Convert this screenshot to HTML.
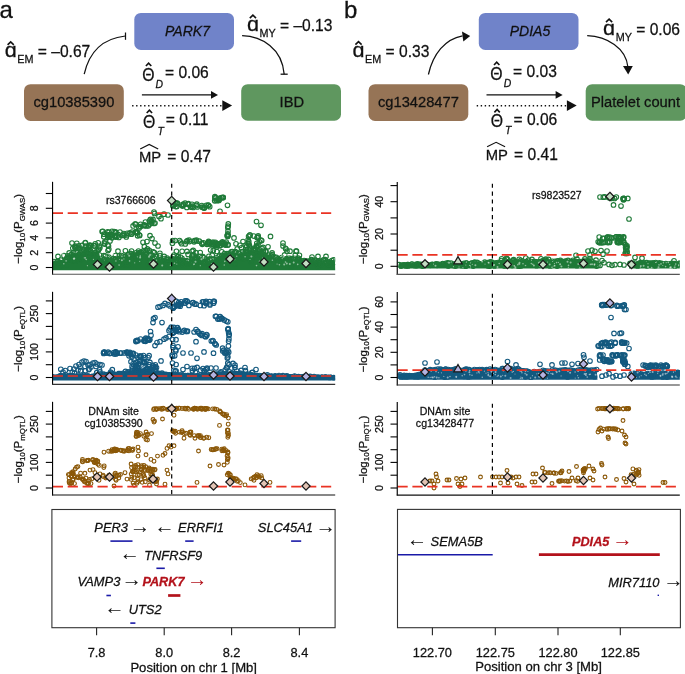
<!DOCTYPE html>
<html><head><meta charset="utf-8"><title>Figure</title>
<style>html,body{margin:0;padding:0;background:#fff}svg{display:block}</style></head>
<body>
<svg width="685" height="674" viewBox="0 0 685 674" font-family='"Liberation Sans", sans-serif' fill="#111">
<rect width="685" height="674" fill="#fff"/><g opacity="0.999">
<rect x="134.3" y="12.9" width="99.7" height="37.1" rx="6.5" fill="#7083c9" stroke="none"/><rect x="24" y="84.2" width="99.8" height="36.8" rx="6.5" fill="#967456" stroke="none"/><rect x="241.2" y="84.2" width="99.8" height="36.5" rx="6.5" fill="#5f975f" stroke="none"/><text x="187.5" y="35.9" font-size="14" font-style="italic" text-anchor="middle">PARK7</text><text x="73.9" y="107.4" font-size="14.7" text-anchor="middle">cg10385390</text><text x="291.8" y="107.2" font-size="14.7" text-anchor="middle">IBD</text>
<rect x="478.8" y="12.9" width="99.7" height="37.1" rx="6.5" fill="#7083c9" stroke="none"/><rect x="368.5" y="84.2" width="99.8" height="36.8" rx="6.5" fill="#967456" stroke="none"/><rect x="585.7" y="84.2" width="101" height="36.5" rx="6.5" fill="#5f975f" stroke="none"/><text x="530" y="35.9" font-size="14" font-style="italic" text-anchor="middle">PDIA5</text><text x="418.4" y="107.4" font-size="14.7" text-anchor="middle">cg13428477</text><text x="635.5" y="107.2" font-size="14.7" text-anchor="middle">Platelet count</text>
<text x="-0.5" y="18" font-size="24">a</text>
<text x="344" y="17.8" font-size="24">b</text>
<text transform="translate(4.7 57.3) scale(1.08 1)" font-size="20">ɑ</text><path d="M7.6 44.8L10.7 41.9L13.8 44.8" stroke="#111" stroke-width="1.6" fill="none" stroke-linejoin="miter"/><text x="17.3" y="63.4" font-size="10.8">EM</text><text x="37.8" y="57.3" font-size="15.6">= –0.67</text>
<text transform="translate(246.9 30.6) scale(1.08 1)" font-size="20">ɑ</text><path d="M249.8 18.1L252.9 15.2L256.0 18.1" stroke="#111" stroke-width="1.6" fill="none" stroke-linejoin="miter"/><text x="259.5" y="36.7" font-size="10.8">MY</text><text x="280.0" y="30.6" font-size="15.6">= –0.13</text>
<text transform="translate(352.5 57.1) scale(1.08 1)" font-size="20">ɑ</text><path d="M355.4 44.6L358.5 41.7L361.6 44.6" stroke="#111" stroke-width="1.6" fill="none" stroke-linejoin="miter"/><text x="365.09999999999997" y="63.2" font-size="10.8">EM</text><text x="385.59999999999997" y="57.1" font-size="15.6">= 0.33</text>
<text transform="translate(603.0999999999999 34.6) scale(1.08 1)" font-size="20">ɑ</text><path d="M606.0 22.1L609.1 19.2L612.2 22.1" stroke="#111" stroke-width="1.6" fill="none" stroke-linejoin="miter"/><text x="615.6999999999999" y="40.7" font-size="10.8">MY</text><text x="636.1999999999999" y="34.6" font-size="15.6">= 0.06</text>
<text transform="translate(142.20000000000002 81.0) scale(0.86 1)" font-size="18.4">Θ</text><path d="M145.9 66.0L148.6 63.1L151.3 66.0" stroke="#111" stroke-width="1.6" fill="none" stroke-linejoin="miter"/><text x="155.6" y="87.80000000000001" font-size="10.4" font-style="italic">D</text><text x="165.0" y="78.4" font-size="15.6">= 0.06</text>
<text transform="translate(143.0 128.0) scale(0.86 1)" font-size="18.4">Θ</text><path d="M146.7 113.0L149.4 110.1L152.1 113.0" stroke="#111" stroke-width="1.6" fill="none" stroke-linejoin="miter"/><text x="157.39999999999998" y="134.8" font-size="10.4" font-style="italic">T</text><text x="165.79999999999998" y="125.4" font-size="15.6">= 0.11</text>
<text transform="translate(490.3 80.0) scale(0.86 1)" font-size="18.4">Θ</text><path d="M494.0 65.0L496.7 62.1L499.4 65.0" stroke="#111" stroke-width="1.6" fill="none" stroke-linejoin="miter"/><text x="503.7" y="86.80000000000001" font-size="10.4" font-style="italic">D</text><text x="513.1" y="77.4" font-size="15.6">= 0.03</text>
<text transform="translate(490.7 127.39999999999999) scale(0.86 1)" font-size="18.4">Θ</text><path d="M494.4 112.4L497.1 109.5L499.8 112.4" stroke="#111" stroke-width="1.6" fill="none" stroke-linejoin="miter"/><text x="505.09999999999997" y="134.2" font-size="10.4" font-style="italic">T</text><text x="513.5" y="124.8" font-size="15.6">= 0.06</text>
<text x="138.9" y="162.0" font-size="14.8">MP</text><text x="167.20000000000002" y="162.0" font-size="15.6">= 0.47</text><path d="M140.20000000000002 148.9Q145.20000000000002 146.4 149.20000000000002 144.4Q153.20000000000002 146.4 158.20000000000002 148.9" stroke="#111" stroke-width="1.15" fill="none"/>
<text x="485.8" y="159.9" font-size="14.8">MP</text><text x="514.1" y="159.9" font-size="15.6">= 0.41</text><path d="M487.1 146.8Q492.1 144.3 496.1 142.3Q500.1 144.3 505.1 146.8" stroke="#111" stroke-width="1.15" fill="none"/>
<path d="M141.9 94.9H212" stroke="#111" stroke-width="1.25" fill="none"/><path d="M218 94.9l-7 -3.8v7.6z" fill="#111"/><path d="M132.1 105.7H223" stroke="#111" stroke-width="1.4" stroke-dasharray="1.4 2.6" fill="none"/><path d="M232.1 105.6l-9.8 -5.4v10.8z" fill="#111"/>
<path d="M486.5 94.9H556.6" stroke="#111" stroke-width="1.25" fill="none"/><path d="M562.6 94.9l-7 -3.8v7.6z" fill="#111"/><path d="M476.70000000000005 105.7H567.6" stroke="#111" stroke-width="1.4" stroke-dasharray="1.4 2.6" fill="none"/><path d="M576.7 105.6l-9.8 -5.4v10.8z" fill="#111"/>
<path d="M84.2 74.2C88.8 53.7 100.8 38.7 125.3 36" stroke="#111" stroke-width="1.25" fill="none"/>
<path d="M125.5 32.5V39.8" stroke="#111" stroke-width="1.25" fill="none"/>
<path d="M242.1 35.7C262 36.5 282 48 284.2 74.2" stroke="#111" stroke-width="1.3" fill="none"/>
<path d="M280.6 74.2H287.7" stroke="#111" stroke-width="1.3" fill="none"/>
<path d="M428.4 74.5C433 54 445 39 462.5 35.8" stroke="#111" stroke-width="1.25" fill="none"/>
<path d="M470.2 36.1L462 31.5L463.3 41.5Z" fill="#111"/>
<path d="M587.2 35.7C607 36.5 626 48 627.9 67" stroke="#111" stroke-width="1.25" fill="none"/>
<path d="M628.2 74.5L623 66.1H632.8Z" fill="#111"/>
<defs><style>text{stroke:#111;stroke-width:.26px}text.r{stroke:#b3121b}text.ar{stroke:none}.pg,.pb,.pm{fill:none}.pg{stroke:#1f7a38;stroke-width:1.1}.pb{stroke:#13597f;stroke-width:1.1}.pm{stroke:#8b5808;stroke-width:1.12}</style>
<clipPath id="ca0"><rect x="52.8" y="177.8" width="282.4" height="96.0"/></clipPath>
<clipPath id="ca1"><rect x="52.8" y="287.8" width="282.4" height="96.59999999999997"/></clipPath>
<clipPath id="ca2"><rect x="52.8" y="397.8" width="282.4" height="97.39999999999998"/></clipPath>
<clipPath id="cb0"><rect x="397.5" y="178" width="282.29999999999995" height="96.39999999999998"/></clipPath>
<clipPath id="cb1"><rect x="397.5" y="288" width="282.29999999999995" height="97"/></clipPath>
<clipPath id="cb2"><rect x="397.5" y="398" width="282.29999999999995" height="97.5"/></clipPath>
</defs>
<path d="M52.8 270.2L52.8 262.7L54.1 262.3L55.4 263.1L56.7 262.0L58.0 262.7L59.3 262.3L60.6 261.6L61.9 262.3L63.2 260.9L64.5 261.0L65.8 259.7L67.1 259.1L68.4 258.7L69.7 257.7L71.0 254.8L72.3 253.6L73.6 254.0L74.9 254.2L76.2 253.2L77.5 252.5L78.8 253.2L80.1 251.1L81.4 252.5L82.7 251.4L84.0 251.0L85.3 250.9L86.6 251.1L87.9 251.9L89.2 250.7L90.5 251.5L91.8 251.8L93.1 251.6L94.4 252.1L95.7 251.5L97.0 251.7L98.3 252.7L99.6 255.8L100.9 257.6L102.2 258.8L103.5 260.6L104.8 261.7L106.1 262.7L107.4 263.3L108.7 262.9L110.0 261.9L111.3 262.0L112.6 261.4L113.9 261.6L115.2 261.1L116.5 260.2L117.8 261.4L119.1 259.7L120.4 260.1L121.7 260.6L123.0 258.5L124.3 258.0L125.6 255.9L126.9 256.1L128.2 255.5L129.5 254.4L130.8 254.1L132.1 252.4L133.4 253.1L134.7 252.9L136.0 252.8L137.3 252.6L138.6 253.3L139.9 253.5L141.2 252.7L142.5 253.0L143.8 251.9L145.1 253.1L146.4 253.8L147.7 255.2L149.0 255.6L150.3 255.4L151.6 256.4L152.9 257.7L154.2 257.3L155.5 258.6L156.8 258.0L158.1 257.9L159.4 257.8L160.7 259.1L162.0 258.0L163.3 258.2L164.6 258.4L165.9 259.6L167.2 258.6L168.5 259.6L169.8 260.2L171.1 261.2L172.4 261.5L173.7 261.9L175.0 261.1L176.3 261.7L177.6 261.9L178.9 263.1L180.2 263.5L181.5 262.1L182.8 262.1L184.1 262.2L185.4 262.2L186.7 262.7L188.0 262.9L189.3 262.3L190.6 261.8L191.9 262.5L193.2 262.5L194.5 262.8L195.8 263.5L197.1 263.0L198.4 262.7L199.7 262.9L201.0 262.9L202.3 261.7L203.6 263.1L204.9 262.7L206.2 262.8L207.5 262.5L208.8 261.7L210.1 261.6L211.4 260.9L212.7 261.3L214.0 259.3L215.3 258.4L216.6 257.7L217.9 256.6L219.2 256.2L220.5 255.0L221.8 254.2L223.1 253.8L224.4 253.0L225.7 253.1L227.0 252.4L228.3 253.8L229.6 253.2L230.9 252.2L232.2 252.3L233.5 252.5L234.8 252.6L236.1 252.3L237.4 253.6L238.7 254.0L240.0 253.1L241.3 253.2L242.6 252.6L243.9 252.7L245.2 253.0L246.5 252.1L247.8 252.4L249.1 250.4L250.4 249.6L251.7 251.3L253.0 250.5L254.3 249.8L255.6 250.6L256.9 249.6L258.2 250.5L259.5 251.3L260.8 251.1L262.1 250.9L263.4 250.9L264.7 251.9L266.0 252.3L267.3 254.2L268.6 254.6L269.9 255.7L271.2 255.6L272.5 256.1L273.8 257.8L275.1 258.8L276.4 258.7L277.7 258.8L279.0 259.0L280.3 259.1L281.6 258.4L282.9 259.1L284.2 259.0L285.5 258.6L286.8 258.8L288.1 259.5L289.4 259.6L290.7 260.6L292.0 261.3L293.3 260.6L294.6 261.6L295.9 261.9L297.2 262.0L298.5 261.1L299.8 261.0L301.1 261.1L302.4 261.1L303.7 261.1L305.0 261.9L306.3 262.4L307.6 262.3L308.9 261.6L310.2 262.0L311.5 262.2L312.8 261.0L314.1 262.0L315.4 262.5L316.7 262.3L318.0 262.2L319.3 261.7L320.6 261.2L321.9 262.3L323.2 261.5L324.5 262.4L325.8 262.7L327.1 261.7L328.4 261.7L329.7 262.7L331.0 262.3L332.3 261.3L333.6 261.3L334.9 261.3L336.0 270.2Z" fill="#1f7a38" clip-path="url(#ca0)"/>
<g class="pg" clip-path="url(#ca0)"><circle cx="52.8" cy="264.0" r="2.3"/><circle cx="55.4" cy="264.0" r="2.3"/><circle cx="58.0" cy="261.6" r="2.3"/><circle cx="60.6" cy="262.6" r="2.3"/><circle cx="63.2" cy="262.3" r="2.3"/><circle cx="65.8" cy="260.1" r="2.3"/><circle cx="68.4" cy="258.3" r="2.3"/><circle cx="71.0" cy="254.9" r="2.3"/><circle cx="73.6" cy="252.9" r="2.3"/><circle cx="76.2" cy="251.7" r="2.3"/><circle cx="78.8" cy="254.6" r="2.3"/><circle cx="81.4" cy="253.0" r="2.3"/><circle cx="84.0" cy="251.1" r="2.3"/><circle cx="86.6" cy="252.4" r="2.3"/><circle cx="89.2" cy="250.5" r="2.3"/><circle cx="91.8" cy="252.9" r="2.3"/><circle cx="94.4" cy="253.1" r="2.3"/><circle cx="97.0" cy="250.9" r="2.3"/><circle cx="99.6" cy="255.0" r="2.3"/><circle cx="102.2" cy="258.2" r="2.3"/><circle cx="104.8" cy="261.0" r="2.3"/><circle cx="107.4" cy="263.6" r="2.3"/><circle cx="110.0" cy="261.1" r="2.3"/><circle cx="112.6" cy="261.2" r="2.3"/><circle cx="115.2" cy="260.0" r="2.3"/><circle cx="117.8" cy="262.6" r="2.3"/><circle cx="120.4" cy="259.7" r="2.3"/><circle cx="123.0" cy="258.4" r="2.3"/><circle cx="125.6" cy="256.2" r="2.3"/><circle cx="128.2" cy="256.7" r="2.3"/><circle cx="130.8" cy="253.9" r="2.3"/><circle cx="133.4" cy="254.3" r="2.3"/><circle cx="136.0" cy="252.8" r="2.3"/><circle cx="138.6" cy="253.4" r="2.3"/><circle cx="141.2" cy="252.7" r="2.3"/><circle cx="143.8" cy="250.5" r="2.3"/><circle cx="146.4" cy="253.6" r="2.3"/><circle cx="149.0" cy="254.7" r="2.3"/><circle cx="151.6" cy="254.9" r="2.3"/><circle cx="154.2" cy="258.2" r="2.3"/><circle cx="156.8" cy="257.0" r="2.3"/><circle cx="159.4" cy="257.7" r="2.3"/><circle cx="162.0" cy="258.6" r="2.3"/><circle cx="164.6" cy="258.6" r="2.3"/><circle cx="167.2" cy="258.0" r="2.3"/><circle cx="169.8" cy="260.3" r="2.3"/><circle cx="172.4" cy="261.7" r="2.3"/><circle cx="175.0" cy="262.0" r="2.3"/><circle cx="177.6" cy="260.7" r="2.3"/><circle cx="180.2" cy="263.7" r="2.3"/><circle cx="182.8" cy="261.4" r="2.3"/><circle cx="185.4" cy="261.5" r="2.3"/><circle cx="188.0" cy="263.7" r="2.3"/><circle cx="190.6" cy="261.8" r="2.3"/><circle cx="193.2" cy="262.6" r="2.3"/><circle cx="195.8" cy="264.3" r="2.3"/><circle cx="198.4" cy="264.0" r="2.3"/><circle cx="201.0" cy="262.7" r="2.3"/><circle cx="203.6" cy="263.4" r="2.3"/><circle cx="206.2" cy="262.8" r="2.3"/><circle cx="208.8" cy="261.7" r="2.3"/><circle cx="211.4" cy="261.5" r="2.3"/><circle cx="214.0" cy="259.2" r="2.3"/><circle cx="216.6" cy="257.8" r="2.3"/><circle cx="219.2" cy="256.2" r="2.3"/><circle cx="221.8" cy="255.6" r="2.3"/><circle cx="224.4" cy="253.6" r="2.3"/><circle cx="227.0" cy="253.5" r="2.3"/><circle cx="229.6" cy="254.5" r="2.3"/><circle cx="232.2" cy="251.5" r="2.3"/><circle cx="234.8" cy="252.8" r="2.3"/><circle cx="237.4" cy="255.0" r="2.3"/><circle cx="240.0" cy="254.1" r="2.3"/><circle cx="242.6" cy="251.5" r="2.3"/><circle cx="245.2" cy="251.9" r="2.3"/><circle cx="247.8" cy="252.2" r="2.3"/><circle cx="250.4" cy="248.3" r="2.3"/><circle cx="253.0" cy="249.8" r="2.3"/><circle cx="255.6" cy="249.3" r="2.3"/><circle cx="258.2" cy="251.0" r="2.3"/><circle cx="260.8" cy="252.0" r="2.3"/><circle cx="263.4" cy="252.1" r="2.3"/><circle cx="266.0" cy="251.3" r="2.3"/><circle cx="268.6" cy="255.2" r="2.3"/><circle cx="271.2" cy="256.0" r="2.3"/><circle cx="273.8" cy="256.7" r="2.3"/><circle cx="276.4" cy="259.9" r="2.3"/><circle cx="279.0" cy="260.4" r="2.3"/><circle cx="281.6" cy="257.5" r="2.3"/><circle cx="284.2" cy="260.3" r="2.3"/><circle cx="286.8" cy="258.5" r="2.3"/><circle cx="289.4" cy="259.6" r="2.3"/><circle cx="292.0" cy="262.8" r="2.3"/><circle cx="294.6" cy="262.6" r="2.3"/><circle cx="297.2" cy="261.0" r="2.3"/><circle cx="299.8" cy="260.8" r="2.3"/><circle cx="302.4" cy="261.1" r="2.3"/><circle cx="305.0" cy="261.4" r="2.3"/><circle cx="307.6" cy="261.4" r="2.3"/><circle cx="310.2" cy="261.4" r="2.3"/><circle cx="312.8" cy="261.6" r="2.3"/><circle cx="315.4" cy="261.0" r="2.3"/><circle cx="318.0" cy="262.4" r="2.3"/><circle cx="320.6" cy="261.0" r="2.3"/><circle cx="323.2" cy="260.1" r="2.3"/><circle cx="325.8" cy="262.2" r="2.3"/><circle cx="328.4" cy="262.1" r="2.3"/><circle cx="331.0" cy="262.3" r="2.3"/><circle cx="333.6" cy="259.9" r="2.3"/><circle cx="331.8" cy="260.6" r="2.3"/><circle cx="328.0" cy="265.0" r="2.3"/><circle cx="128.2" cy="264.6" r="2.3"/><circle cx="273.5" cy="260.9" r="2.3"/><circle cx="89.7" cy="255.5" r="2.3"/><circle cx="310.9" cy="260.2" r="2.3"/><circle cx="126.2" cy="262.3" r="2.3"/><circle cx="313.1" cy="261.5" r="2.3"/><circle cx="251.2" cy="261.7" r="2.3"/><circle cx="69.3" cy="257.5" r="2.3"/><circle cx="173.4" cy="265.2" r="2.3"/><circle cx="318.6" cy="261.2" r="2.3"/><circle cx="279.9" cy="264.3" r="2.3"/><circle cx="295.3" cy="265.2" r="2.3"/><circle cx="297.2" cy="261.8" r="2.3"/><circle cx="149.0" cy="256.6" r="2.3"/><circle cx="315.2" cy="263.4" r="2.3"/><circle cx="89.6" cy="254.1" r="2.3"/><circle cx="120.5" cy="264.4" r="2.3"/><circle cx="98.7" cy="263.9" r="2.3"/><circle cx="110.1" cy="263.3" r="2.3"/><circle cx="139.3" cy="252.7" r="2.3"/><circle cx="135.1" cy="255.5" r="2.3"/><circle cx="103.3" cy="262.0" r="2.3"/><circle cx="58.1" cy="264.0" r="2.3"/><circle cx="57.3" cy="261.5" r="2.3"/><circle cx="208.9" cy="264.1" r="2.3"/><circle cx="187.4" cy="260.7" r="2.3"/><circle cx="83.1" cy="251.2" r="2.3"/><circle cx="175.3" cy="261.8" r="2.3"/><circle cx="289.2" cy="261.4" r="2.3"/><circle cx="196.4" cy="261.7" r="2.3"/><circle cx="331.0" cy="262.9" r="2.3"/><circle cx="288.5" cy="259.3" r="2.3"/><circle cx="233.0" cy="256.7" r="2.3"/><circle cx="151.4" cy="264.4" r="2.3"/><circle cx="89.7" cy="262.6" r="2.3"/><circle cx="262.7" cy="258.0" r="2.3"/><circle cx="99.2" cy="263.2" r="2.3"/><circle cx="291.1" cy="258.7" r="2.3"/><circle cx="242.8" cy="258.8" r="2.3"/><circle cx="121.5" cy="262.3" r="2.3"/><circle cx="183.0" cy="264.7" r="2.3"/><circle cx="179.2" cy="263.8" r="2.3"/><circle cx="325.2" cy="259.7" r="2.3"/><circle cx="207.8" cy="263.7" r="2.3"/><circle cx="326.3" cy="263.1" r="2.3"/><circle cx="153.9" cy="267.1" r="2.3"/><circle cx="161.0" cy="259.9" r="2.3"/><circle cx="195.3" cy="264.3" r="2.3"/><circle cx="195.8" cy="267.0" r="2.3"/><circle cx="127.8" cy="263.2" r="2.3"/><circle cx="166.1" cy="265.3" r="2.3"/><circle cx="59.4" cy="263.5" r="2.3"/><circle cx="118.9" cy="260.4" r="2.3"/><circle cx="202.8" cy="261.2" r="2.3"/><circle cx="239.1" cy="253.4" r="2.3"/><circle cx="301.8" cy="262.4" r="2.3"/><circle cx="145.3" cy="250.8" r="2.3"/><circle cx="95.3" cy="252.6" r="2.3"/><circle cx="235.0" cy="264.0" r="2.3"/><circle cx="289.4" cy="258.4" r="2.3"/><circle cx="230.5" cy="253.1" r="2.3"/><circle cx="282.9" cy="263.5" r="2.3"/><circle cx="201.2" cy="262.4" r="2.3"/><circle cx="289.3" cy="258.8" r="2.3"/><circle cx="286.9" cy="259.8" r="2.3"/><circle cx="305.7" cy="260.8" r="2.3"/><circle cx="249.2" cy="258.5" r="2.3"/><circle cx="61.8" cy="264.8" r="2.3"/><circle cx="155.1" cy="263.9" r="2.3"/><circle cx="289.5" cy="260.3" r="2.3"/><circle cx="230.7" cy="254.1" r="2.3"/><circle cx="245.6" cy="255.9" r="2.3"/><circle cx="53.9" cy="261.5" r="2.3"/><circle cx="264.8" cy="255.1" r="2.3"/><circle cx="204.5" cy="261.5" r="2.3"/><circle cx="71.7" cy="254.5" r="2.3"/><circle cx="124.4" cy="264.3" r="2.3"/><circle cx="128.2" cy="255.0" r="2.3"/><circle cx="111.1" cy="260.8" r="2.3"/><circle cx="329.1" cy="262.0" r="2.3"/><circle cx="161.3" cy="259.8" r="2.3"/><circle cx="246.5" cy="252.5" r="2.3"/><circle cx="227.6" cy="254.2" r="2.3"/><circle cx="74.9" cy="261.2" r="2.3"/><circle cx="124.9" cy="256.9" r="2.3"/><circle cx="139.2" cy="254.7" r="2.3"/><circle cx="56.5" cy="265.8" r="2.3"/><circle cx="129.1" cy="255.0" r="2.3"/><circle cx="248.9" cy="252.2" r="2.3"/><circle cx="135.3" cy="255.3" r="2.3"/><circle cx="184.5" cy="262.7" r="2.3"/><circle cx="86.5" cy="250.3" r="2.3"/><circle cx="109.4" cy="260.3" r="2.3"/><circle cx="318.0" cy="266.4" r="2.3"/><circle cx="182.9" cy="261.1" r="2.3"/><circle cx="327.0" cy="262.2" r="2.3"/><circle cx="129.0" cy="260.5" r="2.3"/><circle cx="320.6" cy="263.9" r="2.3"/><circle cx="217.6" cy="262.9" r="2.3"/><circle cx="201.3" cy="260.5" r="2.3"/><circle cx="90.5" cy="250.8" r="2.3"/><circle cx="197.0" cy="260.9" r="2.3"/><circle cx="252.0" cy="258.2" r="2.3"/><circle cx="307.1" cy="261.9" r="2.3"/><circle cx="60.0" cy="267.1" r="2.3"/><circle cx="192.1" cy="262.8" r="2.3"/><circle cx="138.5" cy="261.1" r="2.3"/><circle cx="150.3" cy="259.7" r="2.3"/><circle cx="290.8" cy="267.1" r="2.3"/><circle cx="265.5" cy="251.8" r="2.3"/><circle cx="87.0" cy="249.9" r="2.3"/><circle cx="254.8" cy="249.2" r="2.3"/><circle cx="135.0" cy="257.1" r="2.3"/><circle cx="164.2" cy="256.4" r="2.3"/><circle cx="219.7" cy="259.4" r="2.3"/><circle cx="174.1" cy="263.1" r="2.3"/><circle cx="66.7" cy="264.4" r="2.3"/><circle cx="289.2" cy="262.3" r="2.3"/><circle cx="317.8" cy="263.5" r="2.3"/><circle cx="128.2" cy="257.0" r="2.3"/><circle cx="106.7" cy="263.3" r="2.3"/><circle cx="323.6" cy="260.1" r="2.3"/><circle cx="282.8" cy="259.0" r="2.3"/><circle cx="311.5" cy="259.7" r="2.3"/><circle cx="208.4" cy="260.9" r="2.3"/><circle cx="67.0" cy="259.1" r="2.3"/><circle cx="180.6" cy="261.4" r="2.3"/><circle cx="235.4" cy="258.5" r="2.3"/><circle cx="66.9" cy="258.1" r="2.3"/><circle cx="89.0" cy="254.8" r="2.3"/><circle cx="150.3" cy="259.9" r="2.3"/><circle cx="262.1" cy="248.6" r="2.3"/><circle cx="126.6" cy="256.4" r="2.3"/><circle cx="138.1" cy="254.8" r="2.3"/><circle cx="164.6" cy="263.0" r="2.3"/><circle cx="98.7" cy="260.3" r="2.3"/><circle cx="309.4" cy="261.8" r="2.3"/><circle cx="115.3" cy="258.9" r="2.3"/><circle cx="335.0" cy="262.3" r="2.3"/><circle cx="92.5" cy="259.6" r="2.3"/><circle cx="78.7" cy="257.3" r="2.3"/><circle cx="78.8" cy="259.0" r="2.3"/><circle cx="126.1" cy="257.4" r="2.3"/><circle cx="304.1" cy="260.5" r="2.3"/><circle cx="169.8" cy="261.3" r="2.3"/><circle cx="201.3" cy="263.1" r="2.3"/><circle cx="148.7" cy="263.8" r="2.3"/><circle cx="131.5" cy="251.0" r="2.3"/><circle cx="88.6" cy="254.4" r="2.3"/><circle cx="231.2" cy="251.8" r="2.3"/><circle cx="114.1" cy="262.9" r="2.3"/><circle cx="123.3" cy="260.7" r="2.3"/><circle cx="179.2" cy="260.4" r="2.3"/><circle cx="293.2" cy="259.0" r="2.3"/><circle cx="59.2" cy="266.2" r="2.3"/><circle cx="253.8" cy="249.3" r="2.3"/><circle cx="186.9" cy="262.1" r="2.3"/><circle cx="53.1" cy="263.3" r="2.3"/><circle cx="315.3" cy="260.2" r="2.3"/><circle cx="295.1" cy="258.8" r="2.3"/><circle cx="123.3" cy="263.9" r="2.3"/><circle cx="96.7" cy="255.0" r="2.3"/><circle cx="246.0" cy="251.1" r="2.3"/><circle cx="257.3" cy="252.0" r="2.3"/><circle cx="269.4" cy="257.5" r="2.3"/><circle cx="209.1" cy="265.9" r="2.3"/><circle cx="274.4" cy="261.6" r="2.3"/><circle cx="313.3" cy="261.1" r="2.3"/><circle cx="139.0" cy="261.4" r="2.3"/><circle cx="124.3" cy="258.2" r="2.3"/><circle cx="250.7" cy="261.1" r="2.3"/><circle cx="72.9" cy="256.1" r="2.3"/><circle cx="218.0" cy="259.7" r="2.3"/><circle cx="116.3" cy="260.5" r="2.3"/><circle cx="56.0" cy="263.7" r="2.3"/><circle cx="183.4" cy="260.6" r="2.3"/><circle cx="235.4" cy="251.7" r="2.3"/><circle cx="187.5" cy="264.1" r="2.3"/><circle cx="122.9" cy="257.2" r="2.3"/><circle cx="252.4" cy="256.8" r="2.3"/><circle cx="59.2" cy="262.4" r="2.3"/><circle cx="243.9" cy="256.9" r="2.3"/><circle cx="125.8" cy="256.8" r="2.3"/><circle cx="314.8" cy="263.7" r="2.3"/><circle cx="62.6" cy="263.0" r="2.3"/><circle cx="172.0" cy="260.2" r="2.3"/><circle cx="109.1" cy="261.0" r="2.3"/><circle cx="262.2" cy="253.9" r="2.3"/><circle cx="111.1" cy="259.8" r="2.3"/><circle cx="141.2" cy="252.1" r="2.3"/><circle cx="118.3" cy="263.1" r="2.3"/><circle cx="268.2" cy="259.1" r="2.3"/><circle cx="322.4" cy="261.9" r="2.3"/><circle cx="106.0" cy="264.4" r="2.3"/><circle cx="171.0" cy="260.0" r="2.3"/><circle cx="321.5" cy="264.5" r="2.3"/><circle cx="164.3" cy="262.4" r="2.3"/><circle cx="328.7" cy="264.5" r="2.3"/><circle cx="72.4" cy="260.7" r="2.3"/><circle cx="154.4" cy="252.6" r="2.3"/><circle cx="272.1" cy="252.9" r="2.3"/><circle cx="299.4" cy="255.3" r="2.3"/><circle cx="139.0" cy="258.7" r="2.3"/><circle cx="284.6" cy="254.9" r="2.3"/><circle cx="67.7" cy="255.8" r="2.3"/><circle cx="150.9" cy="257.1" r="2.3"/><circle cx="139.6" cy="258.9" r="2.3"/><circle cx="60.7" cy="260.0" r="2.3"/><circle cx="144.4" cy="246.7" r="2.3"/><circle cx="89.7" cy="245.2" r="2.3"/><circle cx="109.8" cy="259.5" r="2.3"/><circle cx="257.2" cy="247.0" r="2.3"/><circle cx="163.8" cy="261.1" r="2.3"/><circle cx="173.6" cy="259.0" r="2.3"/><circle cx="280.7" cy="259.7" r="2.3"/><circle cx="147.4" cy="248.9" r="2.3"/><circle cx="67.3" cy="258.1" r="2.3"/><circle cx="254.8" cy="248.0" r="2.3"/><circle cx="69.8" cy="261.2" r="2.3"/><circle cx="75.0" cy="247.9" r="2.3"/><circle cx="121.7" cy="255.5" r="2.3"/><circle cx="275.7" cy="258.1" r="2.3"/><circle cx="125.4" cy="250.8" r="2.3"/><circle cx="208.1" cy="259.9" r="2.3"/><circle cx="232.0" cy="256.7" r="2.3"/><circle cx="126.2" cy="261.5" r="2.3"/><circle cx="241.4" cy="247.8" r="2.3"/><circle cx="212.2" cy="255.2" r="2.3"/><circle cx="65.8" cy="259.8" r="2.3"/><circle cx="174.0" cy="255.0" r="2.3"/><circle cx="288.9" cy="258.4" r="2.3"/><circle cx="120.3" cy="258.1" r="2.3"/><circle cx="178.4" cy="256.1" r="2.3"/><circle cx="103.9" cy="255.7" r="2.3"/><circle cx="237.2" cy="249.0" r="2.3"/><circle cx="245.5" cy="252.4" r="2.3"/><circle cx="138.7" cy="256.6" r="2.3"/><circle cx="146.8" cy="250.3" r="2.3"/><circle cx="79.0" cy="258.4" r="2.3"/><circle cx="240.7" cy="257.9" r="2.3"/><circle cx="75.5" cy="261.1" r="2.3"/><circle cx="192.6" cy="259.8" r="2.3"/><circle cx="295.3" cy="255.1" r="2.3"/><circle cx="297.1" cy="259.7" r="2.3"/><circle cx="80.2" cy="260.0" r="2.3"/><circle cx="179.6" cy="257.6" r="2.3"/><circle cx="167.3" cy="259.5" r="2.3"/><circle cx="160.0" cy="255.6" r="2.3"/><circle cx="221.8" cy="251.8" r="2.3"/><circle cx="263.3" cy="250.3" r="2.3"/><circle cx="89.1" cy="247.3" r="2.3"/><circle cx="130.5" cy="253.3" r="2.3"/><circle cx="149.5" cy="252.1" r="2.3"/><circle cx="107.8" cy="260.2" r="2.3"/><circle cx="118.9" cy="260.4" r="2.3"/><circle cx="272.2" cy="254.7" r="2.3"/><circle cx="138.3" cy="255.4" r="2.3"/><circle cx="298.2" cy="258.1" r="2.3"/><circle cx="115.5" cy="255.5" r="2.3"/><circle cx="216.8" cy="251.5" r="2.3"/><circle cx="84.6" cy="253.7" r="2.3"/><circle cx="256.6" cy="246.7" r="2.3"/><circle cx="279.5" cy="261.2" r="2.3"/><circle cx="130.5" cy="259.8" r="2.3"/><circle cx="105.5" cy="256.0" r="2.3"/><circle cx="200.0" cy="256.4" r="2.3"/><circle cx="149.3" cy="250.3" r="2.3"/><circle cx="167.8" cy="259.3" r="2.3"/><circle cx="246.7" cy="246.7" r="2.3"/><circle cx="85.4" cy="251.6" r="2.3"/><circle cx="208.8" cy="260.2" r="2.3"/><circle cx="148.5" cy="259.7" r="2.3"/><circle cx="109.0" cy="260.1" r="2.3"/><circle cx="203.9" cy="257.7" r="2.3"/><circle cx="108.8" cy="261.5" r="2.3"/><circle cx="138.5" cy="251.0" r="2.3"/><circle cx="104.4" cy="259.5" r="2.3"/><circle cx="108.8" cy="257.0" r="2.3"/><circle cx="191.5" cy="261.2" r="2.3"/><circle cx="84.3" cy="255.0" r="2.3"/><circle cx="192.0" cy="258.0" r="2.3"/><circle cx="81.9" cy="258.9" r="2.3"/><circle cx="226.9" cy="255.4" r="2.3"/><circle cx="128.0" cy="257.6" r="2.3"/><circle cx="288.8" cy="259.0" r="2.3"/><circle cx="196.0" cy="259.6" r="2.3"/><circle cx="159.9" cy="253.3" r="2.3"/><circle cx="299.2" cy="259.1" r="2.3"/><circle cx="107.3" cy="257.6" r="2.3"/><circle cx="108.9" cy="261.5" r="2.3"/><circle cx="276.4" cy="257.3" r="2.3"/><circle cx="256.9" cy="254.4" r="2.3"/><circle cx="271.9" cy="256.0" r="2.3"/><circle cx="99.0" cy="261.4" r="2.3"/><circle cx="192.4" cy="258.0" r="2.3"/><circle cx="278.4" cy="260.7" r="2.3"/><circle cx="209.3" cy="259.2" r="2.3"/><circle cx="181.1" cy="260.8" r="2.3"/><circle cx="128.0" cy="254.8" r="2.3"/><circle cx="282.1" cy="260.6" r="2.3"/><circle cx="177.7" cy="256.7" r="2.3"/><circle cx="292.1" cy="260.0" r="2.3"/><circle cx="90.4" cy="245.6" r="2.3"/><circle cx="294.1" cy="258.0" r="2.3"/><circle cx="72.8" cy="248.3" r="2.3"/><circle cx="153.1" cy="251.9" r="2.3"/><circle cx="208.9" cy="256.3" r="2.3"/><circle cx="98.5" cy="250.0" r="2.3"/><circle cx="113.3" cy="258.7" r="2.3"/><circle cx="263.1" cy="247.4" r="2.3"/><circle cx="103.9" cy="260.0" r="2.3"/><circle cx="155.9" cy="256.6" r="2.3"/><circle cx="152.1" cy="260.2" r="2.3"/><circle cx="119.3" cy="255.9" r="2.3"/><circle cx="275.4" cy="261.2" r="2.3"/><circle cx="195.0" cy="257.4" r="2.3"/><circle cx="69.2" cy="252.9" r="2.3"/><circle cx="88.3" cy="251.5" r="2.3"/><circle cx="88.3" cy="247.0" r="2.3"/><circle cx="82.0" cy="245.4" r="2.3"/><circle cx="89.1" cy="245.5" r="2.3"/><circle cx="91.1" cy="245.6" r="2.3"/><circle cx="85.4" cy="242.5" r="2.3"/><circle cx="90.1" cy="246.0" r="2.3"/><circle cx="80.1" cy="248.0" r="2.3"/><circle cx="94.3" cy="245.7" r="2.3"/><circle cx="78.7" cy="245.8" r="2.3"/><circle cx="76.8" cy="243.3" r="2.3"/><circle cx="85.2" cy="243.0" r="2.3"/><circle cx="85.5" cy="246.1" r="2.3"/><circle cx="75.1" cy="247.0" r="2.3"/><circle cx="76.1" cy="247.8" r="2.3"/><circle cx="94.2" cy="246.1" r="2.3"/><circle cx="75.4" cy="246.1" r="2.3"/><circle cx="83.8" cy="249.4" r="2.3"/><circle cx="77.5" cy="248.7" r="2.3"/><circle cx="99.9" cy="247.8" r="2.3"/><circle cx="95.2" cy="243.8" r="2.3"/><circle cx="99.5" cy="246.0" r="2.3"/><circle cx="98.9" cy="249.1" r="2.3"/><circle cx="78.3" cy="248.2" r="2.3"/><circle cx="98.2" cy="242.8" r="2.3"/><circle cx="72.0" cy="243.1" r="2.3"/><circle cx="58.0" cy="256.4" r="2.3"/><circle cx="64.0" cy="255.7" r="2.3"/><circle cx="290.0" cy="251.2" r="2.3"/><circle cx="283.0" cy="246.0" r="2.3"/><circle cx="286.0" cy="249.0" r="2.3"/><circle cx="296.5" cy="251.2" r="2.3"/><circle cx="312.0" cy="257.1" r="2.3"/><circle cx="318.0" cy="256.4" r="2.3"/><circle cx="326.0" cy="256.4" r="2.3"/><circle cx="115.3" cy="236.3" r="2.3"/><circle cx="108.0" cy="237.2" r="2.3"/><circle cx="112.4" cy="236.7" r="2.3"/><circle cx="107.5" cy="234.6" r="2.3"/><circle cx="137.0" cy="232.6" r="2.3"/><circle cx="112.0" cy="234.6" r="2.3"/><circle cx="114.1" cy="231.5" r="2.3"/><circle cx="108.9" cy="232.3" r="2.3"/><circle cx="137.6" cy="235.8" r="2.3"/><circle cx="136.0" cy="232.4" r="2.3"/><circle cx="131.8" cy="232.0" r="2.3"/><circle cx="122.2" cy="235.5" r="2.3"/><circle cx="115.7" cy="237.1" r="2.3"/><circle cx="123.1" cy="235.1" r="2.3"/><circle cx="135.5" cy="231.9" r="2.3"/><circle cx="139.7" cy="235.4" r="2.3"/><circle cx="117.0" cy="236.6" r="2.3"/><circle cx="112.1" cy="237.8" r="2.3"/><circle cx="123.9" cy="233.6" r="2.3"/><circle cx="131.1" cy="234.2" r="2.3"/><circle cx="108.7" cy="236.2" r="2.3"/><circle cx="103.8" cy="236.7" r="2.3"/><circle cx="111.6" cy="235.5" r="2.3"/><circle cx="139.4" cy="235.1" r="2.3"/><circle cx="127.2" cy="233.3" r="2.3"/><circle cx="102.1" cy="231.5" r="2.3"/><circle cx="107.7" cy="235.3" r="2.3"/><circle cx="118.4" cy="234.7" r="2.3"/><circle cx="136.0" cy="232.1" r="2.3"/><circle cx="110.6" cy="235.6" r="2.3"/><circle cx="102.8" cy="231.3" r="2.3"/><circle cx="115.5" cy="231.9" r="2.3"/><circle cx="115.6" cy="232.7" r="2.3"/><circle cx="124.2" cy="235.2" r="2.3"/><circle cx="109.8" cy="235.4" r="2.3"/><circle cx="120.0" cy="232.1" r="2.3"/><circle cx="137.6" cy="232.9" r="2.3"/><circle cx="107.7" cy="231.9" r="2.3"/><circle cx="126.3" cy="237.0" r="2.3"/><circle cx="131.7" cy="233.9" r="2.3"/><circle cx="112.0" cy="231.3" r="2.3"/><circle cx="126.5" cy="235.0" r="2.3"/><circle cx="115.3" cy="235.5" r="2.3"/><circle cx="118.9" cy="237.5" r="2.3"/><circle cx="129.9" cy="232.9" r="2.3"/><circle cx="136.3" cy="231.5" r="2.3"/><circle cx="107.8" cy="245.1" r="2.3"/><circle cx="105.1" cy="241.5" r="2.3"/><circle cx="110.0" cy="241.0" r="2.3"/><circle cx="108.0" cy="250.6" r="2.3"/><circle cx="104.3" cy="242.9" r="2.3"/><circle cx="108.5" cy="246.1" r="2.3"/><circle cx="108.8" cy="249.3" r="2.3"/><circle cx="104.6" cy="244.1" r="2.3"/><circle cx="104.0" cy="234.2" r="2.3"/><circle cx="118.0" cy="251.2" r="2.3"/><circle cx="150.0" cy="235.7" r="2.3"/><circle cx="152.0" cy="238.6" r="2.3"/><circle cx="155.0" cy="243.1" r="2.3"/><circle cx="147.0" cy="241.6" r="2.3"/><circle cx="143.0" cy="242.3" r="2.3"/><circle cx="158.0" cy="246.0" r="2.3"/><circle cx="139.2" cy="227.9" r="2.3"/><circle cx="150.4" cy="219.4" r="2.3"/><circle cx="151.8" cy="221.7" r="2.3"/><circle cx="149.3" cy="221.0" r="2.3"/><circle cx="135.0" cy="224.1" r="2.3"/><circle cx="140.6" cy="226.5" r="2.3"/><circle cx="151.8" cy="220.5" r="2.3"/><circle cx="145.1" cy="225.6" r="2.3"/><circle cx="144.3" cy="224.9" r="2.3"/><circle cx="154.0" cy="223.4" r="2.3"/><circle cx="133.1" cy="225.9" r="2.3"/><circle cx="149.8" cy="224.1" r="2.3"/><circle cx="140.6" cy="224.3" r="2.3"/><circle cx="138.7" cy="226.7" r="2.3"/><circle cx="148.4" cy="225.8" r="2.3"/><circle cx="143.7" cy="225.6" r="2.3"/><circle cx="151.8" cy="223.2" r="2.3"/><circle cx="145.4" cy="222.0" r="2.3"/><circle cx="146.3" cy="225.9" r="2.3"/><circle cx="135.7" cy="224.2" r="2.3"/><circle cx="154.0" cy="212.0" r="2.3"/><circle cx="154.5" cy="213.5" r="2.3"/><circle cx="159.0" cy="216.4" r="2.3"/><circle cx="161.0" cy="218.7" r="2.3"/><circle cx="164.0" cy="214.2" r="2.3"/><circle cx="168.0" cy="215.0" r="2.3"/><circle cx="155.0" cy="223.1" r="2.3"/><circle cx="153.0" cy="219.4" r="2.3"/><circle cx="208.1" cy="205.1" r="2.3"/><circle cx="173.6" cy="205.5" r="2.3"/><circle cx="197.3" cy="207.0" r="2.3"/><circle cx="175.6" cy="204.1" r="2.3"/><circle cx="204.4" cy="208.1" r="2.3"/><circle cx="175.9" cy="206.6" r="2.3"/><circle cx="208.5" cy="205.4" r="2.3"/><circle cx="176.8" cy="206.4" r="2.3"/><circle cx="204.0" cy="207.8" r="2.3"/><circle cx="196.8" cy="204.2" r="2.3"/><circle cx="177.0" cy="203.5" r="2.3"/><circle cx="185.1" cy="203.2" r="2.3"/><circle cx="182.5" cy="206.1" r="2.3"/><circle cx="186.8" cy="207.5" r="2.3"/><circle cx="192.5" cy="206.2" r="2.3"/><circle cx="174.1" cy="204.4" r="2.3"/><circle cx="202.2" cy="207.2" r="2.3"/><circle cx="193.2" cy="207.4" r="2.3"/><circle cx="176.8" cy="203.4" r="2.3"/><circle cx="172.8" cy="205.8" r="2.3"/><circle cx="209.7" cy="206.7" r="2.3"/><circle cx="192.0" cy="204.3" r="2.3"/><circle cx="191.6" cy="207.2" r="2.3"/><circle cx="183.3" cy="204.2" r="2.3"/><circle cx="181.4" cy="205.1" r="2.3"/><circle cx="177.3" cy="203.0" r="2.3"/><circle cx="203.1" cy="207.6" r="2.3"/><circle cx="196.7" cy="205.6" r="2.3"/><circle cx="188.4" cy="203.7" r="2.3"/><circle cx="206.3" cy="205.3" r="2.3"/><circle cx="183.4" cy="205.2" r="2.3"/><circle cx="187.8" cy="204.3" r="2.3"/><circle cx="190.5" cy="206.7" r="2.3"/><circle cx="201.8" cy="205.6" r="2.3"/><circle cx="217.2" cy="200.7" r="2.3"/><circle cx="222.5" cy="197.5" r="2.3"/><circle cx="219.4" cy="199.4" r="2.3"/><circle cx="214.7" cy="200.8" r="2.3"/><circle cx="216.0" cy="197.8" r="2.3"/><circle cx="223.2" cy="197.4" r="2.3"/><circle cx="214.9" cy="197.9" r="2.3"/><circle cx="220.0" cy="198.2" r="2.3"/><circle cx="216.1" cy="200.0" r="2.3"/><circle cx="214.9" cy="196.7" r="2.3"/><circle cx="218.9" cy="200.5" r="2.3"/><circle cx="223.2" cy="197.6" r="2.3"/><circle cx="221.5" cy="197.6" r="2.3"/><circle cx="227.5" cy="205.3" r="2.3"/><circle cx="220.0" cy="211.3" r="2.3"/><circle cx="194.1" cy="241.8" r="2.3"/><circle cx="218.1" cy="243.8" r="2.3"/><circle cx="208.6" cy="241.4" r="2.3"/><circle cx="206.9" cy="244.3" r="2.3"/><circle cx="224.6" cy="244.6" r="2.3"/><circle cx="215.4" cy="242.3" r="2.3"/><circle cx="214.3" cy="244.9" r="2.3"/><circle cx="213.0" cy="244.3" r="2.3"/><circle cx="209.2" cy="242.3" r="2.3"/><circle cx="208.0" cy="242.8" r="2.3"/><circle cx="217.6" cy="244.4" r="2.3"/><circle cx="186.4" cy="241.6" r="2.3"/><circle cx="208.0" cy="244.0" r="2.3"/><circle cx="225.6" cy="245.1" r="2.3"/><circle cx="217.0" cy="243.7" r="2.3"/><circle cx="228.1" cy="244.7" r="2.3"/><circle cx="181.6" cy="243.7" r="2.3"/><circle cx="201.7" cy="243.2" r="2.3"/><circle cx="203.6" cy="242.9" r="2.3"/><circle cx="209.4" cy="243.3" r="2.3"/><circle cx="196.2" cy="240.9" r="2.3"/><circle cx="211.6" cy="244.7" r="2.3"/><circle cx="179.6" cy="240.6" r="2.3"/><circle cx="175.1" cy="240.6" r="2.3"/><circle cx="172.7" cy="240.5" r="2.3"/><circle cx="212.4" cy="242.3" r="2.3"/><circle cx="185.3" cy="243.9" r="2.3"/><circle cx="202.3" cy="244.3" r="2.3"/><circle cx="194.4" cy="240.5" r="2.3"/><circle cx="217.4" cy="244.4" r="2.3"/><circle cx="199.3" cy="241.2" r="2.3"/><circle cx="227.8" cy="245.1" r="2.3"/><circle cx="219.8" cy="243.7" r="2.3"/><circle cx="189.1" cy="240.1" r="2.3"/><circle cx="220.2" cy="245.7" r="2.3"/><circle cx="187.4" cy="240.6" r="2.3"/><circle cx="196.4" cy="240.0" r="2.3"/><circle cx="213.6" cy="242.3" r="2.3"/><circle cx="189.5" cy="241.6" r="2.3"/><circle cx="209.1" cy="242.5" r="2.3"/><circle cx="226.2" cy="242.1" r="2.3"/><circle cx="220.4" cy="245.3" r="2.3"/><circle cx="180.5" cy="242.0" r="2.3"/><circle cx="172.4" cy="243.2" r="2.3"/><circle cx="200.2" cy="252.5" r="2.3"/><circle cx="176.4" cy="251.3" r="2.3"/><circle cx="182.0" cy="258.4" r="2.3"/><circle cx="186.9" cy="251.4" r="2.3"/><circle cx="210.9" cy="258.5" r="2.3"/><circle cx="179.2" cy="259.6" r="2.3"/><circle cx="198.2" cy="258.4" r="2.3"/><circle cx="200.7" cy="259.7" r="2.3"/><circle cx="205.9" cy="259.1" r="2.3"/><circle cx="180.5" cy="257.4" r="2.3"/><circle cx="194.8" cy="258.0" r="2.3"/><circle cx="190.9" cy="259.5" r="2.3"/><circle cx="195.9" cy="252.7" r="2.3"/><circle cx="182.1" cy="251.3" r="2.3"/><circle cx="193.2" cy="250.4" r="2.3"/><circle cx="192.1" cy="251.3" r="2.3"/><circle cx="193.1" cy="255.3" r="2.3"/><circle cx="195.2" cy="259.3" r="2.3"/><circle cx="172.3" cy="259.1" r="2.3"/><circle cx="192.1" cy="256.0" r="2.3"/><circle cx="200.6" cy="259.1" r="2.3"/><circle cx="188.1" cy="254.4" r="2.3"/><circle cx="213.3" cy="250.6" r="2.3"/><circle cx="199.4" cy="256.8" r="2.3"/><circle cx="173.2" cy="256.5" r="2.3"/><circle cx="201.4" cy="260.1" r="2.3"/><circle cx="186.2" cy="260.6" r="2.3"/><circle cx="194.0" cy="255.1" r="2.3"/><circle cx="210.6" cy="250.1" r="2.3"/><circle cx="202.9" cy="256.7" r="2.3"/><circle cx="217.8" cy="244.3" r="2.3"/><circle cx="219.6" cy="245.4" r="2.3"/><circle cx="215.3" cy="244.9" r="2.3"/><circle cx="221.2" cy="243.2" r="2.3"/><circle cx="225.1" cy="243.0" r="2.3"/><circle cx="216.4" cy="246.9" r="2.3"/><circle cx="222.8" cy="242.9" r="2.3"/><circle cx="216.9" cy="245.2" r="2.3"/><circle cx="222.4" cy="241.9" r="2.3"/><circle cx="223.9" cy="243.5" r="2.3"/><circle cx="212.6" cy="243.9" r="2.3"/><circle cx="215.5" cy="245.8" r="2.3"/><circle cx="228.0" cy="235.4" r="2.3"/><circle cx="227.8" cy="233.9" r="2.3"/><circle cx="227.8" cy="235.6" r="2.3"/><circle cx="228.1" cy="226.2" r="2.3"/><circle cx="227.1" cy="235.8" r="2.3"/><circle cx="228.3" cy="223.9" r="2.3"/><circle cx="227.5" cy="235.1" r="2.3"/><circle cx="227.7" cy="236.4" r="2.3"/><circle cx="227.8" cy="227.6" r="2.3"/><circle cx="228.0" cy="231.2" r="2.3"/><circle cx="234.0" cy="237.9" r="2.3"/><circle cx="236.0" cy="243.8" r="2.3"/><circle cx="240.0" cy="245.3" r="2.3"/><circle cx="243.0" cy="241.6" r="2.3"/><circle cx="246.0" cy="245.3" r="2.3"/><circle cx="248.8" cy="241.7" r="2.3"/><circle cx="248.6" cy="236.3" r="2.3"/><circle cx="259.3" cy="241.8" r="2.3"/><circle cx="260.9" cy="240.2" r="2.3"/><circle cx="248.2" cy="239.5" r="2.3"/><circle cx="256.3" cy="246.0" r="2.3"/><circle cx="261.7" cy="240.6" r="2.3"/><circle cx="253.8" cy="236.1" r="2.3"/><circle cx="257.0" cy="237.5" r="2.3"/><circle cx="250.1" cy="235.1" r="2.3"/><circle cx="248.1" cy="243.0" r="2.3"/><circle cx="249.7" cy="246.4" r="2.3"/><circle cx="249.2" cy="245.2" r="2.3"/><circle cx="249.8" cy="235.2" r="2.3"/><circle cx="258.1" cy="237.8" r="2.3"/><circle cx="258.3" cy="237.2" r="2.3"/><circle cx="248.7" cy="244.1" r="2.3"/><circle cx="258.0" cy="245.1" r="2.3"/><circle cx="258.2" cy="235.9" r="2.3"/><circle cx="256.8" cy="243.3" r="2.3"/><circle cx="256.5" cy="221.6" r="2.3"/><circle cx="261.0" cy="225.3" r="2.3"/><circle cx="270.5" cy="236.4" r="2.3"/><circle cx="268.0" cy="246.8" r="2.3"/><circle cx="283.0" cy="243.1" r="2.3"/><circle cx="285.5" cy="248.3" r="2.3"/><circle cx="287.0" cy="251.2" r="2.3"/><circle cx="296.0" cy="251.2" r="2.3"/></g>
<g fill="#fff" fill-opacity="0.5" clip-path="url(#ca0)"><circle cx="170.5" cy="265.2" r="0.8"/><circle cx="279.2" cy="254.6" r="0.6"/><circle cx="62.7" cy="254.2" r="1.0"/><circle cx="224.8" cy="261.4" r="0.8"/><circle cx="134.7" cy="262.8" r="0.6"/><circle cx="289.8" cy="264.0" r="1.0"/><circle cx="74.3" cy="258.4" r="1.0"/><circle cx="234.7" cy="259.6" r="0.6"/><circle cx="94.8" cy="263.6" r="0.8"/><circle cx="288.9" cy="256.0" r="0.8"/><circle cx="174.5" cy="263.3" r="0.8"/><circle cx="286.8" cy="263.4" r="1.0"/><circle cx="140.1" cy="257.4" r="1.0"/><circle cx="293.7" cy="262.4" r="1.0"/><circle cx="139.7" cy="261.3" r="0.6"/><circle cx="259.5" cy="261.2" r="0.8"/><circle cx="200.3" cy="265.7" r="0.6"/><circle cx="150.4" cy="262.2" r="1.0"/><circle cx="245.1" cy="256.8" r="0.8"/><circle cx="128.0" cy="254.0" r="0.8"/><circle cx="124.3" cy="255.9" r="0.6"/><circle cx="129.2" cy="255.7" r="1.0"/><circle cx="95.3" cy="265.7" r="1.0"/><circle cx="224.3" cy="265.0" r="0.8"/><circle cx="188.3" cy="260.5" r="0.8"/><circle cx="251.4" cy="256.4" r="1.0"/><circle cx="283.6" cy="256.8" r="1.0"/><circle cx="73.8" cy="258.7" r="1.0"/><circle cx="109.6" cy="257.1" r="0.6"/><circle cx="250.0" cy="259.5" r="0.6"/><circle cx="188.7" cy="258.3" r="0.6"/><circle cx="115.9" cy="261.0" r="0.8"/><circle cx="272.4" cy="260.3" r="0.8"/><circle cx="181.5" cy="256.4" r="0.6"/><circle cx="106.2" cy="256.2" r="1.0"/><circle cx="129.6" cy="260.9" r="0.8"/><circle cx="156.6" cy="260.2" r="0.6"/><circle cx="119.1" cy="265.1" r="0.8"/><circle cx="149.8" cy="255.3" r="1.0"/><circle cx="171.2" cy="255.0" r="0.8"/><circle cx="203.3" cy="258.1" r="1.0"/><circle cx="205.7" cy="255.1" r="0.6"/><circle cx="297.7" cy="264.4" r="0.8"/><circle cx="200.8" cy="256.6" r="0.8"/><circle cx="162.2" cy="265.4" r="1.0"/><circle cx="256.5" cy="265.6" r="0.8"/><circle cx="262.5" cy="258.1" r="0.6"/><circle cx="150.8" cy="254.3" r="0.6"/><circle cx="193.8" cy="264.4" r="0.8"/><circle cx="176.8" cy="264.1" r="0.6"/><circle cx="267.1" cy="261.7" r="0.6"/><circle cx="229.5" cy="255.1" r="0.8"/><circle cx="195.5" cy="261.7" r="1.0"/><circle cx="181.6" cy="256.2" r="0.6"/><circle cx="149.0" cy="256.8" r="1.0"/><circle cx="113.2" cy="254.5" r="0.8"/><circle cx="285.9" cy="254.7" r="1.0"/><circle cx="277.1" cy="264.0" r="0.6"/><circle cx="121.9" cy="260.2" r="1.0"/><circle cx="215.2" cy="265.8" r="0.6"/><circle cx="84.3" cy="257.8" r="0.6"/><circle cx="285.5" cy="262.1" r="0.8"/><circle cx="201.5" cy="259.3" r="1.0"/><circle cx="85.3" cy="257.9" r="0.8"/><circle cx="153.6" cy="258.5" r="0.8"/><circle cx="100.5" cy="256.9" r="0.6"/><circle cx="279.4" cy="264.7" r="0.8"/><circle cx="232.1" cy="256.3" r="0.6"/><circle cx="97.7" cy="264.0" r="0.6"/><circle cx="284.2" cy="264.4" r="1.0"/><circle cx="93.5" cy="259.4" r="0.6"/><circle cx="282.2" cy="258.6" r="0.6"/><circle cx="210.8" cy="259.4" r="0.8"/><circle cx="137.4" cy="256.8" r="0.6"/><circle cx="210.8" cy="255.7" r="0.6"/><circle cx="236.7" cy="256.2" r="0.8"/><circle cx="192.8" cy="255.7" r="0.6"/><circle cx="123.9" cy="258.9" r="0.6"/><circle cx="66.1" cy="260.9" r="0.8"/><circle cx="140.3" cy="256.0" r="0.8"/><circle cx="86.2" cy="259.5" r="0.8"/><circle cx="87.4" cy="265.7" r="0.6"/><circle cx="211.4" cy="263.5" r="0.6"/><circle cx="194.4" cy="264.0" r="0.6"/><circle cx="121.9" cy="256.4" r="0.8"/><circle cx="163.7" cy="257.1" r="0.6"/><circle cx="282.0" cy="255.2" r="0.8"/><circle cx="159.8" cy="255.9" r="1.0"/><circle cx="294.8" cy="255.7" r="1.0"/><circle cx="63.8" cy="263.7" r="0.8"/></g>
<path d="M52.8 213.2H335.2" stroke="#ea3323" stroke-width="1.7" stroke-dasharray="10.2 4.7" fill="none"/>
<path d="M171.7 183.7V274" stroke="#000" stroke-width="1.2" stroke-dasharray="4.1 3.75" fill="none"/>
<path d="M97.5 260.4L101.7 264.5L97.5 268.6L93.3 264.5Z" fill="#c2dcc2" stroke="#1a1a1a" stroke-width="1.25"/>
<path d="M109.5 262.9L113.7 267.0L109.5 271.1L105.3 267.0Z" fill="#c2dcc2" stroke="#1a1a1a" stroke-width="1.25"/>
<path d="M153.5 259.9L157.7 264.0L153.5 268.1L149.3 264.0Z" fill="#c2dcc2" stroke="#1a1a1a" stroke-width="1.25"/>
<path d="M171.7 196.4L175.8 200.6L171.7 204.8L167.5 200.6Z" fill="#c2dcc2" stroke="#1a1a1a" stroke-width="1.25"/>
<path d="M213.5 262.9L217.7 267.0L213.5 271.1L209.3 267.0Z" fill="#c2dcc2" stroke="#1a1a1a" stroke-width="1.25"/>
<path d="M230.0 254.8L234.2 259.0L230.0 263.1L225.8 259.0Z" fill="#c2dcc2" stroke="#1a1a1a" stroke-width="1.25"/>
<path d="M264.0 257.9L268.1 262.0L264.0 266.1L259.9 262.0Z" fill="#c2dcc2" stroke="#1a1a1a" stroke-width="1.25"/>
<path d="M306.0 259.4L310.1 263.5L306.0 267.6L301.9 263.5Z" fill="#c2dcc2" stroke="#1a1a1a" stroke-width="1.25"/>
<path d="M52.55 181.8V274.7" stroke="#000" stroke-width="1.15" fill="none"/><path d="M52.05 274.2H335.2" stroke="#555" stroke-width="1.15" fill="none"/><path d="M45.8 267.5H52.55" stroke="#000" stroke-width="1.1" fill="none"/><path d="M45.8 252.7H52.55" stroke="#000" stroke-width="1.1" fill="none"/><path d="M45.8 237.9H52.55" stroke="#000" stroke-width="1.1" fill="none"/><path d="M45.8 223.1H52.55" stroke="#000" stroke-width="1.1" fill="none"/><path d="M45.8 208.3H52.55" stroke="#000" stroke-width="1.1" fill="none"/><path d="M45.8 193.5H52.55" stroke="#000" stroke-width="1.1" fill="none"/><text transform="translate(38.199999999999996 267.5) rotate(-90)" text-anchor="middle" font-size="10.6">0</text><text transform="translate(38.199999999999996 252.7) rotate(-90)" text-anchor="middle" font-size="10.6">2</text><text transform="translate(38.199999999999996 237.9) rotate(-90)" text-anchor="middle" font-size="10.6">4</text><text transform="translate(38.199999999999996 223.1) rotate(-90)" text-anchor="middle" font-size="10.6">6</text><text transform="translate(38.199999999999996 208.3) rotate(-90)" text-anchor="middle" font-size="10.6">8</text><text transform="translate(22.4 228.8) rotate(-90)" text-anchor="middle" font-size="11.5">−log<tspan font-size="8" dy="2.2">10</tspan><tspan dy="-2.2">(P</tspan><tspan font-size="7.8" dy="2.2">GWAS</tspan><tspan dy="-2.2">)</tspan></text>
<text x="106" y="204" font-size="10.5">rs3766606</text>
<path d="M52.8 380.4L52.8 375.0L54.1 374.7L55.4 374.8L56.7 374.7L58.0 373.8L59.3 373.7L60.6 373.2L61.9 373.6L63.2 373.4L64.5 373.3L65.8 374.0L67.1 373.7L68.4 373.4L69.7 373.3L71.0 373.8L72.3 374.0L73.6 374.1L74.9 373.9L76.2 373.9L77.5 373.3L78.8 373.3L80.1 373.8L81.4 373.8L82.7 373.4L84.0 373.5L85.3 373.2L86.6 373.9L87.9 373.7L89.2 374.0L90.5 374.1L91.8 373.7L93.1 373.5L94.4 373.4L95.7 373.6L97.0 373.6L98.3 372.4L99.6 372.4L100.9 372.6L102.2 371.8L103.5 372.3L104.8 371.7L106.1 371.9L107.4 372.2L108.7 371.2L110.0 371.7L111.3 371.5L112.6 371.7L113.9 371.2L115.2 371.7L116.5 371.7L117.8 370.8L119.1 371.0L120.4 370.8L121.7 371.4L123.0 371.4L124.3 371.3L125.6 371.3L126.9 371.0L128.2 371.2L129.5 370.3L130.8 369.7L132.1 370.4L133.4 370.1L134.7 369.7L136.0 370.5L137.3 369.9L138.6 370.1L139.9 369.9L141.2 370.5L142.5 370.1L143.8 370.3L145.1 370.6L146.4 371.0L147.7 370.1L149.0 371.0L150.3 370.9L151.6 370.5L152.9 371.1L154.2 370.9L155.5 370.8L156.8 370.6L158.1 370.9L159.4 371.0L160.7 370.9L162.0 371.2L163.3 371.4L164.6 371.8L165.9 372.1L167.2 372.4L168.5 371.9L169.8 372.0L171.1 372.9L172.4 372.7L173.7 372.4L175.0 372.4L176.3 372.9L177.6 372.7L178.9 372.7L180.2 373.2L181.5 372.3L182.8 373.0L184.1 373.1L185.4 373.0L186.7 373.0L188.0 372.5L189.3 373.4L190.6 372.5L191.9 372.9L193.2 372.9L194.5 373.4L195.8 373.3L197.1 373.4L198.4 373.2L199.7 373.6L201.0 372.9L202.3 372.8L203.6 372.8L204.9 372.5L206.2 372.1L207.5 372.5L208.8 372.1L210.1 372.5L211.4 372.1L212.7 371.4L214.0 371.4L215.3 371.4L216.6 371.5L217.9 371.3L219.2 371.7L220.5 371.2L221.8 371.4L223.1 371.3L224.4 371.8L225.7 371.2L227.0 370.8L228.3 371.6L229.6 371.6L230.9 370.6L232.2 371.3L233.5 371.0L234.8 371.3L236.1 371.1L237.4 371.3L238.7 371.6L240.0 371.0L241.3 371.3L242.6 371.4L243.9 371.5L245.2 371.9L246.5 371.8L247.8 371.9L249.1 372.2L250.4 372.1L251.7 372.1L253.0 373.1L254.3 373.1L255.6 373.2L256.9 372.4L258.2 373.0L259.5 373.4L260.8 373.0L262.1 373.2L263.4 373.6L264.7 373.7L266.0 373.5L267.3 373.2L268.6 373.8L269.9 373.9L271.2 373.5L272.5 373.7L273.8 374.0L275.1 373.6L276.4 373.8L277.7 374.0L279.0 373.8L280.3 374.4L281.6 373.8L282.9 374.0L284.2 374.4L285.5 373.6L286.8 373.9L288.1 373.8L289.4 374.1L290.7 374.6L292.0 374.0L293.3 374.6L294.6 373.8L295.9 374.6L297.2 374.0L298.5 374.0L299.8 374.0L301.1 374.6L302.4 374.0L303.7 373.8L305.0 373.8L306.3 374.4L307.6 374.4L308.9 374.2L310.2 374.5L311.5 374.4L312.8 374.7L314.1 374.3L315.4 374.7L316.7 374.5L318.0 375.0L319.3 374.7L320.6 374.9L321.9 374.4L323.2 374.7L324.5 374.2L325.8 374.3L327.1 374.7L328.4 374.4L329.7 374.9L331.0 374.2L332.3 375.0L333.6 375.1L334.9 375.2L336.0 380.4Z" fill="#13597f" clip-path="url(#ca1)"/>
<g class="pb" clip-path="url(#ca1)"><circle cx="52.8" cy="376.9" r="2.3"/><circle cx="56.7" cy="377.2" r="2.3"/><circle cx="60.6" cy="375.7" r="2.3"/><circle cx="64.5" cy="375.9" r="2.3"/><circle cx="68.4" cy="375.6" r="2.3"/><circle cx="72.3" cy="375.7" r="2.3"/><circle cx="76.2" cy="376.1" r="2.3"/><circle cx="80.1" cy="376.2" r="2.3"/><circle cx="84.0" cy="375.2" r="2.3"/><circle cx="87.9" cy="375.8" r="2.3"/><circle cx="91.8" cy="376.7" r="2.3"/><circle cx="95.7" cy="375.4" r="2.3"/><circle cx="99.6" cy="375.2" r="2.3"/><circle cx="103.5" cy="374.2" r="2.3"/><circle cx="107.4" cy="374.7" r="2.3"/><circle cx="111.3" cy="373.3" r="2.3"/><circle cx="115.2" cy="374.5" r="2.3"/><circle cx="119.1" cy="373.6" r="2.3"/><circle cx="123.0" cy="373.4" r="2.3"/><circle cx="126.9" cy="373.1" r="2.3"/><circle cx="130.8" cy="371.8" r="2.3"/><circle cx="134.7" cy="372.1" r="2.3"/><circle cx="138.6" cy="372.5" r="2.3"/><circle cx="142.5" cy="372.6" r="2.3"/><circle cx="146.4" cy="372.6" r="2.3"/><circle cx="150.3" cy="373.5" r="2.3"/><circle cx="154.2" cy="373.9" r="2.3"/><circle cx="158.1" cy="373.1" r="2.3"/><circle cx="162.0" cy="373.2" r="2.3"/><circle cx="165.9" cy="374.4" r="2.3"/><circle cx="169.8" cy="374.8" r="2.3"/><circle cx="173.7" cy="374.6" r="2.3"/><circle cx="177.6" cy="374.8" r="2.3"/><circle cx="181.5" cy="374.3" r="2.3"/><circle cx="185.4" cy="375.7" r="2.3"/><circle cx="189.3" cy="375.5" r="2.3"/><circle cx="193.2" cy="375.9" r="2.3"/><circle cx="197.1" cy="375.9" r="2.3"/><circle cx="201.0" cy="374.8" r="2.3"/><circle cx="204.9" cy="374.5" r="2.3"/><circle cx="208.8" cy="375.0" r="2.3"/><circle cx="212.7" cy="374.2" r="2.3"/><circle cx="216.6" cy="374.4" r="2.3"/><circle cx="220.5" cy="372.9" r="2.3"/><circle cx="224.4" cy="373.8" r="2.3"/><circle cx="228.3" cy="374.5" r="2.3"/><circle cx="232.2" cy="373.4" r="2.3"/><circle cx="236.1" cy="373.5" r="2.3"/><circle cx="240.0" cy="373.1" r="2.3"/><circle cx="243.9" cy="374.0" r="2.3"/><circle cx="247.8" cy="374.1" r="2.3"/><circle cx="251.7" cy="374.9" r="2.3"/><circle cx="255.6" cy="375.8" r="2.3"/><circle cx="259.5" cy="375.6" r="2.3"/><circle cx="263.4" cy="375.9" r="2.3"/><circle cx="267.3" cy="374.9" r="2.3"/><circle cx="271.2" cy="376.0" r="2.3"/><circle cx="275.1" cy="375.9" r="2.3"/><circle cx="279.0" cy="375.5" r="2.3"/><circle cx="282.9" cy="375.7" r="2.3"/><circle cx="286.8" cy="375.8" r="2.3"/><circle cx="290.7" cy="376.8" r="2.3"/><circle cx="294.6" cy="376.1" r="2.3"/><circle cx="298.5" cy="376.6" r="2.3"/><circle cx="302.4" cy="376.9" r="2.3"/><circle cx="306.3" cy="376.2" r="2.3"/><circle cx="310.2" cy="376.4" r="2.3"/><circle cx="314.1" cy="376.5" r="2.3"/><circle cx="318.0" cy="377.1" r="2.3"/><circle cx="321.9" cy="377.1" r="2.3"/><circle cx="325.8" cy="377.1" r="2.3"/><circle cx="329.7" cy="377.4" r="2.3"/><circle cx="333.6" cy="377.6" r="2.3"/><circle cx="112.3" cy="369.7" r="2.3"/><circle cx="85.4" cy="370.8" r="2.3"/><circle cx="65.3" cy="370.6" r="2.3"/><circle cx="72.3" cy="372.0" r="2.3"/><circle cx="80.6" cy="370.7" r="2.3"/><circle cx="125.5" cy="371.4" r="2.3"/><circle cx="128.0" cy="371.9" r="2.3"/><circle cx="96.7" cy="372.7" r="2.3"/><circle cx="74.5" cy="373.0" r="2.3"/><circle cx="88.9" cy="369.6" r="2.3"/><circle cx="99.5" cy="369.8" r="2.3"/><circle cx="99.9" cy="371.9" r="2.3"/><circle cx="110.6" cy="372.2" r="2.3"/><circle cx="60.8" cy="369.3" r="2.3"/><circle cx="241.2" cy="370.4" r="2.3"/><circle cx="256.0" cy="369.5" r="2.3"/><circle cx="197.1" cy="367.4" r="2.3"/><circle cx="192.1" cy="368.3" r="2.3"/><circle cx="245.4" cy="370.5" r="2.3"/><circle cx="252.7" cy="372.3" r="2.3"/><circle cx="227.0" cy="368.1" r="2.3"/><circle cx="204.3" cy="370.7" r="2.3"/><circle cx="200.5" cy="370.2" r="2.3"/><circle cx="226.7" cy="367.4" r="2.3"/><circle cx="195.5" cy="372.6" r="2.3"/><circle cx="225.3" cy="369.9" r="2.3"/><circle cx="221.0" cy="371.8" r="2.3"/><circle cx="236.8" cy="371.1" r="2.3"/><circle cx="231.7" cy="368.1" r="2.3"/><circle cx="207.2" cy="368.8" r="2.3"/><circle cx="192.4" cy="370.8" r="2.3"/><circle cx="251.9" cy="372.6" r="2.3"/><circle cx="194.5" cy="368.4" r="2.3"/><circle cx="234.9" cy="367.4" r="2.3"/><circle cx="205.8" cy="369.5" r="2.3"/><circle cx="245.0" cy="367.5" r="2.3"/><circle cx="63.0" cy="372.0" r="2.3"/><circle cx="70.0" cy="368.5" r="2.3"/><circle cx="76.0" cy="366.0" r="2.3"/><circle cx="79.0" cy="364.5" r="2.3"/><circle cx="82.0" cy="362.0" r="2.3"/><circle cx="84.0" cy="361.0" r="2.3"/><circle cx="86.0" cy="361.5" r="2.3"/><circle cx="88.0" cy="365.0" r="2.3"/><circle cx="90.0" cy="364.5" r="2.3"/><circle cx="93.0" cy="363.0" r="2.3"/><circle cx="95.0" cy="362.5" r="2.3"/><circle cx="97.0" cy="364.0" r="2.3"/><circle cx="100.0" cy="364.5" r="2.3"/><circle cx="102.0" cy="365.0" r="2.3"/><circle cx="74.0" cy="369.0" r="2.3"/><circle cx="80.0" cy="367.0" r="2.3"/><circle cx="85.0" cy="366.5" r="2.3"/><circle cx="91.0" cy="367.0" r="2.3"/><circle cx="96.0" cy="366.5" r="2.3"/><circle cx="78.0" cy="370.0" r="2.3"/><circle cx="89.0" cy="369.0" r="2.3"/><circle cx="104.5" cy="352.3" r="2.3"/><circle cx="108.1" cy="352.2" r="2.3"/><circle cx="103.6" cy="352.9" r="2.3"/><circle cx="115.9" cy="354.0" r="2.3"/><circle cx="133.4" cy="353.6" r="2.3"/><circle cx="124.3" cy="352.9" r="2.3"/><circle cx="115.8" cy="351.9" r="2.3"/><circle cx="129.9" cy="352.4" r="2.3"/><circle cx="114.4" cy="354.0" r="2.3"/><circle cx="115.3" cy="352.7" r="2.3"/><circle cx="130.3" cy="353.6" r="2.3"/><circle cx="133.2" cy="354.2" r="2.3"/><circle cx="120.3" cy="353.0" r="2.3"/><circle cx="113.8" cy="352.5" r="2.3"/><circle cx="104.1" cy="352.4" r="2.3"/><circle cx="106.8" cy="353.1" r="2.3"/><circle cx="127.9" cy="353.1" r="2.3"/><circle cx="127.8" cy="352.9" r="2.3"/><circle cx="109.7" cy="353.3" r="2.3"/><circle cx="121.1" cy="353.1" r="2.3"/><circle cx="109.8" cy="353.4" r="2.3"/><circle cx="133.2" cy="353.4" r="2.3"/><circle cx="117.4" cy="353.2" r="2.3"/><circle cx="115.7" cy="352.2" r="2.3"/><circle cx="126.8" cy="352.2" r="2.3"/><circle cx="130.1" cy="353.8" r="2.3"/><circle cx="104.1" cy="352.1" r="2.3"/><circle cx="103.7" cy="353.4" r="2.3"/><circle cx="127.2" cy="352.4" r="2.3"/><circle cx="130.6" cy="354.2" r="2.3"/><circle cx="129.0" cy="355.8" r="2.3"/><circle cx="132.0" cy="357.1" r="2.3"/><circle cx="134.0" cy="359.6" r="2.3"/><circle cx="131.0" cy="361.7" r="2.3"/><circle cx="136.0" cy="355.0" r="2.3"/><circle cx="138.0" cy="357.6" r="2.3"/><circle cx="147.8" cy="338.5" r="2.3"/><circle cx="145.5" cy="339.0" r="2.3"/><circle cx="147.6" cy="339.0" r="2.3"/><circle cx="148.2" cy="339.9" r="2.3"/><circle cx="144.7" cy="341.2" r="2.3"/><circle cx="136.0" cy="341.6" r="2.3"/><circle cx="145.8" cy="338.2" r="2.3"/><circle cx="145.6" cy="341.3" r="2.3"/><circle cx="140.6" cy="339.0" r="2.3"/><circle cx="138.0" cy="340.8" r="2.3"/><circle cx="137.1" cy="340.3" r="2.3"/><circle cx="143.9" cy="340.7" r="2.3"/><circle cx="136.0" cy="340.9" r="2.3"/><circle cx="144.8" cy="340.0" r="2.3"/><circle cx="137.1" cy="340.6" r="2.3"/><circle cx="149.8" cy="339.5" r="2.3"/><circle cx="149.5" cy="340.1" r="2.3"/><circle cx="148.1" cy="357.6" r="2.3"/><circle cx="153.4" cy="367.8" r="2.3"/><circle cx="149.1" cy="355.7" r="2.3"/><circle cx="148.7" cy="371.9" r="2.3"/><circle cx="139.8" cy="360.7" r="2.3"/><circle cx="140.5" cy="357.3" r="2.3"/><circle cx="142.2" cy="361.4" r="2.3"/><circle cx="156.5" cy="367.5" r="2.3"/><circle cx="137.4" cy="368.5" r="2.3"/><circle cx="140.6" cy="356.4" r="2.3"/><circle cx="142.8" cy="369.0" r="2.3"/><circle cx="144.3" cy="362.7" r="2.3"/><circle cx="152.6" cy="367.4" r="2.3"/><circle cx="144.5" cy="362.9" r="2.3"/><circle cx="137.0" cy="366.8" r="2.3"/><circle cx="152.7" cy="365.4" r="2.3"/><circle cx="144.0" cy="370.8" r="2.3"/><circle cx="155.3" cy="364.8" r="2.3"/><circle cx="145.7" cy="371.0" r="2.3"/><circle cx="136.0" cy="365.4" r="2.3"/><circle cx="137.8" cy="370.9" r="2.3"/><circle cx="155.6" cy="371.4" r="2.3"/><circle cx="140.5" cy="371.6" r="2.3"/><circle cx="147.6" cy="371.3" r="2.3"/><circle cx="148.8" cy="366.6" r="2.3"/><circle cx="143.8" cy="362.3" r="2.3"/><circle cx="132.1" cy="366.6" r="2.3"/><circle cx="135.3" cy="367.2" r="2.3"/><circle cx="149.1" cy="371.3" r="2.3"/><circle cx="149.3" cy="364.7" r="2.3"/><circle cx="137.9" cy="367.3" r="2.3"/><circle cx="134.9" cy="369.5" r="2.3"/><circle cx="155.1" cy="366.7" r="2.3"/><circle cx="135.8" cy="362.5" r="2.3"/><circle cx="152.6" cy="369.7" r="2.3"/><circle cx="137.1" cy="366.6" r="2.3"/><circle cx="132.3" cy="368.9" r="2.3"/><circle cx="133.1" cy="363.8" r="2.3"/><circle cx="139.4" cy="371.5" r="2.3"/><circle cx="139.6" cy="356.0" r="2.3"/><circle cx="136.0" cy="369.3" r="2.3"/><circle cx="145.9" cy="369.7" r="2.3"/><circle cx="145.7" cy="371.9" r="2.3"/><circle cx="143.5" cy="355.6" r="2.3"/><circle cx="143.9" cy="361.3" r="2.3"/><circle cx="140.1" cy="361.5" r="2.3"/><circle cx="138.5" cy="363.6" r="2.3"/><circle cx="155.4" cy="368.9" r="2.3"/><circle cx="151.2" cy="370.4" r="2.3"/><circle cx="140.8" cy="371.6" r="2.3"/><circle cx="139.0" cy="364.2" r="2.3"/><circle cx="149.9" cy="362.4" r="2.3"/><circle cx="148.0" cy="371.7" r="2.3"/><circle cx="150.3" cy="372.0" r="2.3"/><circle cx="141.7" cy="371.2" r="2.3"/><circle cx="141.0" cy="356.0" r="2.3"/><circle cx="144.9" cy="357.8" r="2.3"/><circle cx="148.7" cy="371.6" r="2.3"/><circle cx="149.6" cy="369.4" r="2.3"/><circle cx="147.1" cy="368.4" r="2.3"/><circle cx="147.9" cy="368.7" r="2.3"/><circle cx="137.6" cy="371.6" r="2.3"/><circle cx="151.0" cy="335.3" r="2.3"/><circle cx="155.0" cy="345.6" r="2.3"/><circle cx="157.0" cy="342.5" r="2.3"/><circle cx="160.0" cy="341.7" r="2.3"/><circle cx="161.0" cy="360.9" r="2.3"/><circle cx="164.0" cy="339.2" r="2.3"/><circle cx="166.0" cy="337.9" r="2.3"/><circle cx="169.0" cy="336.6" r="2.3"/><circle cx="150.5" cy="331.5" r="2.3"/><circle cx="153.0" cy="322.6" r="2.3"/><circle cx="153.5" cy="318.7" r="2.3"/><circle cx="155.0" cy="317.5" r="2.3"/><circle cx="162.0" cy="322.6" r="2.3"/><circle cx="158.0" cy="307.2" r="2.3"/><circle cx="160.0" cy="306.5" r="2.3"/><circle cx="163.0" cy="305.4" r="2.3"/><circle cx="165.0" cy="303.4" r="2.3"/><circle cx="168.0" cy="304.7" r="2.3"/><circle cx="170.0" cy="306.0" r="2.3"/><circle cx="169.0" cy="330.7" r="2.3"/><circle cx="170.0" cy="329.0" r="2.3"/><circle cx="176.1" cy="364.5" r="2.3"/><circle cx="173.1" cy="332.6" r="2.3"/><circle cx="172.5" cy="363.1" r="2.3"/><circle cx="176.1" cy="371.1" r="2.3"/><circle cx="173.8" cy="332.3" r="2.3"/><circle cx="173.0" cy="347.5" r="2.3"/><circle cx="175.3" cy="370.9" r="2.3"/><circle cx="174.7" cy="355.8" r="2.3"/><circle cx="172.6" cy="339.5" r="2.3"/><circle cx="172.6" cy="356.3" r="2.3"/><circle cx="173.8" cy="370.3" r="2.3"/><circle cx="175.8" cy="349.8" r="2.3"/><circle cx="173.0" cy="345.5" r="2.3"/><circle cx="172.1" cy="355.2" r="2.3"/><circle cx="175.8" cy="351.1" r="2.3"/><circle cx="172.6" cy="333.2" r="2.3"/><circle cx="173.5" cy="306.4" r="2.3"/><circle cx="181.0" cy="301.8" r="2.3"/><circle cx="173.1" cy="308.2" r="2.3"/><circle cx="174.6" cy="306.5" r="2.3"/><circle cx="176.4" cy="301.4" r="2.3"/><circle cx="180.2" cy="306.2" r="2.3"/><circle cx="178.1" cy="304.7" r="2.3"/><circle cx="177.9" cy="305.1" r="2.3"/><circle cx="176.9" cy="305.2" r="2.3"/><circle cx="178.6" cy="302.5" r="2.3"/><circle cx="176.6" cy="305.7" r="2.3"/><circle cx="173.7" cy="307.2" r="2.3"/><circle cx="179.5" cy="303.7" r="2.3"/><circle cx="178.9" cy="305.4" r="2.3"/><circle cx="194.6" cy="303.9" r="2.3"/><circle cx="185.2" cy="303.1" r="2.3"/><circle cx="202.5" cy="301.8" r="2.3"/><circle cx="206.1" cy="301.4" r="2.3"/><circle cx="200.3" cy="305.5" r="2.3"/><circle cx="192.3" cy="302.8" r="2.3"/><circle cx="188.9" cy="305.5" r="2.3"/><circle cx="187.3" cy="301.5" r="2.3"/><circle cx="209.5" cy="301.7" r="2.3"/><circle cx="203.7" cy="301.8" r="2.3"/><circle cx="196.1" cy="304.2" r="2.3"/><circle cx="206.2" cy="303.6" r="2.3"/><circle cx="210.0" cy="304.9" r="2.3"/><circle cx="184.7" cy="303.0" r="2.3"/><circle cx="209.8" cy="304.0" r="2.3"/><circle cx="213.6" cy="303.2" r="2.3"/><circle cx="204.1" cy="305.7" r="2.3"/><circle cx="186.7" cy="300.9" r="2.3"/><circle cx="193.2" cy="302.6" r="2.3"/><circle cx="181.2" cy="304.0" r="2.3"/><circle cx="213.4" cy="301.4" r="2.3"/><circle cx="185.2" cy="300.8" r="2.3"/><circle cx="214.3" cy="301.4" r="2.3"/><circle cx="205.3" cy="302.6" r="2.3"/><circle cx="226.3" cy="321.1" r="2.3"/><circle cx="215.4" cy="316.3" r="2.3"/><circle cx="221.9" cy="318.5" r="2.3"/><circle cx="221.9" cy="318.4" r="2.3"/><circle cx="219.8" cy="318.8" r="2.3"/><circle cx="216.3" cy="316.4" r="2.3"/><circle cx="220.1" cy="316.7" r="2.3"/><circle cx="227.8" cy="321.8" r="2.3"/><circle cx="221.2" cy="318.1" r="2.3"/><circle cx="217.8" cy="319.1" r="2.3"/><circle cx="224.2" cy="319.9" r="2.3"/><circle cx="219.1" cy="319.0" r="2.3"/><circle cx="177.5" cy="327.6" r="2.3"/><circle cx="197.8" cy="331.4" r="2.3"/><circle cx="171.2" cy="327.2" r="2.3"/><circle cx="187.5" cy="331.0" r="2.3"/><circle cx="194.1" cy="332.0" r="2.3"/><circle cx="182.3" cy="332.1" r="2.3"/><circle cx="184.3" cy="330.4" r="2.3"/><circle cx="178.3" cy="330.3" r="2.3"/><circle cx="176.2" cy="330.5" r="2.3"/><circle cx="179.2" cy="331.7" r="2.3"/><circle cx="178.6" cy="329.7" r="2.3"/><circle cx="176.1" cy="331.2" r="2.3"/><circle cx="187.2" cy="331.5" r="2.3"/><circle cx="173.9" cy="327.4" r="2.3"/><circle cx="197.6" cy="331.8" r="2.3"/><circle cx="186.0" cy="331.3" r="2.3"/><circle cx="196.0" cy="329.5" r="2.3"/><circle cx="175.5" cy="329.8" r="2.3"/><circle cx="173.1" cy="330.5" r="2.3"/><circle cx="177.0" cy="328.0" r="2.3"/><circle cx="199.2" cy="333.3" r="2.3"/><circle cx="202.0" cy="333.7" r="2.3"/><circle cx="206.9" cy="335.3" r="2.3"/><circle cx="205.2" cy="336.5" r="2.3"/><circle cx="205.8" cy="336.7" r="2.3"/><circle cx="206.6" cy="334.6" r="2.3"/><circle cx="200.4" cy="334.6" r="2.3"/><circle cx="201.9" cy="335.4" r="2.3"/><circle cx="226.5" cy="352.1" r="2.3"/><circle cx="222.7" cy="351.0" r="2.3"/><circle cx="222.6" cy="348.2" r="2.3"/><circle cx="215.1" cy="343.9" r="2.3"/><circle cx="216.2" cy="345.0" r="2.3"/><circle cx="227.3" cy="355.0" r="2.3"/><circle cx="226.7" cy="352.7" r="2.3"/><circle cx="214.8" cy="343.5" r="2.3"/><circle cx="223.8" cy="350.2" r="2.3"/><circle cx="211.3" cy="341.0" r="2.3"/><circle cx="225.5" cy="353.1" r="2.3"/><circle cx="212.8" cy="340.5" r="2.3"/><circle cx="213.0" cy="341.0" r="2.3"/><circle cx="224.7" cy="352.9" r="2.3"/><circle cx="228.1" cy="329.4" r="2.3"/><circle cx="228.2" cy="328.5" r="2.3"/><circle cx="228.9" cy="338.9" r="2.3"/><circle cx="228.4" cy="346.0" r="2.3"/><circle cx="229.0" cy="335.4" r="2.3"/><circle cx="228.6" cy="332.4" r="2.3"/><circle cx="227.8" cy="363.2" r="2.3"/><circle cx="227.3" cy="358.0" r="2.3"/><circle cx="227.9" cy="350.8" r="2.3"/><circle cx="228.7" cy="352.2" r="2.3"/><circle cx="228.0" cy="329.6" r="2.3"/><circle cx="227.9" cy="357.0" r="2.3"/><circle cx="228.6" cy="341.3" r="2.3"/><circle cx="229.2" cy="334.3" r="2.3"/><circle cx="183.0" cy="353.0" r="2.3"/><circle cx="191.0" cy="353.0" r="2.3"/><circle cx="204.0" cy="351.9" r="2.3"/><circle cx="213.5" cy="353.2" r="2.3"/><circle cx="197.0" cy="358.3" r="2.3"/><circle cx="187.0" cy="366.5" r="2.3"/><circle cx="196.0" cy="341.7" r="2.3"/><circle cx="178.0" cy="346.8" r="2.3"/><circle cx="176.0" cy="339.7" r="2.3"/><circle cx="183.0" cy="369.6" r="2.3"/><circle cx="203.0" cy="368.6" r="2.3"/><circle cx="207.0" cy="368.0" r="2.3"/><circle cx="211.0" cy="368.0" r="2.3"/><circle cx="216.0" cy="368.0" r="2.3"/><circle cx="229.0" cy="364.7" r="2.3"/><circle cx="233.0" cy="363.4" r="2.3"/><circle cx="235.0" cy="365.2" r="2.3"/></g>
<path d="M52.8 376.0H335.2" stroke="#ea3323" stroke-width="1.7" stroke-dasharray="10.2 4.7" fill="none"/>
<path d="M171.7 293.7V384.5" stroke="#000" stroke-width="1.2" stroke-dasharray="4.1 3.75" fill="none"/>
<path d="M97.5 372.4L101.7 376.5L97.5 380.6L93.3 376.5Z" fill="#b3b2e0" stroke="#1a1a1a" stroke-width="1.25"/>
<path d="M109.5 372.4L113.7 376.5L109.5 380.6L105.3 376.5Z" fill="#b3b2e0" stroke="#1a1a1a" stroke-width="1.25"/>
<path d="M153.5 372.9L157.7 377.0L153.5 381.1L149.3 377.0Z" fill="#b3b2e0" stroke="#1a1a1a" stroke-width="1.25"/>
<path d="M171.7 294.4L175.8 298.5L171.7 302.6L167.5 298.5Z" fill="#b3b2e0" stroke="#1a1a1a" stroke-width="1.25"/>
<path d="M213.5 370.9L217.7 375.0L213.5 379.1L209.3 375.0Z" fill="#b3b2e0" stroke="#1a1a1a" stroke-width="1.25"/>
<path d="M230.0 371.9L234.2 376.0L230.0 380.1L225.8 376.0Z" fill="#b3b2e0" stroke="#1a1a1a" stroke-width="1.25"/>
<path d="M264.0 372.4L268.1 376.5L264.0 380.6L259.9 376.5Z" fill="#b3b2e0" stroke="#1a1a1a" stroke-width="1.25"/>
<path d="M306.0 372.4L310.1 376.5L306.0 380.6L301.9 376.5Z" fill="#b3b2e0" stroke="#1a1a1a" stroke-width="1.25"/>
<path d="M52.55 291.8V384.9" stroke="#000" stroke-width="1.15" fill="none"/><path d="M52.05 384.4H335.2" stroke="#333" stroke-width="1.15" fill="none"/><path d="M45.8 377.5H52.55" stroke="#000" stroke-width="1.1" fill="none"/><path d="M45.8 364.7H52.55" stroke="#000" stroke-width="1.1" fill="none"/><path d="M45.8 351.9H52.55" stroke="#000" stroke-width="1.1" fill="none"/><path d="M45.8 339.2H52.55" stroke="#000" stroke-width="1.1" fill="none"/><path d="M45.8 326.4H52.55" stroke="#000" stroke-width="1.1" fill="none"/><path d="M45.8 313.6H52.55" stroke="#000" stroke-width="1.1" fill="none"/><path d="M45.8 300.9H52.55" stroke="#000" stroke-width="1.1" fill="none"/><text transform="translate(38.199999999999996 377.5) rotate(-90)" text-anchor="middle" font-size="10.6">0</text><text transform="translate(38.199999999999996 351.9) rotate(-90)" text-anchor="middle" font-size="10.6">100</text><text transform="translate(38.199999999999996 313.6) rotate(-90)" text-anchor="middle" font-size="10.6">250</text><text transform="translate(22.4 338.90000000000003) rotate(-90)" text-anchor="middle" font-size="11.5">−log<tspan font-size="8" dy="2.2">10</tspan><tspan dy="-2.2">(P</tspan><tspan font-size="7.8" dy="2.2">eQTL</tspan><tspan dy="-2.2">)</tspan></text>
<g class="pm" clip-path="url(#ca2)"><circle cx="72.9" cy="473.5" r="1.9"/><circle cx="75.2" cy="469.0" r="1.9"/><circle cx="77.9" cy="466.6" r="1.9"/><circle cx="76.5" cy="467.3" r="1.9"/><circle cx="73.0" cy="471.8" r="1.9"/><circle cx="71.6" cy="476.1" r="1.9"/><circle cx="72.0" cy="473.0" r="1.9"/><circle cx="82.3" cy="461.2" r="1.9"/><circle cx="71.5" cy="472.7" r="1.9"/><circle cx="94.2" cy="461.6" r="1.9"/><circle cx="94.2" cy="462.5" r="1.9"/><circle cx="96.0" cy="461.4" r="1.9"/><circle cx="87.8" cy="460.6" r="1.9"/><circle cx="95.5" cy="462.8" r="1.9"/><circle cx="96.3" cy="460.3" r="1.9"/><circle cx="94.2" cy="461.8" r="1.9"/><circle cx="82.6" cy="461.9" r="1.9"/><circle cx="92.6" cy="460.1" r="1.9"/><circle cx="88.4" cy="460.3" r="1.9"/><circle cx="92.9" cy="459.4" r="1.9"/><circle cx="82.5" cy="459.5" r="1.9"/><circle cx="87.5" cy="460.5" r="1.9"/><circle cx="86.8" cy="460.7" r="1.9"/><circle cx="104.2" cy="465.9" r="1.9"/><circle cx="103.8" cy="467.6" r="1.9"/><circle cx="97.8" cy="461.3" r="1.9"/><circle cx="97.4" cy="461.5" r="1.9"/><circle cx="99.3" cy="465.4" r="1.9"/><circle cx="98.0" cy="464.3" r="1.9"/><circle cx="88.4" cy="481.1" r="1.9"/><circle cx="69.1" cy="481.5" r="1.9"/><circle cx="78.5" cy="477.8" r="1.9"/><circle cx="71.4" cy="483.2" r="1.9"/><circle cx="84.4" cy="481.8" r="1.9"/><circle cx="71.6" cy="483.0" r="1.9"/><circle cx="71.2" cy="476.4" r="1.9"/><circle cx="80.1" cy="477.0" r="1.9"/><circle cx="86.0" cy="478.2" r="1.9"/><circle cx="77.5" cy="477.6" r="1.9"/><circle cx="83.4" cy="480.3" r="1.9"/><circle cx="77.5" cy="476.8" r="1.9"/><circle cx="89.5" cy="479.5" r="1.9"/><circle cx="72.8" cy="479.9" r="1.9"/><circle cx="68.4" cy="474.6" r="1.9"/><circle cx="82.3" cy="479.3" r="1.9"/><circle cx="84.8" cy="481.0" r="1.9"/><circle cx="69.2" cy="482.8" r="1.9"/><circle cx="69.5" cy="474.4" r="1.9"/><circle cx="91.0" cy="483.6" r="1.9"/><circle cx="80.6" cy="473.2" r="1.9"/><circle cx="73.4" cy="479.0" r="1.9"/><circle cx="83.2" cy="479.0" r="1.9"/><circle cx="91.8" cy="478.9" r="1.9"/><circle cx="88.1" cy="483.5" r="1.9"/><circle cx="69.9" cy="483.6" r="1.9"/><circle cx="88.5" cy="483.6" r="1.9"/><circle cx="73.4" cy="474.0" r="1.9"/><circle cx="84.9" cy="473.3" r="1.9"/><circle cx="74.5" cy="483.6" r="1.9"/><circle cx="72.7" cy="473.7" r="1.9"/><circle cx="86.9" cy="483.4" r="1.9"/><circle cx="74.4" cy="476.7" r="1.9"/><circle cx="69.0" cy="478.1" r="1.9"/><circle cx="90.0" cy="470.1" r="1.9"/><circle cx="93.0" cy="469.6" r="1.9"/><circle cx="95.0" cy="472.7" r="1.9"/><circle cx="100.0" cy="473.9" r="1.9"/><circle cx="103.0" cy="476.5" r="1.9"/><circle cx="96.0" cy="477.8" r="1.9"/><circle cx="99.0" cy="480.3" r="1.9"/><circle cx="112.0" cy="449.8" r="1.9"/><circle cx="133.1" cy="449.0" r="1.9"/><circle cx="116.3" cy="449.6" r="1.9"/><circle cx="108.6" cy="451.2" r="1.9"/><circle cx="127.7" cy="450.2" r="1.9"/><circle cx="110.9" cy="451.4" r="1.9"/><circle cx="124.3" cy="451.2" r="1.9"/><circle cx="128.1" cy="448.6" r="1.9"/><circle cx="121.5" cy="450.5" r="1.9"/><circle cx="115.8" cy="450.5" r="1.9"/><circle cx="117.0" cy="449.8" r="1.9"/><circle cx="120.7" cy="450.3" r="1.9"/><circle cx="117.5" cy="450.1" r="1.9"/><circle cx="115.3" cy="450.8" r="1.9"/><circle cx="129.1" cy="448.5" r="1.9"/><circle cx="132.1" cy="450.1" r="1.9"/><circle cx="127.5" cy="450.6" r="1.9"/><circle cx="123.7" cy="450.6" r="1.9"/><circle cx="111.9" cy="451.1" r="1.9"/><circle cx="114.2" cy="450.2" r="1.9"/><circle cx="132.5" cy="450.4" r="1.9"/><circle cx="114.3" cy="449.1" r="1.9"/><circle cx="114.8" cy="449.0" r="1.9"/><circle cx="122.9" cy="451.1" r="1.9"/><circle cx="129.0" cy="450.9" r="1.9"/><circle cx="113.2" cy="451.0" r="1.9"/><circle cx="116.3" cy="450.5" r="1.9"/><circle cx="114.7" cy="450.5" r="1.9"/><circle cx="104.0" cy="452.2" r="1.9"/><circle cx="138.0" cy="447.1" r="1.9"/><circle cx="138.5" cy="451.0" r="1.9"/><circle cx="138.0" cy="456.1" r="1.9"/><circle cx="146.0" cy="454.8" r="1.9"/><circle cx="115.5" cy="475.5" r="1.9"/><circle cx="118.9" cy="475.3" r="1.9"/><circle cx="110.0" cy="476.6" r="1.9"/><circle cx="105.7" cy="478.0" r="1.9"/><circle cx="120.5" cy="474.5" r="1.9"/><circle cx="115.4" cy="473.2" r="1.9"/><circle cx="106.1" cy="476.9" r="1.9"/><circle cx="118.8" cy="478.0" r="1.9"/><circle cx="115.6" cy="479.3" r="1.9"/><circle cx="109.1" cy="477.4" r="1.9"/><circle cx="103.0" cy="475.2" r="1.9"/><circle cx="117.2" cy="475.5" r="1.9"/><circle cx="116.1" cy="480.2" r="1.9"/><circle cx="109.1" cy="475.2" r="1.9"/><circle cx="113.5" cy="477.2" r="1.9"/><circle cx="114.8" cy="473.9" r="1.9"/><circle cx="114.0" cy="486.0" r="1.9"/><circle cx="125.0" cy="472.7" r="1.9"/><circle cx="127.0" cy="479.1" r="1.9"/><circle cx="136.7" cy="433.4" r="1.9"/><circle cx="145.5" cy="434.9" r="1.9"/><circle cx="139.1" cy="435.3" r="1.9"/><circle cx="147.5" cy="434.3" r="1.9"/><circle cx="137.7" cy="435.8" r="1.9"/><circle cx="136.4" cy="436.4" r="1.9"/><circle cx="146.1" cy="432.0" r="1.9"/><circle cx="137.6" cy="432.4" r="1.9"/><circle cx="140.4" cy="433.7" r="1.9"/><circle cx="147.3" cy="435.2" r="1.9"/><circle cx="136.0" cy="436.2" r="1.9"/><circle cx="143.9" cy="436.2" r="1.9"/><circle cx="136.4" cy="433.8" r="1.9"/><circle cx="136.6" cy="432.1" r="1.9"/><circle cx="137.3" cy="434.4" r="1.9"/><circle cx="146.0" cy="439.5" r="1.9"/><circle cx="147.5" cy="440.0" r="1.9"/><circle cx="151.5" cy="433.6" r="1.9"/><circle cx="144.9" cy="469.4" r="1.9"/><circle cx="136.0" cy="471.6" r="1.9"/><circle cx="137.9" cy="464.6" r="1.9"/><circle cx="143.7" cy="475.9" r="1.9"/><circle cx="131.2" cy="474.1" r="1.9"/><circle cx="143.7" cy="467.5" r="1.9"/><circle cx="137.8" cy="481.8" r="1.9"/><circle cx="134.0" cy="470.3" r="1.9"/><circle cx="143.9" cy="475.4" r="1.9"/><circle cx="142.2" cy="482.3" r="1.9"/><circle cx="133.1" cy="472.0" r="1.9"/><circle cx="131.8" cy="477.2" r="1.9"/><circle cx="135.8" cy="466.9" r="1.9"/><circle cx="145.7" cy="466.8" r="1.9"/><circle cx="139.1" cy="474.7" r="1.9"/><circle cx="132.3" cy="471.5" r="1.9"/><circle cx="141.0" cy="469.5" r="1.9"/><circle cx="136.9" cy="483.3" r="1.9"/><circle cx="141.2" cy="469.7" r="1.9"/><circle cx="134.7" cy="471.4" r="1.9"/><circle cx="137.5" cy="475.1" r="1.9"/><circle cx="135.6" cy="465.5" r="1.9"/><circle cx="134.1" cy="477.8" r="1.9"/><circle cx="145.0" cy="477.9" r="1.9"/><circle cx="141.6" cy="465.8" r="1.9"/><circle cx="145.0" cy="470.5" r="1.9"/><circle cx="137.8" cy="479.1" r="1.9"/><circle cx="141.0" cy="479.6" r="1.9"/><circle cx="131.1" cy="464.0" r="1.9"/><circle cx="145.3" cy="481.8" r="1.9"/><circle cx="131.5" cy="467.6" r="1.9"/><circle cx="137.6" cy="467.2" r="1.9"/><circle cx="134.1" cy="485.3" r="1.9"/><circle cx="140.2" cy="472.0" r="1.9"/><circle cx="141.9" cy="467.2" r="1.9"/><circle cx="134.0" cy="466.7" r="1.9"/><circle cx="143.9" cy="465.4" r="1.9"/><circle cx="133.1" cy="483.1" r="1.9"/><circle cx="143.2" cy="474.1" r="1.9"/><circle cx="131.2" cy="479.4" r="1.9"/><circle cx="155.1" cy="469.4" r="1.9"/><circle cx="149.4" cy="480.1" r="1.9"/><circle cx="155.2" cy="481.6" r="1.9"/><circle cx="152.9" cy="469.3" r="1.9"/><circle cx="155.6" cy="480.0" r="1.9"/><circle cx="152.7" cy="475.2" r="1.9"/><circle cx="149.2" cy="468.0" r="1.9"/><circle cx="147.6" cy="470.6" r="1.9"/><circle cx="156.2" cy="479.8" r="1.9"/><circle cx="151.9" cy="474.4" r="1.9"/><circle cx="156.5" cy="484.0" r="1.9"/><circle cx="148.5" cy="469.4" r="1.9"/><circle cx="151.9" cy="480.8" r="1.9"/><circle cx="156.6" cy="481.6" r="1.9"/><circle cx="154.8" cy="480.1" r="1.9"/><circle cx="150.4" cy="471.2" r="1.9"/><circle cx="153.0" cy="470.4" r="1.9"/><circle cx="157.4" cy="479.0" r="1.9"/><circle cx="149.5" cy="485.0" r="1.9"/><circle cx="150.6" cy="469.3" r="1.9"/><circle cx="150.2" cy="478.8" r="1.9"/><circle cx="154.6" cy="470.1" r="1.9"/><circle cx="148.6" cy="469.8" r="1.9"/><circle cx="150.7" cy="474.0" r="1.9"/><circle cx="151.0" cy="459.4" r="1.9"/><circle cx="154.0" cy="461.2" r="1.9"/><circle cx="157.5" cy="456.1" r="1.9"/><circle cx="163.0" cy="455.3" r="1.9"/><circle cx="165.0" cy="453.5" r="1.9"/><circle cx="167.0" cy="448.4" r="1.9"/><circle cx="169.0" cy="445.8" r="1.9"/><circle cx="171.0" cy="447.1" r="1.9"/><circle cx="167.0" cy="470.1" r="1.9"/><circle cx="168.0" cy="473.9" r="1.9"/><circle cx="165.0" cy="484.2" r="1.9"/><circle cx="153.6" cy="409.5" r="1.9"/><circle cx="156.9" cy="409.2" r="1.9"/><circle cx="154.3" cy="408.6" r="1.9"/><circle cx="167.4" cy="409.5" r="1.9"/><circle cx="156.4" cy="408.9" r="1.9"/><circle cx="163.7" cy="408.6" r="1.9"/><circle cx="161.7" cy="409.4" r="1.9"/><circle cx="169.3" cy="408.6" r="1.9"/><circle cx="163.1" cy="408.3" r="1.9"/><circle cx="156.2" cy="408.9" r="1.9"/><circle cx="156.0" cy="409.2" r="1.9"/><circle cx="158.8" cy="408.6" r="1.9"/><circle cx="168.2" cy="409.2" r="1.9"/><circle cx="161.4" cy="408.5" r="1.9"/><circle cx="153.0" cy="419.5" r="1.9"/><circle cx="154.0" cy="422.1" r="1.9"/><circle cx="154.5" cy="421.1" r="1.9"/><circle cx="162.5" cy="419.0" r="1.9"/><circle cx="178.9" cy="408.2" r="1.9"/><circle cx="173.8" cy="408.7" r="1.9"/><circle cx="201.9" cy="409.2" r="1.9"/><circle cx="175.5" cy="409.1" r="1.9"/><circle cx="187.6" cy="408.3" r="1.9"/><circle cx="172.3" cy="409.2" r="1.9"/><circle cx="184.9" cy="408.3" r="1.9"/><circle cx="182.0" cy="408.5" r="1.9"/><circle cx="195.1" cy="408.5" r="1.9"/><circle cx="196.1" cy="408.5" r="1.9"/><circle cx="212.7" cy="408.9" r="1.9"/><circle cx="214.8" cy="409.1" r="1.9"/><circle cx="194.8" cy="408.3" r="1.9"/><circle cx="176.2" cy="409.1" r="1.9"/><circle cx="201.9" cy="409.1" r="1.9"/><circle cx="175.5" cy="409.2" r="1.9"/><circle cx="214.9" cy="408.9" r="1.9"/><circle cx="176.8" cy="408.3" r="1.9"/><circle cx="200.3" cy="408.5" r="1.9"/><circle cx="205.3" cy="409.2" r="1.9"/><circle cx="207.0" cy="408.6" r="1.9"/><circle cx="176.0" cy="409.1" r="1.9"/><circle cx="179.4" cy="408.3" r="1.9"/><circle cx="204.7" cy="408.4" r="1.9"/><circle cx="186.0" cy="409.1" r="1.9"/><circle cx="173.6" cy="408.4" r="1.9"/><circle cx="193.7" cy="409.2" r="1.9"/><circle cx="204.9" cy="409.3" r="1.9"/><circle cx="201.7" cy="408.3" r="1.9"/><circle cx="172.4" cy="408.2" r="1.9"/><circle cx="194.5" cy="408.3" r="1.9"/><circle cx="197.6" cy="409.2" r="1.9"/><circle cx="174.1" cy="408.7" r="1.9"/><circle cx="200.4" cy="408.9" r="1.9"/><circle cx="206.5" cy="409.1" r="1.9"/><circle cx="193.1" cy="409.0" r="1.9"/><circle cx="184.7" cy="408.8" r="1.9"/><circle cx="206.0" cy="408.4" r="1.9"/><circle cx="188.7" cy="409.3" r="1.9"/><circle cx="194.3" cy="408.9" r="1.9"/><circle cx="200.3" cy="408.3" r="1.9"/><circle cx="205.9" cy="409.1" r="1.9"/><circle cx="208.2" cy="408.9" r="1.9"/><circle cx="196.5" cy="408.9" r="1.9"/><circle cx="226.6" cy="414.6" r="1.9"/><circle cx="222.9" cy="414.0" r="1.9"/><circle cx="224.1" cy="414.2" r="1.9"/><circle cx="226.1" cy="415.9" r="1.9"/><circle cx="224.7" cy="415.4" r="1.9"/><circle cx="219.9" cy="411.7" r="1.9"/><circle cx="222.7" cy="414.1" r="1.9"/><circle cx="220.6" cy="412.1" r="1.9"/><circle cx="216.8" cy="409.4" r="1.9"/><circle cx="219.7" cy="411.0" r="1.9"/><circle cx="228.4" cy="433.3" r="1.9"/><circle cx="227.4" cy="459.5" r="1.9"/><circle cx="227.5" cy="429.9" r="1.9"/><circle cx="228.3" cy="435.6" r="1.9"/><circle cx="227.4" cy="433.1" r="1.9"/><circle cx="228.2" cy="435.4" r="1.9"/><circle cx="227.3" cy="462.3" r="1.9"/><circle cx="227.9" cy="459.0" r="1.9"/><circle cx="228.1" cy="457.7" r="1.9"/><circle cx="228.4" cy="418.1" r="1.9"/><circle cx="228.0" cy="430.1" r="1.9"/><circle cx="227.8" cy="453.3" r="1.9"/><circle cx="227.9" cy="452.6" r="1.9"/><circle cx="228.2" cy="424.2" r="1.9"/><circle cx="227.8" cy="437.3" r="1.9"/><circle cx="227.6" cy="430.4" r="1.9"/><circle cx="227.9" cy="452.0" r="1.9"/><circle cx="227.1" cy="456.0" r="1.9"/><circle cx="182.1" cy="430.7" r="1.9"/><circle cx="189.9" cy="432.1" r="1.9"/><circle cx="179.4" cy="432.1" r="1.9"/><circle cx="175.2" cy="431.3" r="1.9"/><circle cx="190.9" cy="431.9" r="1.9"/><circle cx="190.5" cy="432.5" r="1.9"/><circle cx="190.4" cy="435.4" r="1.9"/><circle cx="175.6" cy="433.2" r="1.9"/><circle cx="184.3" cy="433.8" r="1.9"/><circle cx="172.6" cy="430.8" r="1.9"/><circle cx="174.1" cy="431.8" r="1.9"/><circle cx="182.3" cy="431.9" r="1.9"/><circle cx="189.9" cy="434.8" r="1.9"/><circle cx="181.5" cy="432.5" r="1.9"/><circle cx="189.6" cy="434.6" r="1.9"/><circle cx="173.0" cy="431.3" r="1.9"/><circle cx="186.0" cy="433.3" r="1.9"/><circle cx="208.8" cy="437.7" r="1.9"/><circle cx="203.6" cy="438.3" r="1.9"/><circle cx="200.2" cy="437.6" r="1.9"/><circle cx="199.0" cy="435.8" r="1.9"/><circle cx="197.7" cy="435.8" r="1.9"/><circle cx="194.3" cy="435.6" r="1.9"/><circle cx="200.4" cy="435.6" r="1.9"/><circle cx="206.7" cy="437.2" r="1.9"/><circle cx="201.3" cy="437.6" r="1.9"/><circle cx="198.6" cy="435.9" r="1.9"/><circle cx="204.1" cy="438.1" r="1.9"/><circle cx="223.4" cy="449.4" r="1.9"/><circle cx="211.2" cy="449.5" r="1.9"/><circle cx="215.7" cy="448.8" r="1.9"/><circle cx="226.1" cy="450.7" r="1.9"/><circle cx="212.5" cy="449.9" r="1.9"/><circle cx="223.7" cy="450.8" r="1.9"/><circle cx="213.2" cy="449.7" r="1.9"/><circle cx="221.8" cy="449.2" r="1.9"/><circle cx="223.9" cy="450.5" r="1.9"/><circle cx="217.0" cy="448.8" r="1.9"/><circle cx="224.2" cy="448.6" r="1.9"/><circle cx="221.9" cy="450.7" r="1.9"/><circle cx="215.0" cy="449.6" r="1.9"/><circle cx="174.0" cy="415.2" r="1.9"/><circle cx="174.0" cy="445.8" r="1.9"/><circle cx="198.5" cy="451.0" r="1.9"/><circle cx="219.5" cy="425.4" r="1.9"/><circle cx="210.0" cy="466.0" r="1.9"/><circle cx="218.5" cy="464.5" r="1.9"/><circle cx="224.0" cy="465.0" r="1.9"/><circle cx="197.0" cy="482.4" r="1.9"/><circle cx="184.0" cy="438.2" r="1.9"/><circle cx="195.0" cy="438.2" r="1.9"/><circle cx="238.3" cy="480.7" r="1.9"/><circle cx="234.0" cy="479.1" r="1.9"/><circle cx="230.1" cy="477.1" r="1.9"/><circle cx="236.4" cy="478.9" r="1.9"/><circle cx="230.4" cy="475.0" r="1.9"/><circle cx="228.3" cy="473.3" r="1.9"/><circle cx="240.3" cy="482.6" r="1.9"/><circle cx="231.0" cy="478.2" r="1.9"/><circle cx="232.6" cy="478.4" r="1.9"/><circle cx="237.2" cy="481.3" r="1.9"/><circle cx="235.5" cy="478.9" r="1.9"/><circle cx="231.8" cy="478.9" r="1.9"/><circle cx="227.3" cy="474.8" r="1.9"/><circle cx="229.3" cy="474.0" r="1.9"/><circle cx="233.4" cy="478.1" r="1.9"/><circle cx="256.5" cy="477.6" r="1.9"/><circle cx="256.7" cy="477.5" r="1.9"/><circle cx="255.6" cy="476.1" r="1.9"/><circle cx="261.7" cy="477.9" r="1.9"/><circle cx="252.8" cy="478.4" r="1.9"/><circle cx="253.9" cy="477.3" r="1.9"/><circle cx="258.3" cy="475.8" r="1.9"/><circle cx="259.5" cy="476.9" r="1.9"/><circle cx="261.2" cy="475.7" r="1.9"/><circle cx="251.2" cy="478.9" r="1.9"/><circle cx="245.0" cy="484.9" r="1.9"/><circle cx="270.0" cy="482.4" r="1.9"/><circle cx="257.0" cy="474.7" r="1.9"/><circle cx="254.0" cy="480.3" r="1.9"/></g>
<path d="M52.8 486.7H335.2" stroke="#ea3323" stroke-width="1.7" stroke-dasharray="10.2 4.7" fill="none"/>
<path d="M171.7 403.7V495" stroke="#000" stroke-width="1.2" stroke-dasharray="4.1 3.75" fill="none"/>
<path d="M97.0 472.9L101.2 477.0L97.0 481.1L92.8 477.0Z" fill="#e2c4b4" stroke="#1a1a1a" stroke-width="1.25"/>
<path d="M109.5 472.9L113.7 477.0L109.5 481.1L105.3 477.0Z" fill="#e2c4b4" stroke="#1a1a1a" stroke-width="1.25"/>
<path d="M153.0 474.9L157.2 479.0L153.0 483.1L148.8 479.0Z" fill="#e2c4b4" stroke="#1a1a1a" stroke-width="1.25"/>
<path d="M171.7 404.5L175.8 408.6L171.7 412.8L167.5 408.6Z" fill="#e2c4b4" stroke="#1a1a1a" stroke-width="1.25"/>
<path d="M213.5 481.9L217.7 486.0L213.5 490.1L209.3 486.0Z" fill="#e2c4b4" stroke="#1a1a1a" stroke-width="1.25"/>
<path d="M230.0 477.9L234.2 482.0L230.0 486.1L225.8 482.0Z" fill="#e2c4b4" stroke="#1a1a1a" stroke-width="1.25"/>
<path d="M264.0 479.4L268.1 483.5L264.0 487.6L259.9 483.5Z" fill="#e2c4b4" stroke="#1a1a1a" stroke-width="1.25"/>
<path d="M306.0 481.9L310.1 486.0L306.0 490.1L301.9 486.0Z" fill="#e2c4b4" stroke="#1a1a1a" stroke-width="1.25"/>
<path d="M52.55 401.8V495.5" stroke="#000" stroke-width="1.15" fill="none"/><path d="M52.05 495.0H335.2" stroke="#111" stroke-width="1.15" fill="none"/><path d="M45.8 488.0H52.55" stroke="#000" stroke-width="1.1" fill="none"/><path d="M45.8 475.2H52.55" stroke="#000" stroke-width="1.1" fill="none"/><path d="M45.8 462.4H52.55" stroke="#000" stroke-width="1.1" fill="none"/><path d="M45.8 449.7H52.55" stroke="#000" stroke-width="1.1" fill="none"/><path d="M45.8 436.9H52.55" stroke="#000" stroke-width="1.1" fill="none"/><path d="M45.8 424.1H52.55" stroke="#000" stroke-width="1.1" fill="none"/><path d="M45.8 411.4H52.55" stroke="#000" stroke-width="1.1" fill="none"/><text transform="translate(38.199999999999996 488.0) rotate(-90)" text-anchor="middle" font-size="10.6">0</text><text transform="translate(38.199999999999996 462.4) rotate(-90)" text-anchor="middle" font-size="10.6">100</text><text transform="translate(38.199999999999996 424.1) rotate(-90)" text-anchor="middle" font-size="10.6">250</text><text transform="translate(22.4 449.2) rotate(-90)" text-anchor="middle" font-size="11.5">−log<tspan font-size="8" dy="2.2">10</tspan><tspan dy="-2.2">(P</tspan><tspan font-size="7.8" dy="2.2">mQTL</tspan><tspan dy="-2.2">)</tspan></text>
<text x="113.6" y="415" font-size="10.6" text-anchor="middle">DNAm site</text>
<text x="113.6" y="427" font-size="10.6" text-anchor="middle">cg10385390</text>
<path d="M399.0 268.5L399.0 263.4L400.3 263.7L401.6 263.9L402.9 263.0L404.2 263.3L405.5 263.5L406.8 263.6L408.1 263.2L409.4 263.5L410.7 263.4L412.0 263.3L413.3 263.8L414.6 263.7L415.9 263.4L417.2 263.0L418.5 263.4L419.8 262.8L421.1 262.9L422.4 263.4L423.7 262.7L425.0 263.5L426.3 262.5L427.6 263.3L428.9 263.2L430.2 263.1L431.5 263.1L432.8 262.5L434.1 263.0L435.4 263.1L436.7 262.5L438.0 262.9L439.3 262.1L440.6 262.8L441.9 262.6L443.2 262.0L444.5 262.3L445.8 262.3L447.1 262.7L448.4 262.5L449.7 262.6L451.0 262.3L452.3 262.3L453.6 262.3L454.9 262.2L456.2 262.0L457.5 262.0L458.8 261.7L460.1 262.3L461.4 262.2L462.7 261.9L464.0 261.5L465.3 262.1L466.6 262.1L467.9 261.7L469.2 262.2L470.5 261.6L471.8 262.1L473.1 261.7L474.4 261.3L475.7 261.5L477.0 261.4L478.3 262.0L479.6 262.0L480.9 261.9L482.2 261.5L483.5 261.2L484.8 261.3L486.1 261.3L487.4 261.6L488.7 261.8L490.0 261.0L491.3 261.1L492.6 261.6L493.9 261.3L495.2 261.5L496.5 261.4L497.8 260.8L499.1 261.5L500.4 261.1L501.7 260.7L503.0 260.7L504.3 261.3L505.6 261.0L506.9 260.5L508.2 261.2L509.5 261.4L510.8 260.4L512.1 261.1L513.4 260.5L514.7 260.8L516.0 261.1L517.3 261.1L518.6 260.5L519.9 260.7L521.2 260.6L522.5 260.8L523.8 260.9L525.1 260.0L526.4 260.2L527.7 260.3L529.0 260.8L530.3 260.0L531.6 260.7L532.9 260.8L534.2 260.2L535.5 260.3L536.8 260.6L538.1 260.4L539.4 260.6L540.7 260.4L542.0 260.1L543.3 260.3L544.6 260.4L545.9 259.7L547.2 260.1L548.5 260.3L549.8 260.5L551.1 260.2L552.4 259.9L553.7 260.3L555.0 260.0L556.3 259.5L557.6 259.9L558.9 259.8L560.2 260.1L561.5 260.2L562.8 260.3L564.1 259.4L565.4 259.9L566.7 260.1L568.0 259.6L569.3 260.1L570.6 260.0L571.9 259.6L573.2 260.2L574.5 259.5L575.8 259.3L577.1 259.7L578.4 259.7L579.7 260.2L581.0 260.2L582.3 260.0L583.6 259.3L584.9 259.8L586.2 259.8L587.5 259.6L588.8 259.2L590.1 259.7L591.4 260.1L592.7 260.9L594.0 261.1L595.3 261.7L596.6 261.3L597.5 268.5Z" fill="#1f7a38" clip-path="url(#cb0)"/>
<path d="M629.0 268.5L629.0 261.7L630.3 262.1L631.6 262.1L632.9 261.7L634.2 261.8L635.5 262.2L636.8 261.5L638.1 261.9L639.4 261.1L640.7 261.0L642.0 261.7L643.3 261.1L644.6 261.7L645.9 261.8L647.2 262.0L648.5 261.8L649.8 262.0L651.1 262.0L652.4 262.0L653.7 261.9L655.0 262.1L656.3 262.0L657.6 261.7L658.9 261.8L660.2 262.1L661.5 262.5L662.8 261.9L664.1 262.4L665.4 262.5L666.7 262.5L668.0 262.8L669.3 262.5L670.6 262.0L671.9 262.5L673.2 262.7L674.5 262.1L675.8 262.3L677.1 263.0L678.4 263.2L679.7 262.3L681.0 262.5L681.0 268.5Z" fill="#1f7a38" clip-path="url(#cb0)"/>
<g class="pg" clip-path="url(#cb0)"><circle cx="399.0" cy="264.7" r="2.3"/><circle cx="401.6" cy="265.1" r="2.3"/><circle cx="404.2" cy="264.8" r="2.3"/><circle cx="406.8" cy="265.2" r="2.3"/><circle cx="409.4" cy="264.8" r="2.3"/><circle cx="412.0" cy="264.3" r="2.3"/><circle cx="414.6" cy="264.6" r="2.3"/><circle cx="417.2" cy="263.8" r="2.3"/><circle cx="419.8" cy="264.6" r="2.3"/><circle cx="422.4" cy="265.3" r="2.3"/><circle cx="425.0" cy="264.6" r="2.3"/><circle cx="427.6" cy="264.6" r="2.3"/><circle cx="430.2" cy="265.3" r="2.3"/><circle cx="432.8" cy="264.6" r="2.3"/><circle cx="435.4" cy="264.7" r="2.3"/><circle cx="438.0" cy="264.0" r="2.3"/><circle cx="440.6" cy="264.7" r="2.3"/><circle cx="443.2" cy="263.9" r="2.3"/><circle cx="445.8" cy="263.3" r="2.3"/><circle cx="448.4" cy="263.3" r="2.3"/><circle cx="451.0" cy="263.2" r="2.3"/><circle cx="453.6" cy="264.2" r="2.3"/><circle cx="456.2" cy="263.7" r="2.3"/><circle cx="458.8" cy="262.7" r="2.3"/><circle cx="461.4" cy="264.3" r="2.3"/><circle cx="464.0" cy="263.4" r="2.3"/><circle cx="466.6" cy="263.0" r="2.3"/><circle cx="469.2" cy="263.8" r="2.3"/><circle cx="471.8" cy="263.3" r="2.3"/><circle cx="474.4" cy="262.4" r="2.3"/><circle cx="477.0" cy="262.4" r="2.3"/><circle cx="479.6" cy="264.0" r="2.3"/><circle cx="482.2" cy="263.5" r="2.3"/><circle cx="484.8" cy="262.2" r="2.3"/><circle cx="487.4" cy="262.9" r="2.3"/><circle cx="490.0" cy="262.1" r="2.3"/><circle cx="492.6" cy="262.6" r="2.3"/><circle cx="495.2" cy="263.6" r="2.3"/><circle cx="497.8" cy="262.6" r="2.3"/><circle cx="500.4" cy="262.5" r="2.3"/><circle cx="503.0" cy="262.3" r="2.3"/><circle cx="505.6" cy="262.9" r="2.3"/><circle cx="508.2" cy="263.1" r="2.3"/><circle cx="510.8" cy="261.7" r="2.3"/><circle cx="513.4" cy="262.4" r="2.3"/><circle cx="516.0" cy="262.0" r="2.3"/><circle cx="518.6" cy="262.1" r="2.3"/><circle cx="521.2" cy="261.8" r="2.3"/><circle cx="523.8" cy="262.5" r="2.3"/><circle cx="526.4" cy="261.5" r="2.3"/><circle cx="529.0" cy="262.7" r="2.3"/><circle cx="531.6" cy="261.5" r="2.3"/><circle cx="534.2" cy="262.1" r="2.3"/><circle cx="536.8" cy="261.8" r="2.3"/><circle cx="539.4" cy="261.8" r="2.3"/><circle cx="542.0" cy="261.1" r="2.3"/><circle cx="544.6" cy="261.4" r="2.3"/><circle cx="547.2" cy="261.0" r="2.3"/><circle cx="549.8" cy="262.4" r="2.3"/><circle cx="552.4" cy="261.3" r="2.3"/><circle cx="555.0" cy="261.3" r="2.3"/><circle cx="557.6" cy="260.8" r="2.3"/><circle cx="560.2" cy="261.1" r="2.3"/><circle cx="562.8" cy="261.7" r="2.3"/><circle cx="565.4" cy="261.0" r="2.3"/><circle cx="568.0" cy="260.4" r="2.3"/><circle cx="570.6" cy="261.7" r="2.3"/><circle cx="573.2" cy="261.4" r="2.3"/><circle cx="575.8" cy="261.4" r="2.3"/><circle cx="578.4" cy="261.8" r="2.3"/><circle cx="581.0" cy="261.7" r="2.3"/><circle cx="583.6" cy="261.2" r="2.3"/><circle cx="586.2" cy="261.5" r="2.3"/><circle cx="588.8" cy="260.9" r="2.3"/><circle cx="591.4" cy="261.2" r="2.3"/><circle cx="594.0" cy="263.0" r="2.3"/><circle cx="596.6" cy="263.3" r="2.3"/><circle cx="630.3" cy="263.9" r="2.3"/><circle cx="632.9" cy="263.1" r="2.3"/><circle cx="635.5" cy="263.1" r="2.3"/><circle cx="638.1" cy="264.1" r="2.3"/><circle cx="640.7" cy="262.7" r="2.3"/><circle cx="643.3" cy="262.8" r="2.3"/><circle cx="645.9" cy="262.8" r="2.3"/><circle cx="648.5" cy="263.9" r="2.3"/><circle cx="651.1" cy="263.2" r="2.3"/><circle cx="653.7" cy="263.2" r="2.3"/><circle cx="656.3" cy="263.3" r="2.3"/><circle cx="658.9" cy="263.9" r="2.3"/><circle cx="661.5" cy="263.4" r="2.3"/><circle cx="664.1" cy="264.4" r="2.3"/><circle cx="666.7" cy="264.2" r="2.3"/><circle cx="669.3" cy="264.2" r="2.3"/><circle cx="671.9" cy="264.2" r="2.3"/><circle cx="674.5" cy="264.0" r="2.3"/><circle cx="677.1" cy="264.0" r="2.3"/><circle cx="679.7" cy="263.2" r="2.3"/><circle cx="418.2" cy="265.3" r="2.3"/><circle cx="421.0" cy="264.4" r="2.3"/><circle cx="550.1" cy="265.9" r="2.3"/><circle cx="420.0" cy="264.9" r="2.3"/><circle cx="542.9" cy="261.2" r="2.3"/><circle cx="658.6" cy="264.6" r="2.3"/><circle cx="652.8" cy="265.3" r="2.3"/><circle cx="510.3" cy="262.9" r="2.3"/><circle cx="447.8" cy="262.9" r="2.3"/><circle cx="646.6" cy="262.7" r="2.3"/><circle cx="528.9" cy="264.6" r="2.3"/><circle cx="457.1" cy="264.9" r="2.3"/><circle cx="457.9" cy="265.0" r="2.3"/><circle cx="493.6" cy="263.5" r="2.3"/><circle cx="637.5" cy="266.0" r="2.3"/><circle cx="424.2" cy="264.2" r="2.3"/><circle cx="585.6" cy="264.4" r="2.3"/><circle cx="473.2" cy="266.1" r="2.3"/><circle cx="534.8" cy="261.6" r="2.3"/><circle cx="415.1" cy="265.7" r="2.3"/><circle cx="424.1" cy="264.7" r="2.3"/><circle cx="416.5" cy="265.6" r="2.3"/><circle cx="474.7" cy="262.4" r="2.3"/><circle cx="663.0" cy="265.0" r="2.3"/><circle cx="551.9" cy="265.3" r="2.3"/><circle cx="503.2" cy="262.8" r="2.3"/><circle cx="503.5" cy="265.5" r="2.3"/><circle cx="586.0" cy="261.0" r="2.3"/><circle cx="655.4" cy="265.7" r="2.3"/><circle cx="407.5" cy="264.7" r="2.3"/><circle cx="649.0" cy="263.2" r="2.3"/><circle cx="639.6" cy="265.3" r="2.3"/><circle cx="650.8" cy="265.2" r="2.3"/><circle cx="401.1" cy="266.1" r="2.3"/><circle cx="505.4" cy="264.5" r="2.3"/><circle cx="478.5" cy="264.3" r="2.3"/><circle cx="536.5" cy="265.7" r="2.3"/><circle cx="555.6" cy="263.4" r="2.3"/><circle cx="513.1" cy="263.9" r="2.3"/><circle cx="659.3" cy="262.9" r="2.3"/><circle cx="519.1" cy="266.0" r="2.3"/><circle cx="452.8" cy="265.3" r="2.3"/><circle cx="524.2" cy="265.0" r="2.3"/><circle cx="494.5" cy="266.0" r="2.3"/><circle cx="542.6" cy="263.5" r="2.3"/><circle cx="459.9" cy="264.0" r="2.3"/><circle cx="681.0" cy="263.5" r="2.3"/><circle cx="505.1" cy="266.0" r="2.3"/><circle cx="520.8" cy="266.0" r="2.3"/><circle cx="546.1" cy="263.3" r="2.3"/><circle cx="488.2" cy="265.9" r="2.3"/><circle cx="533.6" cy="263.7" r="2.3"/><circle cx="665.8" cy="263.5" r="2.3"/><circle cx="436.1" cy="263.8" r="2.3"/><circle cx="576.9" cy="265.7" r="2.3"/><circle cx="478.1" cy="263.0" r="2.3"/><circle cx="418.2" cy="264.5" r="2.3"/><circle cx="532.9" cy="264.9" r="2.3"/><circle cx="542.7" cy="262.7" r="2.3"/><circle cx="580.5" cy="262.1" r="2.3"/><circle cx="408.1" cy="264.7" r="2.3"/><circle cx="438.3" cy="265.1" r="2.3"/><circle cx="508.2" cy="262.0" r="2.3"/><circle cx="489.8" cy="266.1" r="2.3"/><circle cx="640.8" cy="263.5" r="2.3"/><circle cx="582.5" cy="262.0" r="2.3"/><circle cx="403.4" cy="265.2" r="2.3"/><circle cx="638.7" cy="265.1" r="2.3"/><circle cx="674.1" cy="263.5" r="2.3"/><circle cx="484.9" cy="264.9" r="2.3"/><circle cx="455.2" cy="266.1" r="2.3"/><circle cx="406.1" cy="265.9" r="2.3"/><circle cx="500.5" cy="264.0" r="2.3"/><circle cx="417.6" cy="265.3" r="2.3"/><circle cx="639.6" cy="263.1" r="2.3"/><circle cx="588.7" cy="265.0" r="2.3"/><circle cx="654.5" cy="265.6" r="2.3"/><circle cx="531.7" cy="264.6" r="2.3"/><circle cx="673.9" cy="263.8" r="2.3"/><circle cx="408.0" cy="265.9" r="2.3"/><circle cx="515.5" cy="262.7" r="2.3"/><circle cx="559.3" cy="261.7" r="2.3"/><circle cx="466.2" cy="263.0" r="2.3"/><circle cx="442.7" cy="263.6" r="2.3"/><circle cx="570.1" cy="263.5" r="2.3"/><circle cx="553.5" cy="264.0" r="2.3"/><circle cx="472.6" cy="264.0" r="2.3"/><circle cx="476.2" cy="264.6" r="2.3"/><circle cx="655.7" cy="262.5" r="2.3"/><circle cx="437.1" cy="265.3" r="2.3"/><circle cx="518.2" cy="265.9" r="2.3"/><circle cx="630.1" cy="263.3" r="2.3"/><circle cx="470.4" cy="264.0" r="2.3"/><circle cx="461.9" cy="265.7" r="2.3"/><circle cx="521.8" cy="262.0" r="2.3"/><circle cx="671.8" cy="263.3" r="2.3"/><circle cx="418.9" cy="264.4" r="2.3"/><circle cx="448.4" cy="265.8" r="2.3"/><circle cx="419.7" cy="265.3" r="2.3"/><circle cx="483.7" cy="263.4" r="2.3"/><circle cx="524.8" cy="263.6" r="2.3"/><circle cx="548.6" cy="262.3" r="2.3"/><circle cx="503.2" cy="263.8" r="2.3"/><circle cx="556.4" cy="263.7" r="2.3"/><circle cx="566.0" cy="264.8" r="2.3"/><circle cx="506.7" cy="262.1" r="2.3"/><circle cx="668.8" cy="264.1" r="2.3"/><circle cx="515.2" cy="261.5" r="2.3"/><circle cx="471.6" cy="263.0" r="2.3"/><circle cx="596.7" cy="266.1" r="2.3"/><circle cx="591.4" cy="265.1" r="2.3"/><circle cx="491.5" cy="262.2" r="2.3"/><circle cx="524.5" cy="264.5" r="2.3"/><circle cx="649.9" cy="264.4" r="2.3"/><circle cx="490.4" cy="262.0" r="2.3"/><circle cx="674.9" cy="266.0" r="2.3"/><circle cx="672.8" cy="264.5" r="2.3"/><circle cx="512.1" cy="265.6" r="2.3"/><circle cx="538.4" cy="264.2" r="2.3"/><circle cx="680.3" cy="264.3" r="2.3"/><circle cx="646.9" cy="265.8" r="2.3"/><circle cx="542.8" cy="261.2" r="2.3"/><circle cx="572.7" cy="262.4" r="2.3"/><circle cx="531.4" cy="263.8" r="2.3"/><circle cx="492.6" cy="263.8" r="2.3"/><circle cx="496.3" cy="262.8" r="2.3"/><circle cx="487.7" cy="262.7" r="2.3"/><circle cx="594.5" cy="263.1" r="2.3"/><circle cx="432.0" cy="264.4" r="2.3"/><circle cx="481.4" cy="263.9" r="2.3"/><circle cx="456.5" cy="265.4" r="2.3"/><circle cx="566.0" cy="261.7" r="2.3"/><circle cx="503.1" cy="262.3" r="2.3"/><circle cx="581.9" cy="265.3" r="2.3"/><circle cx="417.3" cy="265.1" r="2.3"/><circle cx="586.8" cy="261.6" r="2.3"/><circle cx="411.9" cy="264.1" r="2.3"/><circle cx="566.9" cy="263.8" r="2.3"/><circle cx="557.1" cy="266.1" r="2.3"/><circle cx="423.2" cy="265.6" r="2.3"/><circle cx="448.0" cy="265.7" r="2.3"/><circle cx="653.0" cy="263.2" r="2.3"/><circle cx="465.7" cy="266.2" r="2.3"/><circle cx="422.3" cy="266.1" r="2.3"/><circle cx="519.2" cy="259.3" r="2.3"/><circle cx="507.1" cy="258.9" r="2.3"/><circle cx="528.3" cy="260.1" r="2.3"/><circle cx="584.9" cy="258.9" r="2.3"/><circle cx="589.9" cy="258.7" r="2.3"/><circle cx="525.8" cy="258.1" r="2.3"/><circle cx="505.1" cy="260.7" r="2.3"/><circle cx="512.8" cy="260.4" r="2.3"/><circle cx="531.9" cy="259.4" r="2.3"/><circle cx="513.7" cy="259.7" r="2.3"/><circle cx="596.0" cy="260.2" r="2.3"/><circle cx="572.9" cy="260.3" r="2.3"/><circle cx="541.0" cy="258.8" r="2.3"/><circle cx="501.6" cy="258.8" r="2.3"/><circle cx="507.0" cy="259.3" r="2.3"/><circle cx="506.4" cy="258.3" r="2.3"/><circle cx="577.0" cy="259.2" r="2.3"/><circle cx="545.4" cy="260.3" r="2.3"/><circle cx="560.4" cy="260.3" r="2.3"/><circle cx="545.8" cy="259.2" r="2.3"/><circle cx="501.3" cy="260.6" r="2.3"/><circle cx="520.9" cy="260.3" r="2.3"/><circle cx="544.4" cy="260.1" r="2.3"/><circle cx="548.6" cy="259.4" r="2.3"/><circle cx="576.0" cy="255.3" r="2.3"/><circle cx="588.0" cy="251.0" r="2.3"/><circle cx="592.0" cy="250.2" r="2.3"/><circle cx="595.0" cy="251.3" r="2.3"/><circle cx="601.0" cy="250.5" r="2.3"/><circle cx="607.0" cy="251.0" r="2.3"/><circle cx="590.0" cy="255.0" r="2.3"/><circle cx="603.0" cy="254.2" r="2.3"/><circle cx="602.0" cy="260.6" r="2.3"/><circle cx="604.0" cy="262.7" r="2.3"/><circle cx="609.0" cy="264.4" r="2.3"/><circle cx="615.0" cy="264.7" r="2.3"/><circle cx="620.0" cy="264.4" r="2.3"/><circle cx="598.0" cy="265.5" r="2.3"/><circle cx="600.0" cy="265.5" r="2.3"/><circle cx="612.0" cy="265.3" r="2.3"/><circle cx="624.0" cy="265.0" r="2.3"/><circle cx="635.0" cy="257.4" r="2.3"/><circle cx="642.0" cy="258.2" r="2.3"/><circle cx="674.0" cy="260.8" r="2.3"/><circle cx="607.5" cy="237.1" r="2.3"/><circle cx="599.2" cy="237.1" r="2.3"/><circle cx="618.9" cy="237.1" r="2.3"/><circle cx="604.2" cy="238.3" r="2.3"/><circle cx="623.7" cy="236.9" r="2.3"/><circle cx="611.5" cy="237.9" r="2.3"/><circle cx="618.1" cy="238.0" r="2.3"/><circle cx="609.8" cy="237.2" r="2.3"/><circle cx="620.4" cy="237.2" r="2.3"/><circle cx="607.5" cy="237.0" r="2.3"/><circle cx="616.2" cy="236.8" r="2.3"/><circle cx="607.9" cy="237.9" r="2.3"/><circle cx="623.5" cy="237.5" r="2.3"/><circle cx="606.9" cy="237.8" r="2.3"/><circle cx="616.2" cy="236.9" r="2.3"/><circle cx="621.4" cy="237.5" r="2.3"/><circle cx="623.2" cy="237.4" r="2.3"/><circle cx="618.6" cy="238.0" r="2.3"/><circle cx="619.0" cy="236.8" r="2.3"/><circle cx="620.0" cy="238.2" r="2.3"/><circle cx="602.7" cy="238.3" r="2.3"/><circle cx="614.0" cy="237.8" r="2.3"/><circle cx="599.7" cy="242.6" r="2.3"/><circle cx="617.2" cy="242.1" r="2.3"/><circle cx="602.8" cy="242.4" r="2.3"/><circle cx="619.0" cy="242.7" r="2.3"/><circle cx="617.6" cy="242.4" r="2.3"/><circle cx="607.8" cy="242.2" r="2.3"/><circle cx="609.8" cy="241.9" r="2.3"/><circle cx="621.7" cy="241.9" r="2.3"/><circle cx="623.9" cy="242.2" r="2.3"/><circle cx="601.6" cy="242.8" r="2.3"/><circle cx="618.9" cy="241.6" r="2.3"/><circle cx="604.1" cy="242.5" r="2.3"/><circle cx="609.4" cy="242.5" r="2.3"/><circle cx="620.3" cy="242.1" r="2.3"/><circle cx="623.2" cy="242.6" r="2.3"/><circle cx="599.3" cy="242.6" r="2.3"/><circle cx="618.8" cy="242.3" r="2.3"/><circle cx="607.7" cy="242.6" r="2.3"/><circle cx="618.1" cy="241.4" r="2.3"/><circle cx="598.2" cy="241.8" r="2.3"/><circle cx="620.7" cy="241.3" r="2.3"/><circle cx="600.1" cy="241.6" r="2.3"/><circle cx="626.9" cy="247.9" r="2.3"/><circle cx="626.4" cy="246.8" r="2.3"/><circle cx="627.0" cy="245.9" r="2.3"/><circle cx="626.9" cy="253.4" r="2.3"/><circle cx="627.1" cy="251.7" r="2.3"/><circle cx="625.4" cy="253.1" r="2.3"/><circle cx="625.4" cy="244.5" r="2.3"/><circle cx="625.9" cy="250.1" r="2.3"/><circle cx="625.6" cy="247.4" r="2.3"/><circle cx="625.4" cy="253.5" r="2.3"/><circle cx="603.3" cy="197.2" r="2.3"/><circle cx="623.8" cy="199.6" r="2.3"/><circle cx="614.6" cy="198.4" r="2.3"/><circle cx="623.4" cy="199.7" r="2.3"/><circle cx="612.1" cy="198.1" r="2.3"/><circle cx="623.0" cy="198.5" r="2.3"/><circle cx="600.0" cy="197.0" r="2.3"/><circle cx="624.2" cy="198.7" r="2.3"/><circle cx="616.3" cy="197.1" r="2.3"/><circle cx="623.6" cy="198.4" r="2.3"/><circle cx="612.2" cy="197.9" r="2.3"/><circle cx="624.3" cy="198.5" r="2.3"/><circle cx="608.8" cy="197.6" r="2.3"/><circle cx="609.1" cy="197.4" r="2.3"/><circle cx="627.8" cy="198.4" r="2.3"/><circle cx="610.9" cy="198.4" r="2.3"/><circle cx="604.8" cy="196.9" r="2.3"/><circle cx="613.5" cy="204.9" r="2.3"/><circle cx="621.0" cy="206.1" r="2.3"/><circle cx="629.0" cy="219.0" r="2.3"/></g>
<g fill="#fff" fill-opacity="0.5" clip-path="url(#cb0)"><circle cx="662.8" cy="265.5" r="0.6"/><circle cx="594.4" cy="264.9" r="0.8"/><circle cx="578.3" cy="264.1" r="1.0"/><circle cx="462.9" cy="267.5" r="0.6"/><circle cx="561.4" cy="266.4" r="1.0"/><circle cx="519.5" cy="262.8" r="1.0"/><circle cx="581.5" cy="261.8" r="0.8"/><circle cx="651.7" cy="267.5" r="0.8"/><circle cx="469.6" cy="265.3" r="0.6"/><circle cx="663.4" cy="262.7" r="0.8"/><circle cx="678.9" cy="264.6" r="0.6"/><circle cx="553.3" cy="266.0" r="0.6"/><circle cx="670.1" cy="267.5" r="1.0"/><circle cx="655.9" cy="262.5" r="0.6"/><circle cx="658.5" cy="264.8" r="0.6"/><circle cx="648.0" cy="263.7" r="0.6"/><circle cx="482.1" cy="261.6" r="1.0"/><circle cx="643.6" cy="265.8" r="1.0"/><circle cx="669.7" cy="264.6" r="0.6"/><circle cx="570.6" cy="262.4" r="1.0"/><circle cx="540.0" cy="261.7" r="0.6"/><circle cx="581.1" cy="263.1" r="0.8"/><circle cx="488.7" cy="262.8" r="1.0"/><circle cx="547.5" cy="262.1" r="0.6"/><circle cx="631.5" cy="266.9" r="0.6"/><circle cx="494.2" cy="264.6" r="0.6"/><circle cx="488.3" cy="262.5" r="0.6"/><circle cx="675.0" cy="265.8" r="0.6"/><circle cx="640.4" cy="267.1" r="0.6"/><circle cx="552.6" cy="261.5" r="0.6"/><circle cx="648.0" cy="266.9" r="1.0"/><circle cx="545.5" cy="265.3" r="1.0"/><circle cx="514.3" cy="266.1" r="0.6"/><circle cx="680.1" cy="262.9" r="0.8"/><circle cx="519.5" cy="264.1" r="0.8"/><circle cx="470.6" cy="262.8" r="0.6"/><circle cx="465.8" cy="265.0" r="0.6"/><circle cx="556.6" cy="262.6" r="0.8"/><circle cx="640.8" cy="266.1" r="1.0"/><circle cx="552.0" cy="267.2" r="0.8"/><circle cx="560.1" cy="264.3" r="1.0"/><circle cx="466.3" cy="262.5" r="0.6"/><circle cx="518.3" cy="263.8" r="0.6"/><circle cx="531.3" cy="263.6" r="0.8"/><circle cx="514.2" cy="265.7" r="0.8"/><circle cx="592.0" cy="264.3" r="1.0"/><circle cx="567.5" cy="261.7" r="1.0"/><circle cx="549.7" cy="264.6" r="1.0"/><circle cx="661.0" cy="263.9" r="0.8"/><circle cx="585.6" cy="262.4" r="1.0"/><circle cx="668.3" cy="262.4" r="0.8"/><circle cx="512.0" cy="264.9" r="0.6"/><circle cx="515.4" cy="267.2" r="1.0"/><circle cx="568.5" cy="265.4" r="0.8"/><circle cx="459.0" cy="266.9" r="0.6"/><circle cx="584.7" cy="266.3" r="0.8"/><circle cx="554.4" cy="263.7" r="0.6"/><circle cx="517.8" cy="264.7" r="0.8"/><circle cx="590.4" cy="264.4" r="0.8"/><circle cx="493.9" cy="265.2" r="1.0"/><circle cx="523.0" cy="263.8" r="0.8"/><circle cx="633.4" cy="265.3" r="0.6"/><circle cx="499.2" cy="263.5" r="0.8"/><circle cx="470.2" cy="265.6" r="0.6"/><circle cx="449.0" cy="262.8" r="1.0"/><circle cx="632.2" cy="262.4" r="0.6"/><circle cx="485.0" cy="264.1" r="0.6"/><circle cx="658.5" cy="267.2" r="1.0"/><circle cx="568.3" cy="267.3" r="0.6"/><circle cx="538.9" cy="262.7" r="1.0"/><circle cx="554.7" cy="265.9" r="0.8"/><circle cx="453.4" cy="266.7" r="0.6"/><circle cx="579.8" cy="267.4" r="0.6"/><circle cx="451.1" cy="262.5" r="0.6"/><circle cx="435.5" cy="265.7" r="1.0"/><circle cx="472.3" cy="264.3" r="0.6"/><circle cx="475.4" cy="265.2" r="1.0"/><circle cx="666.2" cy="262.7" r="0.6"/><circle cx="675.7" cy="264.1" r="0.8"/><circle cx="532.7" cy="264.2" r="0.8"/><circle cx="674.6" cy="267.5" r="1.0"/><circle cx="655.9" cy="262.5" r="0.6"/><circle cx="594.5" cy="264.2" r="1.0"/><circle cx="540.3" cy="266.2" r="1.0"/><circle cx="433.5" cy="264.1" r="0.6"/><circle cx="580.9" cy="263.5" r="0.8"/><circle cx="558.4" cy="262.4" r="0.6"/><circle cx="659.6" cy="264.9" r="0.6"/><circle cx="554.7" cy="265.6" r="0.6"/><circle cx="631.3" cy="266.2" r="1.0"/><circle cx="665.6" cy="266.6" r="0.8"/><circle cx="533.9" cy="265.5" r="1.0"/><circle cx="525.5" cy="265.5" r="0.8"/><circle cx="670.9" cy="267.2" r="1.0"/><circle cx="470.5" cy="266.9" r="0.6"/><circle cx="497.5" cy="266.9" r="1.0"/><circle cx="678.7" cy="265.6" r="0.8"/></g>
<path d="M397.5 254.8H679.8" stroke="#ea3323" stroke-width="1.7" stroke-dasharray="10.2 4.7" fill="none"/>
<path d="M492.4 183.7V274.5" stroke="#000" stroke-width="1.2" stroke-dasharray="4.1 3.75" fill="none"/>
<path d="M425.0 259.7L429.1 263.8L425.0 267.9L420.9 263.8Z" fill="#c2dcc2" stroke="#1a1a1a" stroke-width="1.25"/>
<path d="M507.5 260.4L511.6 264.5L507.5 268.6L503.4 264.5Z" fill="#c2dcc2" stroke="#1a1a1a" stroke-width="1.25"/>
<path d="M543.0 260.4L547.1 264.5L543.0 268.6L538.9 264.5Z" fill="#c2dcc2" stroke="#1a1a1a" stroke-width="1.25"/>
<path d="M583.5 259.4L587.6 263.5L583.5 267.6L579.4 263.5Z" fill="#c2dcc2" stroke="#1a1a1a" stroke-width="1.25"/>
<path d="M631.5 260.4L635.6 264.5L631.5 268.6L627.4 264.5Z" fill="#c2dcc2" stroke="#1a1a1a" stroke-width="1.25"/>
<path d="M609.9 192.3L614.0 196.5L609.9 200.7L605.8 196.5Z" fill="#c2dcc2" stroke="#1a1a1a" stroke-width="1.25"/>
<path d="M458.0 256.6L462.2 263.8L453.8 263.8Z" fill="#c2dcc2" stroke="#1a1a1a" stroke-width="1.25"/>
<path d="M397.25 182V274.9" stroke="#000" stroke-width="1.15" fill="none"/><path d="M396.75 274.4H679.8" stroke="#555" stroke-width="1.15" fill="none"/><path d="M390.5 266.3H397.25" stroke="#000" stroke-width="1.1" fill="none"/><path d="M390.5 250.2H397.25" stroke="#000" stroke-width="1.1" fill="none"/><path d="M390.5 234.0H397.25" stroke="#000" stroke-width="1.1" fill="none"/><path d="M390.5 217.9H397.25" stroke="#000" stroke-width="1.1" fill="none"/><path d="M390.5 201.7H397.25" stroke="#000" stroke-width="1.1" fill="none"/><path d="M390.5 185.6H397.25" stroke="#000" stroke-width="1.1" fill="none"/><text transform="translate(382.9 266.3) rotate(-90)" text-anchor="middle" font-size="10.6">0</text><text transform="translate(382.9 234.0) rotate(-90)" text-anchor="middle" font-size="10.6">20</text><text transform="translate(382.9 201.7) rotate(-90)" text-anchor="middle" font-size="10.6">40</text><text transform="translate(367.1 229.0) rotate(-90)" text-anchor="middle" font-size="11.5">−log<tspan font-size="8" dy="2.2">10</tspan><tspan dy="-2.2">(P</tspan><tspan font-size="7.8" dy="2.2">GWAS</tspan><tspan dy="-2.2">)</tspan></text>
<text x="532" y="198.8" font-size="10.5">rs9823527</text>
<path d="M399.0 379.7L399.0 374.3L400.3 374.2L401.6 374.4L402.9 373.9L404.2 374.1L405.5 374.1L406.8 374.5L408.1 374.3L409.4 374.4L410.7 373.9L412.0 374.2L413.3 373.4L414.6 373.8L415.9 373.4L417.2 373.7L418.5 373.5L419.8 373.7L421.1 372.9L422.4 371.0L423.7 370.4L425.0 368.7L426.3 368.1L427.6 368.5L428.9 368.3L430.2 368.1L431.5 368.5L432.8 368.4L434.1 367.7L435.4 368.1L436.7 368.0L438.0 367.6L439.3 368.4L440.6 367.9L441.9 367.7L443.2 367.8L444.5 368.4L445.8 367.8L447.1 368.1L448.4 368.1L449.7 368.1L451.0 368.3L452.3 368.2L453.6 368.2L454.9 367.8L456.2 368.2L457.5 367.8L458.8 368.2L460.1 368.2L461.4 368.4L462.7 367.5L464.0 368.3L465.3 368.3L466.6 367.8L467.9 368.1L469.2 368.3L470.5 368.2L471.8 368.4L473.1 367.8L474.4 368.3L475.7 368.3L477.0 367.7L478.3 367.9L479.6 367.8L480.9 367.4L482.2 367.5L483.5 368.2L484.8 368.2L486.1 367.6L487.4 367.9L488.7 368.2L490.0 367.4L491.3 367.6L492.6 368.2L493.9 367.9L495.2 368.3L496.5 367.9L497.8 368.0L499.1 367.9L500.4 368.1L501.7 367.5L503.0 367.4L504.3 368.2L505.6 367.5L506.9 368.1L508.2 367.5L509.5 367.5L510.8 367.3L512.1 367.4L513.4 368.2L514.7 367.5L516.0 368.2L517.3 367.2L518.6 367.6L519.9 367.8L521.2 368.5L522.5 368.2L523.8 368.8L525.1 369.3L526.4 369.6L527.7 369.8L529.0 370.5L530.3 371.1L531.6 370.8L532.9 370.7L534.2 370.2L535.5 370.2L536.8 370.3L538.1 369.8L539.4 369.8L540.7 370.3L542.0 370.2L543.3 370.0L544.6 369.4L545.9 369.8L547.2 369.4L548.5 368.8L549.8 369.1L551.1 369.5L552.4 368.8L553.7 368.7L555.0 368.4L556.3 368.6L557.6 368.2L558.9 369.0L560.2 368.4L561.5 368.2L562.8 368.3L564.1 368.5L565.4 368.1L566.7 368.7L568.0 368.2L569.3 368.4L570.6 368.9L571.9 368.4L573.2 368.3L574.5 368.7L575.8 368.9L577.1 368.6L578.4 368.4L579.7 368.9L581.0 368.1L582.3 368.9L583.6 368.6L584.9 368.1L586.2 368.1L587.5 368.1L588.8 368.2L590.1 368.6L591.4 368.6L592.7 368.5L594.0 368.3L595.3 368.1L596.6 368.0L597.5 379.7Z" fill="#13597f" clip-path="url(#cb1)"/>
<path d="M630.0 379.7L630.0 372.2L631.3 372.4L632.6 372.4L633.9 371.9L635.2 371.8L636.5 371.9L637.8 371.7L639.1 371.8L640.4 372.2L641.7 372.3L643.0 371.8L644.3 372.5L645.6 371.6L646.9 371.8L648.2 372.4L649.5 372.2L650.8 372.0L652.1 371.8L653.4 372.2L654.7 372.0L656.0 371.6L657.3 372.0L658.6 372.4L659.9 372.3L661.2 371.6L662.5 371.6L663.8 371.5L665.1 371.9L666.4 372.1L667.7 372.3L669.0 372.0L670.3 371.7L671.6 372.3L672.9 371.3L674.2 371.9L675.5 372.0L676.8 371.7L678.1 372.1L679.4 372.1L680.7 371.7L681.0 379.7Z" fill="#13597f" clip-path="url(#cb1)"/>
<g class="pb" clip-path="url(#cb1)"><circle cx="399.0" cy="376.0" r="2.3"/><circle cx="401.6" cy="376.7" r="2.3"/><circle cx="404.2" cy="375.4" r="2.3"/><circle cx="406.8" cy="375.7" r="2.3"/><circle cx="409.4" cy="375.7" r="2.3"/><circle cx="412.0" cy="375.9" r="2.3"/><circle cx="414.6" cy="375.6" r="2.3"/><circle cx="417.2" cy="375.4" r="2.3"/><circle cx="419.8" cy="375.4" r="2.3"/><circle cx="422.4" cy="372.6" r="2.3"/><circle cx="425.0" cy="370.1" r="2.3"/><circle cx="427.6" cy="370.8" r="2.3"/><circle cx="430.2" cy="369.7" r="2.3"/><circle cx="432.8" cy="370.3" r="2.3"/><circle cx="435.4" cy="369.5" r="2.3"/><circle cx="438.0" cy="369.0" r="2.3"/><circle cx="440.6" cy="369.2" r="2.3"/><circle cx="443.2" cy="370.0" r="2.3"/><circle cx="445.8" cy="369.1" r="2.3"/><circle cx="448.4" cy="369.6" r="2.3"/><circle cx="451.0" cy="370.2" r="2.3"/><circle cx="453.6" cy="369.5" r="2.3"/><circle cx="456.2" cy="370.0" r="2.3"/><circle cx="458.8" cy="369.9" r="2.3"/><circle cx="461.4" cy="370.5" r="2.3"/><circle cx="464.0" cy="370.4" r="2.3"/><circle cx="466.6" cy="369.2" r="2.3"/><circle cx="469.2" cy="369.7" r="2.3"/><circle cx="471.8" cy="370.7" r="2.3"/><circle cx="474.4" cy="369.5" r="2.3"/><circle cx="477.0" cy="369.9" r="2.3"/><circle cx="479.6" cy="369.5" r="2.3"/><circle cx="482.2" cy="369.6" r="2.3"/><circle cx="484.8" cy="370.4" r="2.3"/><circle cx="487.4" cy="369.9" r="2.3"/><circle cx="490.0" cy="369.1" r="2.3"/><circle cx="492.6" cy="369.9" r="2.3"/><circle cx="495.2" cy="369.5" r="2.3"/><circle cx="497.8" cy="370.4" r="2.3"/><circle cx="500.4" cy="370.5" r="2.3"/><circle cx="503.0" cy="368.7" r="2.3"/><circle cx="505.6" cy="369.9" r="2.3"/><circle cx="508.2" cy="368.9" r="2.3"/><circle cx="510.8" cy="368.5" r="2.3"/><circle cx="513.4" cy="370.5" r="2.3"/><circle cx="516.0" cy="369.6" r="2.3"/><circle cx="518.6" cy="369.1" r="2.3"/><circle cx="521.2" cy="370.7" r="2.3"/><circle cx="523.8" cy="370.9" r="2.3"/><circle cx="526.4" cy="371.2" r="2.3"/><circle cx="529.0" cy="371.8" r="2.3"/><circle cx="531.6" cy="372.9" r="2.3"/><circle cx="534.2" cy="371.5" r="2.3"/><circle cx="536.8" cy="372.4" r="2.3"/><circle cx="539.4" cy="371.6" r="2.3"/><circle cx="542.0" cy="372.2" r="2.3"/><circle cx="544.6" cy="370.9" r="2.3"/><circle cx="547.2" cy="371.1" r="2.3"/><circle cx="549.8" cy="371.4" r="2.3"/><circle cx="552.4" cy="370.1" r="2.3"/><circle cx="555.0" cy="370.2" r="2.3"/><circle cx="557.6" cy="370.5" r="2.3"/><circle cx="560.2" cy="370.3" r="2.3"/><circle cx="562.8" cy="370.1" r="2.3"/><circle cx="565.4" cy="370.5" r="2.3"/><circle cx="568.0" cy="370.3" r="2.3"/><circle cx="570.6" cy="371.0" r="2.3"/><circle cx="573.2" cy="370.5" r="2.3"/><circle cx="575.8" cy="371.0" r="2.3"/><circle cx="578.4" cy="370.0" r="2.3"/><circle cx="581.0" cy="369.4" r="2.3"/><circle cx="583.6" cy="369.9" r="2.3"/><circle cx="586.2" cy="369.9" r="2.3"/><circle cx="588.8" cy="370.3" r="2.3"/><circle cx="591.4" cy="370.1" r="2.3"/><circle cx="594.0" cy="370.0" r="2.3"/><circle cx="596.6" cy="369.5" r="2.3"/><circle cx="631.3" cy="373.8" r="2.3"/><circle cx="633.9" cy="373.4" r="2.3"/><circle cx="636.5" cy="373.7" r="2.3"/><circle cx="639.1" cy="373.3" r="2.3"/><circle cx="641.7" cy="374.0" r="2.3"/><circle cx="644.3" cy="374.6" r="2.3"/><circle cx="646.9" cy="373.8" r="2.3"/><circle cx="649.5" cy="373.5" r="2.3"/><circle cx="652.1" cy="373.5" r="2.3"/><circle cx="654.7" cy="373.8" r="2.3"/><circle cx="657.3" cy="373.6" r="2.3"/><circle cx="659.9" cy="374.0" r="2.3"/><circle cx="662.5" cy="373.1" r="2.3"/><circle cx="665.1" cy="373.9" r="2.3"/><circle cx="667.7" cy="373.9" r="2.3"/><circle cx="670.3" cy="372.9" r="2.3"/><circle cx="672.9" cy="373.0" r="2.3"/><circle cx="675.5" cy="374.2" r="2.3"/><circle cx="678.1" cy="373.3" r="2.3"/><circle cx="680.7" cy="373.0" r="2.3"/><circle cx="415.0" cy="376.7" r="2.3"/><circle cx="473.2" cy="371.8" r="2.3"/><circle cx="506.8" cy="371.2" r="2.3"/><circle cx="470.3" cy="376.4" r="2.3"/><circle cx="659.8" cy="374.6" r="2.3"/><circle cx="525.3" cy="376.8" r="2.3"/><circle cx="565.2" cy="369.9" r="2.3"/><circle cx="434.8" cy="376.7" r="2.3"/><circle cx="522.3" cy="371.8" r="2.3"/><circle cx="406.1" cy="376.8" r="2.3"/><circle cx="676.8" cy="373.7" r="2.3"/><circle cx="420.1" cy="374.8" r="2.3"/><circle cx="466.7" cy="375.3" r="2.3"/><circle cx="666.5" cy="376.0" r="2.3"/><circle cx="447.1" cy="370.1" r="2.3"/><circle cx="513.7" cy="369.9" r="2.3"/><circle cx="444.6" cy="373.5" r="2.3"/><circle cx="449.7" cy="376.1" r="2.3"/><circle cx="552.4" cy="373.9" r="2.3"/><circle cx="465.3" cy="369.4" r="2.3"/><circle cx="584.8" cy="375.1" r="2.3"/><circle cx="432.0" cy="370.4" r="2.3"/><circle cx="424.9" cy="375.6" r="2.3"/><circle cx="442.1" cy="369.8" r="2.3"/><circle cx="422.7" cy="375.6" r="2.3"/><circle cx="565.4" cy="370.3" r="2.3"/><circle cx="662.5" cy="375.2" r="2.3"/><circle cx="668.1" cy="373.5" r="2.3"/><circle cx="635.7" cy="374.9" r="2.3"/><circle cx="486.7" cy="375.5" r="2.3"/><circle cx="499.0" cy="372.3" r="2.3"/><circle cx="678.1" cy="374.2" r="2.3"/><circle cx="585.0" cy="376.2" r="2.3"/><circle cx="405.3" cy="376.1" r="2.3"/><circle cx="567.6" cy="376.9" r="2.3"/><circle cx="481.7" cy="376.2" r="2.3"/><circle cx="576.2" cy="373.6" r="2.3"/><circle cx="504.7" cy="373.0" r="2.3"/><circle cx="552.0" cy="373.1" r="2.3"/><circle cx="481.6" cy="370.0" r="2.3"/><circle cx="408.0" cy="376.6" r="2.3"/><circle cx="489.4" cy="371.3" r="2.3"/><circle cx="423.3" cy="375.1" r="2.3"/><circle cx="583.5" cy="370.5" r="2.3"/><circle cx="676.3" cy="375.1" r="2.3"/><circle cx="502.3" cy="377.1" r="2.3"/><circle cx="553.7" cy="374.6" r="2.3"/><circle cx="514.5" cy="373.3" r="2.3"/><circle cx="570.6" cy="370.0" r="2.3"/><circle cx="643.9" cy="375.9" r="2.3"/><circle cx="532.2" cy="373.0" r="2.3"/><circle cx="427.8" cy="375.6" r="2.3"/><circle cx="651.8" cy="377.0" r="2.3"/><circle cx="436.0" cy="374.4" r="2.3"/><circle cx="517.5" cy="368.7" r="2.3"/><circle cx="480.4" cy="375.9" r="2.3"/><circle cx="442.4" cy="371.8" r="2.3"/><circle cx="416.1" cy="375.4" r="2.3"/><circle cx="468.2" cy="376.9" r="2.3"/><circle cx="447.8" cy="376.8" r="2.3"/><circle cx="518.6" cy="375.9" r="2.3"/><circle cx="430.4" cy="374.9" r="2.3"/><circle cx="543.0" cy="370.3" r="2.3"/><circle cx="677.7" cy="372.4" r="2.3"/><circle cx="509.5" cy="375.6" r="2.3"/><circle cx="431.2" cy="374.5" r="2.3"/><circle cx="434.7" cy="377.0" r="2.3"/><circle cx="562.4" cy="372.6" r="2.3"/><circle cx="464.3" cy="376.4" r="2.3"/><circle cx="466.9" cy="373.2" r="2.3"/><circle cx="433.2" cy="372.4" r="2.3"/><circle cx="544.5" cy="371.2" r="2.3"/><circle cx="424.4" cy="374.1" r="2.3"/><circle cx="465.9" cy="373.4" r="2.3"/><circle cx="679.1" cy="372.8" r="2.3"/><circle cx="403.3" cy="376.7" r="2.3"/><circle cx="492.6" cy="373.7" r="2.3"/><circle cx="583.4" cy="373.8" r="2.3"/><circle cx="493.1" cy="375.1" r="2.3"/><circle cx="577.7" cy="373.0" r="2.3"/><circle cx="554.1" cy="374.9" r="2.3"/><circle cx="531.4" cy="373.1" r="2.3"/><circle cx="530.9" cy="377.2" r="2.3"/><circle cx="586.1" cy="373.5" r="2.3"/><circle cx="567.9" cy="375.8" r="2.3"/><circle cx="568.0" cy="373.4" r="2.3"/><circle cx="668.7" cy="376.5" r="2.3"/><circle cx="668.6" cy="372.6" r="2.3"/><circle cx="663.8" cy="373.1" r="2.3"/><circle cx="486.6" cy="369.6" r="2.3"/><circle cx="594.5" cy="376.7" r="2.3"/><circle cx="654.2" cy="376.4" r="2.3"/><circle cx="400.4" cy="376.2" r="2.3"/><circle cx="527.5" cy="371.3" r="2.3"/><circle cx="497.1" cy="374.0" r="2.3"/><circle cx="547.9" cy="376.4" r="2.3"/><circle cx="480.8" cy="372.5" r="2.3"/><circle cx="461.2" cy="373.9" r="2.3"/><circle cx="638.1" cy="374.5" r="2.3"/><circle cx="556.7" cy="375.1" r="2.3"/><circle cx="502.2" cy="368.5" r="2.3"/><circle cx="580.0" cy="376.1" r="2.3"/><circle cx="589.1" cy="376.3" r="2.3"/><circle cx="444.5" cy="377.1" r="2.3"/><circle cx="652.3" cy="376.2" r="2.3"/><circle cx="400.0" cy="374.8" r="2.3"/><circle cx="454.8" cy="372.7" r="2.3"/><circle cx="500.7" cy="375.0" r="2.3"/><circle cx="447.6" cy="371.2" r="2.3"/><circle cx="445.4" cy="369.4" r="2.3"/><circle cx="505.2" cy="369.4" r="2.3"/><circle cx="489.4" cy="373.7" r="2.3"/><circle cx="410.9" cy="375.8" r="2.3"/><circle cx="418.0" cy="376.8" r="2.3"/><circle cx="451.5" cy="370.3" r="2.3"/><circle cx="540.5" cy="372.5" r="2.3"/><circle cx="644.2" cy="375.9" r="2.3"/><circle cx="549.6" cy="371.9" r="2.3"/><circle cx="476.2" cy="374.6" r="2.3"/><circle cx="455.7" cy="368.9" r="2.3"/><circle cx="634.0" cy="374.3" r="2.3"/><circle cx="434.6" cy="370.0" r="2.3"/><circle cx="538.2" cy="373.7" r="2.3"/><circle cx="445.3" cy="376.7" r="2.3"/><circle cx="662.8" cy="376.9" r="2.3"/><circle cx="575.2" cy="372.4" r="2.3"/><circle cx="593.3" cy="373.1" r="2.3"/><circle cx="440.6" cy="370.4" r="2.3"/><circle cx="418.8" cy="374.6" r="2.3"/><circle cx="666.8" cy="377.1" r="2.3"/><circle cx="573.4" cy="375.4" r="2.3"/><circle cx="423.5" cy="372.2" r="2.3"/><circle cx="527.0" cy="375.7" r="2.3"/><circle cx="450.5" cy="374.6" r="2.3"/><circle cx="577.9" cy="372.3" r="2.3"/><circle cx="425.0" cy="363.0" r="2.3"/><circle cx="437.0" cy="362.0" r="2.3"/><circle cx="507.5" cy="361.5" r="2.3"/><circle cx="562.0" cy="363.0" r="2.3"/><circle cx="565.0" cy="363.0" r="2.3"/><circle cx="583.5" cy="354.8" r="2.3"/><circle cx="584.0" cy="357.3" r="2.3"/><circle cx="590.0" cy="361.1" r="2.3"/><circle cx="578.0" cy="363.6" r="2.3"/><circle cx="516.0" cy="364.9" r="2.3"/><circle cx="540.0" cy="364.3" r="2.3"/><circle cx="552.0" cy="364.9" r="2.3"/><circle cx="572.0" cy="364.3" r="2.3"/><circle cx="646.3" cy="365.8" r="2.3"/><circle cx="665.7" cy="365.0" r="2.3"/><circle cx="661.0" cy="365.0" r="2.3"/><circle cx="660.5" cy="366.6" r="2.3"/><circle cx="650.5" cy="366.8" r="2.3"/><circle cx="645.2" cy="365.4" r="2.3"/><circle cx="667.0" cy="366.4" r="2.3"/><circle cx="667.3" cy="366.3" r="2.3"/><circle cx="643.1" cy="365.0" r="2.3"/><circle cx="650.2" cy="365.7" r="2.3"/><circle cx="666.7" cy="366.6" r="2.3"/><circle cx="655.1" cy="366.4" r="2.3"/><circle cx="665.1" cy="365.9" r="2.3"/><circle cx="656.6" cy="365.8" r="2.3"/><circle cx="663.2" cy="367.0" r="2.3"/><circle cx="666.5" cy="365.5" r="2.3"/><circle cx="649.8" cy="367.3" r="2.3"/><circle cx="655.8" cy="365.2" r="2.3"/><circle cx="650.6" cy="365.0" r="2.3"/><circle cx="645.4" cy="366.0" r="2.3"/><circle cx="662.8" cy="366.1" r="2.3"/><circle cx="651.7" cy="366.1" r="2.3"/><circle cx="658.6" cy="366.8" r="2.3"/><circle cx="662.9" cy="366.7" r="2.3"/><circle cx="653.0" cy="365.3" r="2.3"/><circle cx="655.4" cy="367.2" r="2.3"/><circle cx="666.3" cy="365.3" r="2.3"/><circle cx="662.1" cy="366.0" r="2.3"/><circle cx="647.6" cy="367.3" r="2.3"/><circle cx="648.2" cy="367.3" r="2.3"/><circle cx="602.0" cy="376.2" r="2.3"/><circle cx="606.0" cy="375.0" r="2.3"/><circle cx="613.0" cy="376.9" r="2.3"/><circle cx="616.0" cy="375.6" r="2.3"/><circle cx="620.0" cy="376.2" r="2.3"/><circle cx="624.0" cy="375.0" r="2.3"/><circle cx="609.0" cy="373.7" r="2.3"/><circle cx="616.9" cy="305.4" r="2.3"/><circle cx="623.9" cy="305.3" r="2.3"/><circle cx="601.7" cy="304.8" r="2.3"/><circle cx="622.3" cy="306.1" r="2.3"/><circle cx="623.2" cy="306.1" r="2.3"/><circle cx="602.5" cy="304.7" r="2.3"/><circle cx="624.3" cy="304.9" r="2.3"/><circle cx="617.3" cy="306.2" r="2.3"/><circle cx="610.9" cy="305.6" r="2.3"/><circle cx="618.8" cy="306.0" r="2.3"/><circle cx="602.6" cy="305.4" r="2.3"/><circle cx="607.7" cy="304.7" r="2.3"/><circle cx="606.0" cy="305.2" r="2.3"/><circle cx="622.1" cy="305.7" r="2.3"/><circle cx="604.1" cy="304.6" r="2.3"/><circle cx="601.8" cy="305.3" r="2.3"/><circle cx="611.6" cy="305.3" r="2.3"/><circle cx="624.5" cy="309.5" r="2.3"/><circle cx="626.0" cy="309.5" r="2.3"/><circle cx="611.0" cy="317.5" r="2.3"/><circle cx="614.0" cy="333.4" r="2.3"/><circle cx="620.0" cy="333.4" r="2.3"/><circle cx="621.5" cy="333.0" r="2.3"/><circle cx="629.0" cy="348.5" r="2.3"/><circle cx="601.3" cy="343.3" r="2.3"/><circle cx="626.7" cy="343.0" r="2.3"/><circle cx="624.9" cy="342.6" r="2.3"/><circle cx="601.8" cy="343.5" r="2.3"/><circle cx="602.8" cy="342.5" r="2.3"/><circle cx="622.0" cy="342.2" r="2.3"/><circle cx="615.2" cy="342.4" r="2.3"/><circle cx="604.1" cy="343.3" r="2.3"/><circle cx="605.7" cy="342.2" r="2.3"/><circle cx="624.4" cy="342.5" r="2.3"/><circle cx="623.4" cy="343.2" r="2.3"/><circle cx="622.7" cy="343.2" r="2.3"/><circle cx="611.4" cy="342.2" r="2.3"/><circle cx="604.8" cy="342.6" r="2.3"/><circle cx="609.7" cy="342.9" r="2.3"/><circle cx="604.8" cy="343.0" r="2.3"/><circle cx="621.8" cy="343.1" r="2.3"/><circle cx="615.2" cy="343.2" r="2.3"/><circle cx="606.7" cy="343.4" r="2.3"/><circle cx="621.6" cy="342.2" r="2.3"/><circle cx="601.9" cy="346.6" r="2.3"/><circle cx="611.9" cy="345.5" r="2.3"/><circle cx="608.1" cy="345.9" r="2.3"/><circle cx="598.4" cy="346.0" r="2.3"/><circle cx="600.3" cy="346.4" r="2.3"/><circle cx="610.2" cy="346.2" r="2.3"/><circle cx="610.7" cy="345.9" r="2.3"/><circle cx="598.3" cy="345.8" r="2.3"/><circle cx="608.2" cy="345.6" r="2.3"/><circle cx="600.0" cy="354.9" r="2.3"/><circle cx="599.5" cy="355.9" r="2.3"/><circle cx="617.8" cy="354.9" r="2.3"/><circle cx="617.3" cy="355.2" r="2.3"/><circle cx="621.1" cy="355.7" r="2.3"/><circle cx="616.2" cy="355.8" r="2.3"/><circle cx="623.6" cy="355.4" r="2.3"/><circle cx="612.3" cy="354.9" r="2.3"/><circle cx="624.8" cy="355.0" r="2.3"/><circle cx="612.4" cy="355.3" r="2.3"/><circle cx="613.4" cy="355.9" r="2.3"/><circle cx="615.4" cy="355.1" r="2.3"/><circle cx="624.5" cy="355.3" r="2.3"/><circle cx="615.7" cy="355.6" r="2.3"/><circle cx="603.0" cy="355.1" r="2.3"/><circle cx="622.0" cy="354.8" r="2.3"/><circle cx="600.9" cy="355.7" r="2.3"/><circle cx="621.4" cy="355.4" r="2.3"/><circle cx="608.5" cy="361.7" r="2.3"/><circle cx="604.3" cy="361.3" r="2.3"/><circle cx="609.4" cy="361.8" r="2.3"/><circle cx="599.7" cy="360.0" r="2.3"/><circle cx="607.6" cy="360.8" r="2.3"/><circle cx="606.4" cy="360.0" r="2.3"/><circle cx="611.5" cy="361.3" r="2.3"/><circle cx="603.5" cy="360.4" r="2.3"/><circle cx="611.7" cy="361.6" r="2.3"/><circle cx="602.5" cy="359.1" r="2.3"/><circle cx="604.6" cy="359.5" r="2.3"/><circle cx="610.3" cy="361.4" r="2.3"/><circle cx="623.7" cy="359.8" r="2.3"/><circle cx="623.8" cy="362.2" r="2.3"/><circle cx="625.2" cy="362.6" r="2.3"/><circle cx="624.1" cy="362.2" r="2.3"/><circle cx="624.6" cy="360.6" r="2.3"/><circle cx="622.8" cy="361.8" r="2.3"/><circle cx="624.9" cy="362.7" r="2.3"/><circle cx="623.0" cy="360.4" r="2.3"/><circle cx="627.8" cy="366.4" r="2.3"/><circle cx="622.8" cy="358.9" r="2.3"/><circle cx="624.6" cy="364.2" r="2.3"/><circle cx="625.1" cy="364.3" r="2.3"/><circle cx="608.0" cy="359.9" r="2.3"/></g>
<g fill="#fff" fill-opacity="0.5" clip-path="url(#cb1)"><circle cx="663.0" cy="373.4" r="0.6"/><circle cx="594.1" cy="370.9" r="0.8"/><circle cx="589.4" cy="374.5" r="0.8"/><circle cx="436.0" cy="371.6" r="0.8"/><circle cx="525.1" cy="373.6" r="0.8"/><circle cx="595.6" cy="374.8" r="1.0"/><circle cx="498.2" cy="375.6" r="0.8"/><circle cx="556.9" cy="371.6" r="0.6"/><circle cx="672.0" cy="376.6" r="1.0"/><circle cx="544.2" cy="377.1" r="0.6"/><circle cx="568.0" cy="371.5" r="0.8"/><circle cx="650.1" cy="372.3" r="0.8"/><circle cx="546.7" cy="372.7" r="0.8"/><circle cx="676.9" cy="377.6" r="0.6"/><circle cx="641.2" cy="375.7" r="0.6"/><circle cx="447.7" cy="377.6" r="1.0"/><circle cx="479.3" cy="372.9" r="0.6"/><circle cx="559.3" cy="371.2" r="1.0"/><circle cx="482.3" cy="377.2" r="0.8"/><circle cx="673.4" cy="372.5" r="0.6"/><circle cx="493.5" cy="373.4" r="0.6"/><circle cx="668.0" cy="371.9" r="0.8"/><circle cx="428.2" cy="377.3" r="0.8"/><circle cx="667.0" cy="373.4" r="0.6"/><circle cx="431.2" cy="370.8" r="1.0"/><circle cx="532.4" cy="375.7" r="0.6"/><circle cx="488.0" cy="372.4" r="0.6"/><circle cx="520.3" cy="378.4" r="0.6"/><circle cx="585.9" cy="375.0" r="1.0"/><circle cx="549.2" cy="371.2" r="0.8"/><circle cx="464.5" cy="374.6" r="0.8"/><circle cx="513.5" cy="371.4" r="0.6"/><circle cx="578.4" cy="377.8" r="0.8"/><circle cx="570.1" cy="372.8" r="1.0"/><circle cx="520.0" cy="370.9" r="0.8"/><circle cx="490.1" cy="376.3" r="1.0"/><circle cx="491.6" cy="372.3" r="0.8"/><circle cx="543.2" cy="376.5" r="0.8"/><circle cx="660.5" cy="375.9" r="0.6"/><circle cx="632.1" cy="372.1" r="1.0"/><circle cx="478.6" cy="371.8" r="1.0"/><circle cx="510.6" cy="378.1" r="1.0"/><circle cx="539.1" cy="376.7" r="1.0"/><circle cx="639.4" cy="376.9" r="0.6"/><circle cx="469.7" cy="370.6" r="0.8"/><circle cx="432.9" cy="377.5" r="1.0"/><circle cx="530.5" cy="378.1" r="0.8"/><circle cx="484.4" cy="371.2" r="0.6"/><circle cx="575.1" cy="372.0" r="0.8"/><circle cx="586.4" cy="373.5" r="0.6"/><circle cx="590.3" cy="374.3" r="0.8"/><circle cx="434.5" cy="376.7" r="0.8"/><circle cx="476.9" cy="372.9" r="0.6"/><circle cx="431.9" cy="377.2" r="0.8"/><circle cx="644.8" cy="374.2" r="0.8"/><circle cx="672.3" cy="377.1" r="1.0"/><circle cx="521.9" cy="372.7" r="0.8"/><circle cx="585.8" cy="373.5" r="0.6"/><circle cx="552.9" cy="374.5" r="0.6"/><circle cx="550.9" cy="373.4" r="0.6"/><circle cx="552.5" cy="373.7" r="1.0"/><circle cx="578.1" cy="371.0" r="1.0"/><circle cx="545.2" cy="376.5" r="0.8"/><circle cx="436.7" cy="377.5" r="1.0"/><circle cx="577.6" cy="375.7" r="0.6"/><circle cx="636.5" cy="377.6" r="0.6"/><circle cx="515.0" cy="374.0" r="0.6"/><circle cx="500.8" cy="376.5" r="1.0"/><circle cx="438.4" cy="372.6" r="0.6"/><circle cx="662.7" cy="374.8" r="1.0"/><circle cx="535.2" cy="377.5" r="1.0"/><circle cx="584.6" cy="374.1" r="1.0"/><circle cx="656.0" cy="370.4" r="0.8"/><circle cx="667.4" cy="370.1" r="0.8"/><circle cx="658.1" cy="371.4" r="0.8"/><circle cx="486.0" cy="373.2" r="0.6"/><circle cx="675.7" cy="376.5" r="1.0"/><circle cx="575.2" cy="378.1" r="0.6"/><circle cx="488.3" cy="374.4" r="0.8"/><circle cx="668.6" cy="371.3" r="0.8"/><circle cx="469.8" cy="374.7" r="0.8"/><circle cx="664.5" cy="370.2" r="0.8"/><circle cx="456.3" cy="377.1" r="0.6"/><circle cx="526.7" cy="374.7" r="1.0"/><circle cx="441.4" cy="372.8" r="0.6"/><circle cx="522.2" cy="377.9" r="1.0"/><circle cx="456.2" cy="376.8" r="1.0"/><circle cx="639.3" cy="371.0" r="0.6"/><circle cx="632.5" cy="371.9" r="0.6"/><circle cx="438.9" cy="377.8" r="0.8"/><circle cx="450.0" cy="376.5" r="0.8"/><circle cx="587.2" cy="377.1" r="0.8"/><circle cx="675.3" cy="371.1" r="0.6"/><circle cx="505.3" cy="375.8" r="1.0"/><circle cx="462.2" cy="375.8" r="0.8"/><circle cx="495.6" cy="372.1" r="1.0"/><circle cx="472.0" cy="375.2" r="0.8"/><circle cx="652.6" cy="372.1" r="1.0"/><circle cx="430.2" cy="377.4" r="0.6"/><circle cx="503.4" cy="370.8" r="0.8"/><circle cx="660.5" cy="375.8" r="1.0"/><circle cx="465.9" cy="370.9" r="0.8"/><circle cx="527.9" cy="371.5" r="0.6"/><circle cx="443.8" cy="376.4" r="0.6"/><circle cx="657.7" cy="373.4" r="0.6"/><circle cx="488.2" cy="375.6" r="0.8"/><circle cx="585.2" cy="371.0" r="0.8"/><circle cx="512.2" cy="372.1" r="0.8"/><circle cx="561.1" cy="375.9" r="0.6"/><circle cx="649.4" cy="370.6" r="0.8"/><circle cx="497.2" cy="376.3" r="0.6"/><circle cx="536.8" cy="373.8" r="0.6"/><circle cx="646.2" cy="375.4" r="0.8"/><circle cx="502.7" cy="375.3" r="0.6"/><circle cx="665.5" cy="373.8" r="1.0"/><circle cx="538.7" cy="373.6" r="0.8"/><circle cx="491.2" cy="370.9" r="1.0"/><circle cx="555.9" cy="371.6" r="0.6"/><circle cx="548.2" cy="373.3" r="0.8"/><circle cx="521.3" cy="371.0" r="1.0"/><circle cx="525.5" cy="371.3" r="0.8"/><circle cx="556.8" cy="372.4" r="0.8"/><circle cx="637.6" cy="372.4" r="1.0"/><circle cx="547.4" cy="378.2" r="0.6"/><circle cx="469.4" cy="372.2" r="1.0"/><circle cx="648.4" cy="373.5" r="0.6"/><circle cx="495.3" cy="374.6" r="0.8"/><circle cx="520.8" cy="377.0" r="0.6"/><circle cx="534.3" cy="370.2" r="0.8"/></g>
<path d="M397.5 370.1H679.8" stroke="#ea3323" stroke-width="1.7" stroke-dasharray="10.2 4.7" fill="none"/>
<path d="M492.4 293.7V385" stroke="#000" stroke-width="1.2" stroke-dasharray="4.1 3.75" fill="none"/>
<path d="M425.0 367.9L429.1 372.0L425.0 376.1L420.9 372.0Z" fill="#b3b2e0" stroke="#1a1a1a" stroke-width="1.25"/>
<path d="M507.5 363.9L511.6 368.0L507.5 372.1L503.4 368.0Z" fill="#b3b2e0" stroke="#1a1a1a" stroke-width="1.25"/>
<path d="M543.0 370.9L547.1 375.0L543.0 379.1L538.9 375.0Z" fill="#b3b2e0" stroke="#1a1a1a" stroke-width="1.25"/>
<path d="M583.5 359.9L587.6 364.0L583.5 368.1L579.4 364.0Z" fill="#b3b2e0" stroke="#1a1a1a" stroke-width="1.25"/>
<path d="M631.5 372.9L635.6 377.0L631.5 381.1L627.4 377.0Z" fill="#b3b2e0" stroke="#1a1a1a" stroke-width="1.25"/>
<path d="M609.9 298.9L614.0 303.0L609.9 307.1L605.8 303.0Z" fill="#b3b2e0" stroke="#1a1a1a" stroke-width="1.25"/>
<path d="M458.0 364.6L462.2 371.8L453.8 371.8Z" fill="#b3b2e0" stroke="#1a1a1a" stroke-width="1.25"/>
<path d="M397.25 292V385.5" stroke="#000" stroke-width="1.15" fill="none"/><path d="M396.75 385H679.8" stroke="#333" stroke-width="1.15" fill="none"/><path d="M390.5 377.5H397.25" stroke="#000" stroke-width="1.1" fill="none"/><path d="M390.5 364.9H397.25" stroke="#000" stroke-width="1.1" fill="none"/><path d="M390.5 352.3H397.25" stroke="#000" stroke-width="1.1" fill="none"/><path d="M390.5 339.7H397.25" stroke="#000" stroke-width="1.1" fill="none"/><path d="M390.5 327.1H397.25" stroke="#000" stroke-width="1.1" fill="none"/><path d="M390.5 314.5H397.25" stroke="#000" stroke-width="1.1" fill="none"/><path d="M390.5 301.9H397.25" stroke="#000" stroke-width="1.1" fill="none"/><text transform="translate(382.9 377.5) rotate(-90)" text-anchor="middle" font-size="10.6">0</text><text transform="translate(382.9 352.3) rotate(-90)" text-anchor="middle" font-size="10.6">20</text><text transform="translate(382.9 327.1) rotate(-90)" text-anchor="middle" font-size="10.6">40</text><text transform="translate(382.9 301.9) rotate(-90)" text-anchor="middle" font-size="10.6">60</text><text transform="translate(367.1 339.3) rotate(-90)" text-anchor="middle" font-size="11.5">−log<tspan font-size="8" dy="2.2">10</tspan><tspan dy="-2.2">(P</tspan><tspan font-size="7.8" dy="2.2">eQTL</tspan><tspan dy="-2.2">)</tspan></text>
<g class="pm" clip-path="url(#cb2)"><circle cx="436.5" cy="477.0" r="1.9"/><circle cx="438.0" cy="481.0" r="1.9"/><circle cx="434.0" cy="484.0" r="1.9"/><circle cx="434.0" cy="488.0" r="1.9"/><circle cx="430.0" cy="481.0" r="1.9"/><circle cx="432.0" cy="481.0" r="1.9"/><circle cx="436.0" cy="474.0" r="1.9"/><circle cx="447.0" cy="480.0" r="1.9"/><circle cx="449.0" cy="480.0" r="1.9"/><circle cx="456.5" cy="478.5" r="1.9"/><circle cx="461.0" cy="479.0" r="1.9"/><circle cx="465.0" cy="478.0" r="1.9"/><circle cx="458.0" cy="484.0" r="1.9"/><circle cx="462.0" cy="484.0" r="1.9"/><circle cx="460.0" cy="486.5" r="1.9"/><circle cx="480.5" cy="477.0" r="1.9"/><circle cx="492.5" cy="477.0" r="1.9"/><circle cx="496.0" cy="477.0" r="1.9"/><circle cx="499.0" cy="477.0" r="1.9"/><circle cx="502.0" cy="477.0" r="1.9"/><circle cx="500.5" cy="483.0" r="1.9"/><circle cx="507.0" cy="470.5" r="1.9"/><circle cx="508.0" cy="483.0" r="1.9"/><circle cx="511.0" cy="477.0" r="1.9"/><circle cx="513.0" cy="478.0" r="1.9"/><circle cx="516.0" cy="477.0" r="1.9"/><circle cx="519.0" cy="477.0" r="1.9"/><circle cx="517.0" cy="484.0" r="1.9"/><circle cx="522.0" cy="485.5" r="1.9"/><circle cx="532.0" cy="482.0" r="1.9"/><circle cx="535.0" cy="482.0" r="1.9"/><circle cx="552.0" cy="483.5" r="1.9"/><circle cx="533.0" cy="474.0" r="1.9"/><circle cx="536.0" cy="474.0" r="1.9"/><circle cx="542.5" cy="468.0" r="1.9"/><circle cx="576.5" cy="466.5" r="1.9"/><circle cx="583.0" cy="470.0" r="1.9"/><circle cx="584.0" cy="471.0" r="1.9"/><circle cx="589.0" cy="466.0" r="1.9"/><circle cx="593.0" cy="469.0" r="1.9"/><circle cx="594.0" cy="471.0" r="1.9"/><circle cx="601.5" cy="463.5" r="1.9"/><circle cx="602.0" cy="465.0" r="1.9"/><circle cx="605.0" cy="477.0" r="1.9"/><circle cx="616.5" cy="479.5" r="1.9"/><circle cx="624.0" cy="478.5" r="1.9"/><circle cx="663.0" cy="482.5" r="1.9"/><circle cx="665.0" cy="482.5" r="1.9"/><circle cx="569.0" cy="471.5" r="1.9"/><circle cx="562.0" cy="471.0" r="1.9"/><circle cx="572.0" cy="478.0" r="1.9"/><circle cx="578.0" cy="478.0" r="1.9"/><circle cx="590.0" cy="478.0" r="1.9"/><circle cx="593.0" cy="480.0" r="1.9"/><circle cx="626.0" cy="482.0" r="1.9"/><circle cx="634.0" cy="484.0" r="1.9"/><circle cx="553.9" cy="473.0" r="1.9"/><circle cx="560.6" cy="472.6" r="1.9"/><circle cx="548.0" cy="472.9" r="1.9"/><circle cx="549.5" cy="472.6" r="1.9"/><circle cx="544.6" cy="472.2" r="1.9"/><circle cx="556.0" cy="473.4" r="1.9"/><circle cx="554.0" cy="473.0" r="1.9"/><circle cx="545.2" cy="472.6" r="1.9"/><circle cx="560.6" cy="472.9" r="1.9"/><circle cx="561.2" cy="472.4" r="1.9"/><circle cx="550.5" cy="472.9" r="1.9"/><circle cx="576.1" cy="480.8" r="1.9"/><circle cx="558.6" cy="481.3" r="1.9"/><circle cx="564.6" cy="481.1" r="1.9"/><circle cx="559.1" cy="480.9" r="1.9"/><circle cx="561.6" cy="480.8" r="1.9"/><circle cx="569.9" cy="481.0" r="1.9"/><circle cx="560.2" cy="481.2" r="1.9"/><circle cx="559.6" cy="481.1" r="1.9"/><circle cx="577.6" cy="481.3" r="1.9"/><circle cx="566.4" cy="480.9" r="1.9"/><circle cx="567.9" cy="481.5" r="1.9"/><circle cx="585.4" cy="468.6" r="1.9"/><circle cx="583.5" cy="472.7" r="1.9"/><circle cx="584.0" cy="469.0" r="1.9"/><circle cx="583.5" cy="470.9" r="1.9"/><circle cx="584.7" cy="468.8" r="1.9"/><circle cx="584.0" cy="469.3" r="1.9"/><circle cx="584.3" cy="469.7" r="1.9"/><circle cx="583.7" cy="471.2" r="1.9"/><circle cx="632.9" cy="468.9" r="1.9"/><circle cx="638.2" cy="472.0" r="1.9"/><circle cx="636.2" cy="470.2" r="1.9"/><circle cx="639.1" cy="475.3" r="1.9"/><circle cx="631.1" cy="474.8" r="1.9"/><circle cx="637.5" cy="473.8" r="1.9"/><circle cx="637.7" cy="473.2" r="1.9"/><circle cx="638.2" cy="472.8" r="1.9"/><circle cx="636.5" cy="470.9" r="1.9"/><circle cx="638.4" cy="472.4" r="1.9"/><circle cx="632.7" cy="475.8" r="1.9"/><circle cx="636.1" cy="475.0" r="1.9"/><circle cx="634.2" cy="474.0" r="1.9"/><circle cx="639.0" cy="469.6" r="1.9"/><circle cx="619.1" cy="408.9" r="1.9"/><circle cx="623.2" cy="409.0" r="1.9"/><circle cx="606.3" cy="408.4" r="1.9"/><circle cx="626.9" cy="408.6" r="1.9"/><circle cx="597.6" cy="409.0" r="1.9"/><circle cx="603.0" cy="408.6" r="1.9"/><circle cx="606.2" cy="408.8" r="1.9"/><circle cx="628.2" cy="408.9" r="1.9"/><circle cx="610.6" cy="408.7" r="1.9"/><circle cx="626.2" cy="408.8" r="1.9"/><circle cx="626.8" cy="408.8" r="1.9"/><circle cx="628.7" cy="408.5" r="1.9"/><circle cx="604.7" cy="408.9" r="1.9"/><circle cx="605.4" cy="408.9" r="1.9"/><circle cx="617.9" cy="408.7" r="1.9"/><circle cx="627.7" cy="408.6" r="1.9"/><circle cx="617.6" cy="408.7" r="1.9"/><circle cx="610.6" cy="409.0" r="1.9"/><circle cx="613.1" cy="408.7" r="1.9"/><circle cx="623.3" cy="408.6" r="1.9"/><circle cx="617.1" cy="408.4" r="1.9"/><circle cx="613.5" cy="408.5" r="1.9"/><circle cx="605.5" cy="408.5" r="1.9"/><circle cx="604.8" cy="408.5" r="1.9"/><circle cx="613.7" cy="408.8" r="1.9"/><circle cx="613.4" cy="408.6" r="1.9"/><circle cx="599.0" cy="408.5" r="1.9"/><circle cx="613.8" cy="408.3" r="1.9"/><circle cx="607.8" cy="408.6" r="1.9"/><circle cx="612.8" cy="409.0" r="1.9"/><circle cx="628.1" cy="408.7" r="1.9"/><circle cx="601.7" cy="408.5" r="1.9"/><circle cx="615.8" cy="408.4" r="1.9"/><circle cx="612.8" cy="408.5" r="1.9"/><circle cx="623.0" cy="420.5" r="1.9"/><circle cx="598.0" cy="432.0" r="1.9"/><circle cx="599.0" cy="429.5" r="1.9"/><circle cx="600.5" cy="428.0" r="1.9"/><circle cx="602.0" cy="431.0" r="1.9"/><circle cx="618.0" cy="430.0" r="1.9"/><circle cx="622.0" cy="431.0" r="1.9"/><circle cx="624.5" cy="435.0" r="1.9"/><circle cx="626.0" cy="437.0" r="1.9"/><circle cx="608.0" cy="437.0" r="1.9"/><circle cx="608.5" cy="438.5" r="1.9"/><circle cx="625.0" cy="443.0" r="1.9"/><circle cx="626.0" cy="444.0" r="1.9"/><circle cx="612.6" cy="429.0" r="1.9"/><circle cx="609.0" cy="429.0" r="1.9"/><circle cx="615.8" cy="428.9" r="1.9"/><circle cx="615.3" cy="429.4" r="1.9"/><circle cx="607.0" cy="428.6" r="1.9"/><circle cx="610.4" cy="428.8" r="1.9"/><circle cx="603.6" cy="429.1" r="1.9"/><circle cx="607.0" cy="429.4" r="1.9"/><circle cx="608.8" cy="428.8" r="1.9"/><circle cx="613.9" cy="428.6" r="1.9"/></g>
<path d="M397.5 486.6H679.8" stroke="#ea3323" stroke-width="1.7" stroke-dasharray="10.2 4.7" fill="none"/>
<path d="M492.4 403.7V495.5" stroke="#000" stroke-width="1.2" stroke-dasharray="4.1 3.75" fill="none"/>
<path d="M425.0 477.9L429.1 482.0L425.0 486.1L420.9 482.0Z" fill="#e2c4b4" stroke="#1a1a1a" stroke-width="1.25"/>
<path d="M507.5 472.9L511.6 477.0L507.5 481.1L503.4 477.0Z" fill="#e2c4b4" stroke="#1a1a1a" stroke-width="1.25"/>
<path d="M543.0 473.9L547.1 478.0L543.0 482.1L538.9 478.0Z" fill="#e2c4b4" stroke="#1a1a1a" stroke-width="1.25"/>
<path d="M583.5 476.4L587.6 480.5L583.5 484.6L579.4 480.5Z" fill="#e2c4b4" stroke="#1a1a1a" stroke-width="1.25"/>
<path d="M631.5 473.9L635.6 478.0L631.5 482.1L627.4 478.0Z" fill="#e2c4b4" stroke="#1a1a1a" stroke-width="1.25"/>
<path d="M609.9 404.6L614.0 408.7L609.9 412.8L605.8 408.7Z" fill="#e2c4b4" stroke="#1a1a1a" stroke-width="1.25"/>
<path d="M397.25 402V495.6" stroke="#000" stroke-width="1.15" fill="none"/><path d="M396.75 495.1H679.8" stroke="#111" stroke-width="1.15" fill="none"/><path d="M390.5 488.0H397.25" stroke="#000" stroke-width="1.1" fill="none"/><path d="M390.5 475.2H397.25" stroke="#000" stroke-width="1.1" fill="none"/><path d="M390.5 462.4H397.25" stroke="#000" stroke-width="1.1" fill="none"/><path d="M390.5 449.7H397.25" stroke="#000" stroke-width="1.1" fill="none"/><path d="M390.5 436.9H397.25" stroke="#000" stroke-width="1.1" fill="none"/><path d="M390.5 424.1H397.25" stroke="#000" stroke-width="1.1" fill="none"/><path d="M390.5 411.4H397.25" stroke="#000" stroke-width="1.1" fill="none"/><text transform="translate(382.9 488.0) rotate(-90)" text-anchor="middle" font-size="10.6">0</text><text transform="translate(382.9 462.4) rotate(-90)" text-anchor="middle" font-size="10.6">100</text><text transform="translate(382.9 424.1) rotate(-90)" text-anchor="middle" font-size="10.6">250</text><text transform="translate(367.1 449.35) rotate(-90)" text-anchor="middle" font-size="11.5">−log<tspan font-size="8" dy="2.2">10</tspan><tspan dy="-2.2">(P</tspan><tspan font-size="7.8" dy="2.2">mQTL</tspan><tspan dy="-2.2">)</tspan></text>
<text x="445" y="415" font-size="10.6" text-anchor="middle">DNAm site</text>
<text x="445" y="427" font-size="10.6" text-anchor="middle">cg13428477</text>
<rect x="51.9" y="509.5" width="283.2" height="118.2" fill="none" stroke="#333" stroke-width="1.1"/>
<path d="M96.6 627.7V635.3" stroke="#222" stroke-width="1.1"/>
<text x="96.6" y="657" font-size="12.8" text-anchor="middle">7.8</text>
<path d="M164.2 627.7V635.3" stroke="#222" stroke-width="1.1"/>
<text x="164.2" y="657" font-size="12.8" text-anchor="middle">8.0</text>
<path d="M231.6 627.7V635.3" stroke="#222" stroke-width="1.1"/>
<text x="231.6" y="657" font-size="12.8" text-anchor="middle">8.2</text>
<path d="M299.4 627.7V635.3" stroke="#222" stroke-width="1.1"/>
<text x="299.4" y="657" font-size="12.8" text-anchor="middle">8.4</text>
<text x="193.7" y="671.6" font-size="13.1" text-anchor="middle">Position on chr 1 [Mb]</text>
<text x="94.3" y="532.4" font-size="12.9" font-style="italic">PER3</text>
<text x="129.7" y="532.5" font-size="20.6" class="ar">→</text>
<path d="M110.4 541.1H132.5" stroke="#1a1aa8" stroke-width="1.6" fill="none"/>
<text x="154.3" y="532.5" font-size="20.6" class="ar">←</text>
<text x="178.1" y="532.4" font-size="12.9" font-style="italic">ERRFI1</text>
<path d="M185.2 541.1H193.6" stroke="#1a1aa8" stroke-width="1.6" fill="none"/>
<text x="257.8" y="532.4" font-size="12.9" font-style="italic">SLC45A1</text>
<text x="315.5" y="532.5" font-size="20.6" class="ar">→</text>
<path d="M291.1 541.1H301.2" stroke="#1a1aa8" stroke-width="1.6" fill="none"/>
<text x="119.5" y="560.0" font-size="20.6" class="ar">←</text>
<text x="144.2" y="559.9" font-size="12.9" font-style="italic">TNFRSF9</text>
<path d="M156.4 568.3H164.8" stroke="#1a1aa8" stroke-width="1.6" fill="none"/>
<text x="77.4" y="586.3" font-size="12.9" font-style="italic">VAMP3</text>
<text x="121.4" y="586.4" font-size="20.6" class="ar">→</text>
<path d="M106.4 595.5H110.9" stroke="#1a1aa8" stroke-width="1.6" fill="none"/>
<text x="142.4" y="586.3" font-size="12.7" font-style="italic" class="r" fill="#b3121b" font-weight="bold">PARK7</text>
<text x="187.0" y="586.4" font-size="20.6" class="ar" fill="#b3121b">→</text>
<path d="M168.1 595.5H180.4" stroke="#b3121b" stroke-width="2.7" fill="none"/>
<text x="104.2" y="614.0" font-size="20.6" class="ar">←</text>
<text x="128.7" y="613.9" font-size="12.9" font-style="italic">UTS2</text>
<path d="M130.3 623.1H135.4" stroke="#1a1aa8" stroke-width="1.6" fill="none"/>
<rect x="397.5" y="509.4" width="282.9" height="118.3" fill="none" stroke="#333" stroke-width="1.1"/>
<path d="M432.4 627.7V635.2" stroke="#222" stroke-width="1.1"/>
<text x="432.4" y="656.7" font-size="12.8" text-anchor="middle">122.70</text>
<path d="M495.3 627.7V635.2" stroke="#222" stroke-width="1.1"/>
<text x="495.3" y="656.7" font-size="12.8" text-anchor="middle">122.75</text>
<path d="M558 627.7V635.2" stroke="#222" stroke-width="1.1"/>
<text x="558" y="656.7" font-size="12.8" text-anchor="middle">122.80</text>
<path d="M620.3 627.7V635.2" stroke="#222" stroke-width="1.1"/>
<text x="620.3" y="656.7" font-size="12.8" text-anchor="middle">122.85</text>
<text x="538.6" y="671.3" font-size="13.1" text-anchor="middle">Position on chr 3 [Mb]</text>
<text x="406.7" y="546.1" font-size="20.6" class="ar">←</text>
<text x="430.6" y="546.0" font-size="12.9" font-style="italic">SEMA5B</text>
<path d="M398 554.8H492.7" stroke="#1a1aa8" stroke-width="1.6" fill="none"/>
<text x="572" y="545.9" font-size="12.7" font-style="italic" class="r" fill="#b3121b" font-weight="bold">PDIA5</text>
<text x="612.3" y="546.0" font-size="20.6" class="ar" fill="#b3121b">→</text>
<path d="M538.9 554.6H659.8" stroke="#b3121b" stroke-width="2.7" fill="none"/>
<text x="608.2" y="586.8" font-size="12.9" font-style="italic">MIR7110</text>
<text x="663.3" y="586.9" font-size="20.6" class="ar">→</text>
<rect x="657.6" y="594.6" width="1.4" height="1.4" fill="#1a1aa8"/>
</g></svg>
</body></html>
